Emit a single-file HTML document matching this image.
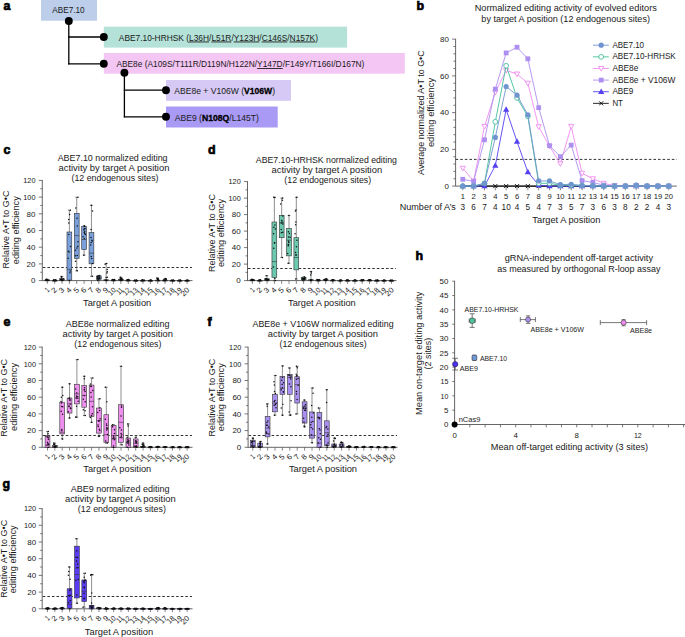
<!DOCTYPE html>
<html><head><meta charset="utf-8"><style>
html,body{margin:0;padding:0;background:#fff;overflow:hidden}
svg{display:block}
text{font-family:'Liberation Sans', sans-serif}
</style></head><body>
<svg width="685" height="637" viewBox="0 0 685 637" font-family="'Liberation Sans', sans-serif" fill="#1a1a1a">
<rect width="685" height="637" fill="#fff"/>
<text x="3.6" y="10" font-size="12.4" font-weight="bold" fill="#000" stroke="#000" stroke-width="0.7">a</text>
<text x="416.4" y="10" font-size="12.4" font-weight="bold" fill="#000" stroke="#000" stroke-width="0.7">b</text>
<text x="3.4" y="154" font-size="12.4" font-weight="bold" fill="#000" stroke="#000" stroke-width="0.7">c</text>
<text x="208" y="153.6" font-size="12.4" font-weight="bold" fill="#000" stroke="#000" stroke-width="0.7">d</text>
<text x="3.4" y="326" font-size="12.4" font-weight="bold" fill="#000" stroke="#000" stroke-width="0.7">e</text>
<text x="207.6" y="325.8" font-size="12.4" font-weight="bold" fill="#000" stroke="#000" stroke-width="0.7">f</text>
<text x="2.4" y="488" font-size="12.4" font-weight="bold" fill="#000" stroke="#000" stroke-width="0.7">g</text>
<text x="415.5" y="259.6" font-size="12.4" font-weight="bold" fill="#000" stroke="#000" stroke-width="0.7">h</text>
<rect x="41.00" y="0.00" width="56.00" height="20.70" fill="#bdceea" />
<rect x="103.80" y="26.70" width="243.30" height="20.90" fill="#b4e2d8" />
<rect x="103.80" y="53.00" width="301.00" height="20.70" fill="#f3c6f3" />
<rect x="166.00" y="80.00" width="125.00" height="20.80" fill="#d6c9f5" />
<rect x="166.00" y="106.50" width="111.70" height="21.00" fill="#a99af6" />
<line x1="68.80" y1="21.00" x2="68.80" y2="64.40" stroke="#000" stroke-width="1.3" />
<line x1="68.20" y1="37.00" x2="103.80" y2="37.00" stroke="#000" stroke-width="1.3" />
<line x1="68.20" y1="63.80" x2="103.80" y2="63.80" stroke="#000" stroke-width="1.3" />
<line x1="124.40" y1="72.80" x2="124.40" y2="117.40" stroke="#000" stroke-width="1.3" />
<line x1="123.80" y1="90.20" x2="166.00" y2="90.20" stroke="#000" stroke-width="1.3" />
<line x1="123.80" y1="116.80" x2="166.00" y2="116.80" stroke="#000" stroke-width="1.3" />
<circle cx="68.80" cy="21.00" r="3.95" fill="#000" />
<circle cx="103.80" cy="37.00" r="3.95" fill="#000" />
<circle cx="103.80" cy="63.70" r="3.95" fill="#000" />
<circle cx="124.40" cy="72.80" r="3.95" fill="#000" />
<circle cx="166.00" cy="90.20" r="3.95" fill="#000" />
<circle cx="166.00" cy="116.80" r="3.95" fill="#000" />
<text x="68.45" y="12.90" font-size="8.8" text-anchor="middle" textLength="32.40" lengthAdjust="spacingAndGlyphs">ABE7.10</text>
<text x="118.80" y="40.50" font-size="8.8" textLength="199.20" lengthAdjust="spacingAndGlyphs">ABE7.10-HRHSK (<tspan text-decoration="underline">L36H</tspan>/<tspan text-decoration="underline">L51R</tspan>/<tspan text-decoration="underline">Y123H</tspan>/<tspan text-decoration="underline">C146S</tspan>/<tspan text-decoration="underline">N157K</tspan>)</text>
<text x="116.40" y="67.10" font-size="8.8" textLength="248.00" lengthAdjust="spacingAndGlyphs">ABE8e (A109S/T111R/D119N/H122N/<tspan text-decoration="underline">Y147D</tspan>/F149Y/T166I/D167N)</text>
<text x="174.30" y="93.90" font-size="8.8" textLength="100.70" lengthAdjust="spacingAndGlyphs">ABE8e + V106W (<tspan font-weight="bold" fill="#000" stroke="#000" stroke-width="0.3">V106W</tspan>)</text>
<text x="174.70" y="120.80" font-size="8.8" textLength="84.30" lengthAdjust="spacingAndGlyphs">ABE9 (<tspan font-weight="bold" fill="#000" stroke="#000" stroke-width="0.3">N108Q</tspan>/L145T)</text>
<text x="474.65" y="11.00" font-size="9.0" textLength="182.20" lengthAdjust="spacingAndGlyphs">Normalized editing activity of evolved editors</text>
<text x="481.35" y="21.60" font-size="9.0" textLength="168.60" lengthAdjust="spacingAndGlyphs">by target A position (12 endogenous sites)</text>
<line x1="455.60" y1="38.74" x2="455.60" y2="186.10" stroke="#555" stroke-width="0.9" />
<line x1="452.10" y1="186.10" x2="455.60" y2="186.10" stroke="#555" stroke-width="0.8" />
<text x="448.90" y="188.85" font-size="7.8" text-anchor="end" textLength="4.45" lengthAdjust="spacingAndGlyphs">0</text>
<line x1="453.40" y1="178.75" x2="455.60" y2="178.75" stroke="#555" stroke-width="0.8" />
<line x1="453.40" y1="171.40" x2="455.60" y2="171.40" stroke="#555" stroke-width="0.8" />
<line x1="453.40" y1="164.06" x2="455.60" y2="164.06" stroke="#555" stroke-width="0.8" />
<line x1="453.40" y1="156.71" x2="455.60" y2="156.71" stroke="#555" stroke-width="0.8" />
<line x1="452.10" y1="149.36" x2="455.60" y2="149.36" stroke="#555" stroke-width="0.8" />
<text x="448.90" y="152.11" font-size="7.8" text-anchor="end" textLength="8.90" lengthAdjust="spacingAndGlyphs">20</text>
<line x1="453.40" y1="142.01" x2="455.60" y2="142.01" stroke="#555" stroke-width="0.8" />
<line x1="453.40" y1="134.66" x2="455.60" y2="134.66" stroke="#555" stroke-width="0.8" />
<line x1="453.40" y1="127.32" x2="455.60" y2="127.32" stroke="#555" stroke-width="0.8" />
<line x1="453.40" y1="119.97" x2="455.60" y2="119.97" stroke="#555" stroke-width="0.8" />
<line x1="452.10" y1="112.62" x2="455.60" y2="112.62" stroke="#555" stroke-width="0.8" />
<text x="448.90" y="115.37" font-size="7.8" text-anchor="end" textLength="8.90" lengthAdjust="spacingAndGlyphs">40</text>
<line x1="453.40" y1="105.27" x2="455.60" y2="105.27" stroke="#555" stroke-width="0.8" />
<line x1="453.40" y1="97.92" x2="455.60" y2="97.92" stroke="#555" stroke-width="0.8" />
<line x1="453.40" y1="90.58" x2="455.60" y2="90.58" stroke="#555" stroke-width="0.8" />
<line x1="453.40" y1="83.23" x2="455.60" y2="83.23" stroke="#555" stroke-width="0.8" />
<line x1="452.10" y1="75.88" x2="455.60" y2="75.88" stroke="#555" stroke-width="0.8" />
<text x="448.90" y="78.63" font-size="7.8" text-anchor="end" textLength="8.90" lengthAdjust="spacingAndGlyphs">60</text>
<line x1="453.40" y1="68.53" x2="455.60" y2="68.53" stroke="#555" stroke-width="0.8" />
<line x1="453.40" y1="61.18" x2="455.60" y2="61.18" stroke="#555" stroke-width="0.8" />
<line x1="453.40" y1="53.84" x2="455.60" y2="53.84" stroke="#555" stroke-width="0.8" />
<line x1="453.40" y1="46.49" x2="455.60" y2="46.49" stroke="#555" stroke-width="0.8" />
<line x1="452.10" y1="39.14" x2="455.60" y2="39.14" stroke="#555" stroke-width="0.8" />
<text x="448.90" y="41.89" font-size="7.8" text-anchor="end" textLength="8.90" lengthAdjust="spacingAndGlyphs">80</text>
<line x1="455.60" y1="186.10" x2="676.80" y2="186.10" stroke="#555" stroke-width="0.9" />
<line x1="462.80" y1="186.10" x2="462.80" y2="190.30" stroke="#555" stroke-width="0.7" />
<text x="462.80" y="199.30" font-size="7.6" text-anchor="middle">1</text>
<line x1="473.64" y1="186.10" x2="473.64" y2="190.30" stroke="#555" stroke-width="0.7" />
<text x="473.64" y="199.30" font-size="7.6" text-anchor="middle">2</text>
<line x1="484.48" y1="186.10" x2="484.48" y2="190.30" stroke="#555" stroke-width="0.7" />
<text x="484.48" y="199.30" font-size="7.6" text-anchor="middle">3</text>
<line x1="495.32" y1="186.10" x2="495.32" y2="190.30" stroke="#555" stroke-width="0.7" />
<text x="495.32" y="199.30" font-size="7.6" text-anchor="middle">4</text>
<line x1="506.16" y1="186.10" x2="506.16" y2="190.30" stroke="#555" stroke-width="0.7" />
<text x="506.16" y="199.30" font-size="7.6" text-anchor="middle">5</text>
<line x1="517.00" y1="186.10" x2="517.00" y2="190.30" stroke="#555" stroke-width="0.7" />
<text x="517.00" y="199.30" font-size="7.6" text-anchor="middle">6</text>
<line x1="527.84" y1="186.10" x2="527.84" y2="190.30" stroke="#555" stroke-width="0.7" />
<text x="527.84" y="199.30" font-size="7.6" text-anchor="middle">7</text>
<line x1="538.68" y1="186.10" x2="538.68" y2="190.30" stroke="#555" stroke-width="0.7" />
<text x="538.68" y="199.30" font-size="7.6" text-anchor="middle">8</text>
<line x1="549.52" y1="186.10" x2="549.52" y2="190.30" stroke="#555" stroke-width="0.7" />
<text x="549.52" y="199.30" font-size="7.6" text-anchor="middle">9</text>
<line x1="560.36" y1="186.10" x2="560.36" y2="190.30" stroke="#555" stroke-width="0.7" />
<text x="560.36" y="199.30" font-size="7.6" text-anchor="middle">10</text>
<line x1="571.20" y1="186.10" x2="571.20" y2="190.30" stroke="#555" stroke-width="0.7" />
<text x="571.20" y="199.30" font-size="7.6" text-anchor="middle">11</text>
<line x1="582.04" y1="186.10" x2="582.04" y2="190.30" stroke="#555" stroke-width="0.7" />
<text x="582.04" y="199.30" font-size="7.6" text-anchor="middle">12</text>
<line x1="592.88" y1="186.10" x2="592.88" y2="190.30" stroke="#555" stroke-width="0.7" />
<text x="592.88" y="199.30" font-size="7.6" text-anchor="middle">13</text>
<line x1="603.72" y1="186.10" x2="603.72" y2="190.30" stroke="#555" stroke-width="0.7" />
<text x="603.72" y="199.30" font-size="7.6" text-anchor="middle">14</text>
<line x1="614.56" y1="186.10" x2="614.56" y2="190.30" stroke="#555" stroke-width="0.7" />
<text x="614.56" y="199.30" font-size="7.6" text-anchor="middle">15</text>
<line x1="625.40" y1="186.10" x2="625.40" y2="190.30" stroke="#555" stroke-width="0.7" />
<text x="625.40" y="199.30" font-size="7.6" text-anchor="middle">16</text>
<line x1="636.24" y1="186.10" x2="636.24" y2="190.30" stroke="#555" stroke-width="0.7" />
<text x="636.24" y="199.30" font-size="7.6" text-anchor="middle">17</text>
<line x1="647.08" y1="186.10" x2="647.08" y2="190.30" stroke="#555" stroke-width="0.7" />
<text x="647.08" y="199.30" font-size="7.6" text-anchor="middle">18</text>
<line x1="657.92" y1="186.10" x2="657.92" y2="190.30" stroke="#555" stroke-width="0.7" />
<text x="657.92" y="199.30" font-size="7.6" text-anchor="middle">19</text>
<line x1="668.76" y1="186.10" x2="668.76" y2="190.30" stroke="#555" stroke-width="0.7" />
<text x="668.76" y="199.30" font-size="7.6" text-anchor="middle">20</text>
<text x="462.80" y="209.80" font-size="8.2" text-anchor="middle">3</text>
<text x="473.64" y="209.80" font-size="8.2" text-anchor="middle">6</text>
<text x="484.48" y="209.80" font-size="8.2" text-anchor="middle">7</text>
<text x="495.32" y="209.80" font-size="8.2" text-anchor="middle">4</text>
<text x="506.16" y="209.80" font-size="8.2" text-anchor="middle">10</text>
<text x="517.00" y="209.80" font-size="8.2" text-anchor="middle">4</text>
<text x="527.84" y="209.80" font-size="8.2" text-anchor="middle">5</text>
<text x="538.68" y="209.80" font-size="8.2" text-anchor="middle">4</text>
<text x="549.52" y="209.80" font-size="8.2" text-anchor="middle">7</text>
<text x="560.36" y="209.80" font-size="8.2" text-anchor="middle">3</text>
<text x="571.20" y="209.80" font-size="8.2" text-anchor="middle">5</text>
<text x="582.04" y="209.80" font-size="8.2" text-anchor="middle">7</text>
<text x="592.88" y="209.80" font-size="8.2" text-anchor="middle">3</text>
<text x="603.72" y="209.80" font-size="8.2" text-anchor="middle">6</text>
<text x="614.56" y="209.80" font-size="8.2" text-anchor="middle">3</text>
<text x="625.40" y="209.80" font-size="8.2" text-anchor="middle">8</text>
<text x="636.24" y="209.80" font-size="8.2" text-anchor="middle">2</text>
<text x="647.08" y="209.80" font-size="8.2" text-anchor="middle">2</text>
<text x="657.92" y="209.80" font-size="8.2" text-anchor="middle">4</text>
<text x="668.76" y="209.80" font-size="8.2" text-anchor="middle">3</text>
<text x="455.90" y="209.60" font-size="8.4" text-anchor="end" textLength="56.20" lengthAdjust="spacingAndGlyphs">Number of A’s</text>
<text x="532.35" y="222.70" font-size="9.0" textLength="68.10" lengthAdjust="spacingAndGlyphs">Target A position</text>
<text x="423.60" y="112.60" font-size="9.0" text-anchor="middle" textLength="124.60" lengthAdjust="spacingAndGlyphs" transform="rotate(-90 423.60 112.60)">Average normalized A•T to G•C</text>
<text x="434.40" y="112.50" font-size="9.0" text-anchor="middle" textLength="69.20" lengthAdjust="spacingAndGlyphs" transform="rotate(-90 434.40 112.50)">editing efficiency</text>
<line x1="455.60" y1="159.40" x2="676.80" y2="159.40" stroke="#333" stroke-width="1.0" stroke-dasharray="2.6 2.0"/>
<polyline points="462.80,186.10 473.64,186.10 484.48,186.10 495.32,186.10 506.16,186.10 517.00,186.10 527.84,186.10 538.68,186.10 549.52,186.10 560.36,186.10 571.20,186.10 582.04,186.10 592.88,186.10 603.72,186.10 614.56,186.10 625.40,186.10 636.24,186.10 647.08,186.10 657.92,186.10 668.76,186.10" fill="none" stroke="#111" stroke-width="1.2"/>
<path d="M460.80 184.10 L464.80 188.10 M464.80 184.10 L460.80 188.10" stroke="#111" stroke-width="1"/>
<path d="M471.64 184.10 L475.64 188.10 M475.64 184.10 L471.64 188.10" stroke="#111" stroke-width="1"/>
<path d="M482.48 184.10 L486.48 188.10 M486.48 184.10 L482.48 188.10" stroke="#111" stroke-width="1"/>
<path d="M493.32 184.10 L497.32 188.10 M497.32 184.10 L493.32 188.10" stroke="#111" stroke-width="1"/>
<path d="M504.16 184.10 L508.16 188.10 M508.16 184.10 L504.16 188.10" stroke="#111" stroke-width="1"/>
<path d="M515.00 184.10 L519.00 188.10 M519.00 184.10 L515.00 188.10" stroke="#111" stroke-width="1"/>
<path d="M525.84 184.10 L529.84 188.10 M529.84 184.10 L525.84 188.10" stroke="#111" stroke-width="1"/>
<path d="M536.68 184.10 L540.68 188.10 M540.68 184.10 L536.68 188.10" stroke="#111" stroke-width="1"/>
<path d="M547.52 184.10 L551.52 188.10 M551.52 184.10 L547.52 188.10" stroke="#111" stroke-width="1"/>
<path d="M558.36 184.10 L562.36 188.10 M562.36 184.10 L558.36 188.10" stroke="#111" stroke-width="1"/>
<path d="M569.20 184.10 L573.20 188.10 M573.20 184.10 L569.20 188.10" stroke="#111" stroke-width="1"/>
<path d="M580.04 184.10 L584.04 188.10 M584.04 184.10 L580.04 188.10" stroke="#111" stroke-width="1"/>
<path d="M590.88 184.10 L594.88 188.10 M594.88 184.10 L590.88 188.10" stroke="#111" stroke-width="1"/>
<path d="M601.72 184.10 L605.72 188.10 M605.72 184.10 L601.72 188.10" stroke="#111" stroke-width="1"/>
<path d="M612.56 184.10 L616.56 188.10 M616.56 184.10 L612.56 188.10" stroke="#111" stroke-width="1"/>
<path d="M623.40 184.10 L627.40 188.10 M627.40 184.10 L623.40 188.10" stroke="#111" stroke-width="1"/>
<path d="M634.24 184.10 L638.24 188.10 M638.24 184.10 L634.24 188.10" stroke="#111" stroke-width="1"/>
<path d="M645.08 184.10 L649.08 188.10 M649.08 184.10 L645.08 188.10" stroke="#111" stroke-width="1"/>
<path d="M655.92 184.10 L659.92 188.10 M659.92 184.10 L655.92 188.10" stroke="#111" stroke-width="1"/>
<path d="M666.76 184.10 L670.76 188.10 M670.76 184.10 L666.76 188.10" stroke="#111" stroke-width="1"/>
<polyline points="462.80,186.10 473.64,186.10 484.48,186.10 495.32,165.53 506.16,109.50 517.00,141.64 527.84,171.96 538.68,185.18 549.52,186.10 560.36,186.10 571.20,186.10 582.04,186.10 592.88,186.10 603.72,186.10 614.56,186.10 625.40,186.10 636.24,186.10 647.08,186.10 657.92,186.10 668.76,186.10" fill="none" stroke="#5440f2" stroke-width="0.9"/>
<path d="M462.80 182.80 L465.90 188.30 L459.70 188.30Z" fill="#5440f2"/>
<path d="M473.64 182.80 L476.74 188.30 L470.54 188.30Z" fill="#5440f2"/>
<path d="M484.48 182.80 L487.58 188.30 L481.38 188.30Z" fill="#5440f2"/>
<path d="M495.32 162.23 L498.42 167.73 L492.22 167.73Z" fill="#5440f2"/>
<path d="M506.16 106.20 L509.26 111.70 L503.06 111.70Z" fill="#5440f2"/>
<path d="M517.00 138.34 L520.10 143.84 L513.90 143.84Z" fill="#5440f2"/>
<path d="M527.84 168.66 L530.94 174.16 L524.74 174.16Z" fill="#5440f2"/>
<path d="M538.68 181.88 L541.78 187.38 L535.58 187.38Z" fill="#5440f2"/>
<path d="M549.52 182.80 L552.62 188.30 L546.42 188.30Z" fill="#5440f2"/>
<path d="M560.36 182.80 L563.46 188.30 L557.26 188.30Z" fill="#5440f2"/>
<path d="M571.20 182.80 L574.30 188.30 L568.10 188.30Z" fill="#5440f2"/>
<path d="M582.04 182.80 L585.14 188.30 L578.94 188.30Z" fill="#5440f2"/>
<path d="M592.88 182.80 L595.98 188.30 L589.78 188.30Z" fill="#5440f2"/>
<path d="M603.72 182.80 L606.82 188.30 L600.62 188.30Z" fill="#5440f2"/>
<path d="M614.56 182.80 L617.66 188.30 L611.46 188.30Z" fill="#5440f2"/>
<path d="M625.40 182.80 L628.50 188.30 L622.30 188.30Z" fill="#5440f2"/>
<path d="M636.24 182.80 L639.34 188.30 L633.14 188.30Z" fill="#5440f2"/>
<path d="M647.08 182.80 L650.18 188.30 L643.98 188.30Z" fill="#5440f2"/>
<path d="M657.92 182.80 L661.02 188.30 L654.82 188.30Z" fill="#5440f2"/>
<path d="M668.76 182.80 L671.86 188.30 L665.66 188.30Z" fill="#5440f2"/>
<polyline points="462.80,168.28 473.64,180.96 484.48,126.40 495.32,92.41 506.16,70.37 517.00,74.04 527.84,83.23 538.68,126.76 549.52,146.24 560.36,163.69 571.20,126.40 582.04,173.24 592.88,178.75 603.72,183.34 614.56,185.55 625.40,186.10 636.24,185.73 647.08,186.10 657.92,186.10 668.76,186.10" fill="none" stroke="#ef8bef" stroke-width="0.9"/>
<path d="M462.80 170.88 L465.40 166.28 L460.20 166.28Z" fill="#fff" stroke="#ef8bef" stroke-width="0.9"/>
<path d="M473.64 183.56 L476.24 178.96 L471.04 178.96Z" fill="#fff" stroke="#ef8bef" stroke-width="0.9"/>
<path d="M484.48 129.00 L487.08 124.40 L481.88 124.40Z" fill="#fff" stroke="#ef8bef" stroke-width="0.9"/>
<path d="M495.32 95.01 L497.92 90.41 L492.72 90.41Z" fill="#fff" stroke="#ef8bef" stroke-width="0.9"/>
<path d="M506.16 72.97 L508.76 68.37 L503.56 68.37Z" fill="#fff" stroke="#ef8bef" stroke-width="0.9"/>
<path d="M517.00 76.64 L519.60 72.04 L514.40 72.04Z" fill="#fff" stroke="#ef8bef" stroke-width="0.9"/>
<path d="M527.84 85.83 L530.44 81.23 L525.24 81.23Z" fill="#fff" stroke="#ef8bef" stroke-width="0.9"/>
<path d="M538.68 129.36 L541.28 124.76 L536.08 124.76Z" fill="#fff" stroke="#ef8bef" stroke-width="0.9"/>
<path d="M549.52 148.84 L552.12 144.24 L546.92 144.24Z" fill="#fff" stroke="#ef8bef" stroke-width="0.9"/>
<path d="M560.36 166.29 L562.96 161.69 L557.76 161.69Z" fill="#fff" stroke="#ef8bef" stroke-width="0.9"/>
<path d="M571.20 129.00 L573.80 124.40 L568.60 124.40Z" fill="#fff" stroke="#ef8bef" stroke-width="0.9"/>
<path d="M582.04 175.84 L584.64 171.24 L579.44 171.24Z" fill="#fff" stroke="#ef8bef" stroke-width="0.9"/>
<path d="M592.88 181.35 L595.48 176.75 L590.28 176.75Z" fill="#fff" stroke="#ef8bef" stroke-width="0.9"/>
<path d="M603.72 185.94 L606.32 181.34 L601.12 181.34Z" fill="#fff" stroke="#ef8bef" stroke-width="0.9"/>
<path d="M614.56 188.15 L617.16 183.55 L611.96 183.55Z" fill="#fff" stroke="#ef8bef" stroke-width="0.9"/>
<path d="M625.40 188.70 L628.00 184.10 L622.80 184.10Z" fill="#fff" stroke="#ef8bef" stroke-width="0.9"/>
<path d="M636.24 188.33 L638.84 183.73 L633.64 183.73Z" fill="#fff" stroke="#ef8bef" stroke-width="0.9"/>
<path d="M647.08 188.70 L649.68 184.10 L644.48 184.10Z" fill="#fff" stroke="#ef8bef" stroke-width="0.9"/>
<path d="M657.92 188.70 L660.52 184.10 L655.32 184.10Z" fill="#fff" stroke="#ef8bef" stroke-width="0.9"/>
<path d="M668.76 188.70 L671.36 184.10 L666.16 184.10Z" fill="#fff" stroke="#ef8bef" stroke-width="0.9"/>
<polyline points="462.80,179.30 473.64,181.51 484.48,139.81 495.32,89.11 506.16,52.92 517.00,47.22 527.84,58.80 538.68,107.66 549.52,145.69 560.36,156.71 571.20,145.13 582.04,180.59 592.88,182.43 603.72,185.18 614.56,185.73 625.40,186.10 636.24,185.73 647.08,186.10 657.92,186.10 668.76,186.10" fill="none" stroke="#ad8ff0" stroke-width="0.9"/>
<rect x="460.40" y="176.90" width="4.80" height="4.80" fill="#ad8ff0" />
<rect x="471.24" y="179.11" width="4.80" height="4.80" fill="#ad8ff0" />
<rect x="482.08" y="137.41" width="4.80" height="4.80" fill="#ad8ff0" />
<rect x="492.92" y="86.71" width="4.80" height="4.80" fill="#ad8ff0" />
<rect x="503.76" y="50.52" width="4.80" height="4.80" fill="#ad8ff0" />
<rect x="514.60" y="44.82" width="4.80" height="4.80" fill="#ad8ff0" />
<rect x="525.44" y="56.40" width="4.80" height="4.80" fill="#ad8ff0" />
<rect x="536.28" y="105.26" width="4.80" height="4.80" fill="#ad8ff0" />
<rect x="547.12" y="143.29" width="4.80" height="4.80" fill="#ad8ff0" />
<rect x="557.96" y="154.31" width="4.80" height="4.80" fill="#ad8ff0" />
<rect x="568.80" y="142.73" width="4.80" height="4.80" fill="#ad8ff0" />
<rect x="579.64" y="178.19" width="4.80" height="4.80" fill="#ad8ff0" />
<rect x="590.48" y="180.03" width="4.80" height="4.80" fill="#ad8ff0" />
<rect x="601.32" y="182.78" width="4.80" height="4.80" fill="#ad8ff0" />
<rect x="612.16" y="183.33" width="4.80" height="4.80" fill="#ad8ff0" />
<rect x="623.00" y="183.70" width="4.80" height="4.80" fill="#ad8ff0" />
<rect x="633.84" y="183.33" width="4.80" height="4.80" fill="#ad8ff0" />
<rect x="644.68" y="183.70" width="4.80" height="4.80" fill="#ad8ff0" />
<rect x="655.52" y="183.70" width="4.80" height="4.80" fill="#ad8ff0" />
<rect x="666.36" y="183.70" width="4.80" height="4.80" fill="#ad8ff0" />
<polyline points="462.80,186.10 473.64,186.10 484.48,183.34 495.32,121.80 506.16,65.78 517.00,97.92 527.84,116.29 538.68,183.34 549.52,183.34 560.36,185.18 571.20,185.18 582.04,185.55 592.88,185.73 603.72,186.10 614.56,186.10 625.40,186.10 636.24,185.55 647.08,186.10 657.92,186.10 668.76,186.10" fill="none" stroke="#45bf9c" stroke-width="0.9"/>
<circle cx="462.80" cy="186.10" r="2.4" fill="#fff" stroke="#45bf9c" stroke-width="0.9"/>
<circle cx="473.64" cy="186.10" r="2.4" fill="#fff" stroke="#45bf9c" stroke-width="0.9"/>
<circle cx="484.48" cy="183.34" r="2.4" fill="#fff" stroke="#45bf9c" stroke-width="0.9"/>
<circle cx="495.32" cy="121.80" r="2.4" fill="#fff" stroke="#45bf9c" stroke-width="0.9"/>
<circle cx="506.16" cy="65.78" r="2.4" fill="#fff" stroke="#45bf9c" stroke-width="0.9"/>
<circle cx="517.00" cy="97.92" r="2.4" fill="#fff" stroke="#45bf9c" stroke-width="0.9"/>
<circle cx="527.84" cy="116.29" r="2.4" fill="#fff" stroke="#45bf9c" stroke-width="0.9"/>
<circle cx="538.68" cy="183.34" r="2.4" fill="#fff" stroke="#45bf9c" stroke-width="0.9"/>
<circle cx="549.52" cy="183.34" r="2.4" fill="#fff" stroke="#45bf9c" stroke-width="0.9"/>
<circle cx="560.36" cy="185.18" r="2.4" fill="#fff" stroke="#45bf9c" stroke-width="0.9"/>
<circle cx="571.20" cy="185.18" r="2.4" fill="#fff" stroke="#45bf9c" stroke-width="0.9"/>
<circle cx="582.04" cy="185.55" r="2.4" fill="#fff" stroke="#45bf9c" stroke-width="0.9"/>
<circle cx="592.88" cy="185.73" r="2.4" fill="#fff" stroke="#45bf9c" stroke-width="0.9"/>
<circle cx="603.72" cy="186.10" r="2.4" fill="#fff" stroke="#45bf9c" stroke-width="0.9"/>
<circle cx="614.56" cy="186.10" r="2.4" fill="#fff" stroke="#45bf9c" stroke-width="0.9"/>
<circle cx="625.40" cy="186.10" r="2.4" fill="#fff" stroke="#45bf9c" stroke-width="0.9"/>
<circle cx="636.24" cy="185.55" r="2.4" fill="#fff" stroke="#45bf9c" stroke-width="0.9"/>
<circle cx="647.08" cy="186.10" r="2.4" fill="#fff" stroke="#45bf9c" stroke-width="0.9"/>
<circle cx="657.92" cy="186.10" r="2.4" fill="#fff" stroke="#45bf9c" stroke-width="0.9"/>
<circle cx="668.76" cy="186.10" r="2.4" fill="#fff" stroke="#45bf9c" stroke-width="0.9"/>
<polyline points="462.80,186.10 473.64,186.10 484.48,183.34 495.32,137.42 506.16,86.53 517.00,95.17 527.84,114.82 538.68,180.96 549.52,180.96 560.36,184.63 571.20,184.26 582.04,185.55 592.88,185.55 603.72,186.10 614.56,186.10 625.40,186.10 636.24,185.18 647.08,186.10 657.92,186.10 668.76,186.10" fill="none" stroke="#6f94cf" stroke-width="0.9"/>
<circle cx="462.80" cy="186.10" r="2.6" fill="#6f94cf" />
<circle cx="473.64" cy="186.10" r="2.6" fill="#6f94cf" />
<circle cx="484.48" cy="183.34" r="2.6" fill="#6f94cf" />
<circle cx="495.32" cy="137.42" r="2.6" fill="#6f94cf" />
<circle cx="506.16" cy="86.53" r="2.6" fill="#6f94cf" />
<circle cx="517.00" cy="95.17" r="2.6" fill="#6f94cf" />
<circle cx="527.84" cy="114.82" r="2.6" fill="#6f94cf" />
<circle cx="538.68" cy="180.96" r="2.6" fill="#6f94cf" />
<circle cx="549.52" cy="180.96" r="2.6" fill="#6f94cf" />
<circle cx="560.36" cy="184.63" r="2.6" fill="#6f94cf" />
<circle cx="571.20" cy="184.26" r="2.6" fill="#6f94cf" />
<circle cx="582.04" cy="185.55" r="2.6" fill="#6f94cf" />
<circle cx="592.88" cy="185.55" r="2.6" fill="#6f94cf" />
<circle cx="603.72" cy="186.10" r="2.6" fill="#6f94cf" />
<circle cx="614.56" cy="186.10" r="2.6" fill="#6f94cf" />
<circle cx="625.40" cy="186.10" r="2.6" fill="#6f94cf" />
<circle cx="636.24" cy="185.18" r="2.6" fill="#6f94cf" />
<circle cx="647.08" cy="186.10" r="2.6" fill="#6f94cf" />
<circle cx="657.92" cy="186.10" r="2.6" fill="#6f94cf" />
<circle cx="668.76" cy="186.10" r="2.6" fill="#6f94cf" />
<line x1="593.00" y1="45.20" x2="608.80" y2="45.20" stroke="#6f94cf" stroke-width="0.9" />
<circle cx="601.20" cy="45.20" r="2.6" fill="#6f94cf" />
<text x="612.40" y="47.65" font-size="8.3" textLength="31.70" lengthAdjust="spacingAndGlyphs">ABE7.10</text>
<line x1="593.00" y1="56.83" x2="608.80" y2="56.83" stroke="#45bf9c" stroke-width="0.9" />
<circle cx="601.20" cy="56.83" r="2.4" fill="#fff" stroke="#45bf9c" stroke-width="0.9"/>
<text x="612.40" y="59.28" font-size="8.3" textLength="63.40" lengthAdjust="spacingAndGlyphs">ABE7.10-HRHSK</text>
<line x1="593.00" y1="68.46" x2="608.80" y2="68.46" stroke="#ef8bef" stroke-width="0.9" />
<path d="M601.20 71.06 L603.80 66.46 L598.60 66.46Z" fill="#fff" stroke="#ef8bef" stroke-width="0.9"/>
<text x="612.40" y="70.91" font-size="8.3" textLength="26.00" lengthAdjust="spacingAndGlyphs">ABE8e</text>
<line x1="593.00" y1="80.09" x2="608.80" y2="80.09" stroke="#ad8ff0" stroke-width="0.9" />
<rect x="598.80" y="77.69" width="4.80" height="4.80" fill="#ad8ff0" />
<text x="612.40" y="82.54" font-size="8.3" textLength="63.00" lengthAdjust="spacingAndGlyphs">ABE8e + V106W</text>
<line x1="593.00" y1="91.72" x2="608.80" y2="91.72" stroke="#5440f2" stroke-width="0.9" />
<path d="M601.20 88.42 L604.30 93.92 L598.10 93.92Z" fill="#5440f2"/>
<text x="612.40" y="94.17" font-size="8.3" textLength="21.00" lengthAdjust="spacingAndGlyphs">ABE9</text>
<line x1="593.00" y1="103.35" x2="608.80" y2="103.35" stroke="#111" stroke-width="0.9" />
<path d="M599.20 101.35 L603.20 105.35 M603.20 101.35 L599.20 105.35" stroke="#111" stroke-width="1"/>
<text x="612.40" y="105.80" font-size="8.3" textLength="10.50" lengthAdjust="spacingAndGlyphs">NT</text>
<text x="57.65" y="160.90" font-size="9.0" textLength="109.90" lengthAdjust="spacingAndGlyphs">ABE7.10 normalized editing</text>
<text x="58.45" y="171.20" font-size="9.0" textLength="111.00" lengthAdjust="spacingAndGlyphs">activity by target A position</text>
<text x="71.55" y="181.40" font-size="9.0" textLength="86.90" lengthAdjust="spacingAndGlyphs">(12 endogenous sites)</text>
<text x="8.85" y="229.50" font-size="9.0" text-anchor="middle" textLength="77.80" lengthAdjust="spacingAndGlyphs" transform="rotate(-90 8.85 229.50)">Relative A•T to G•C</text>
<text x="18.75" y="230.20" font-size="9.0" text-anchor="middle" textLength="68.00" lengthAdjust="spacingAndGlyphs" transform="rotate(-90 18.75 230.20)">editing efficiency</text>
<line x1="42.30" y1="180.00" x2="42.30" y2="281.00" stroke="#555" stroke-width="0.9" />
<line x1="38.80" y1="280.60" x2="42.30" y2="280.60" stroke="#555" stroke-width="0.8" />
<text x="35.50" y="283.35" font-size="7.8" text-anchor="end" textLength="4.45" lengthAdjust="spacingAndGlyphs">0</text>
<line x1="40.30" y1="272.25" x2="42.30" y2="272.25" stroke="#555" stroke-width="0.8" />
<line x1="38.80" y1="263.90" x2="42.30" y2="263.90" stroke="#555" stroke-width="0.8" />
<text x="35.50" y="266.65" font-size="7.8" text-anchor="end" textLength="8.90" lengthAdjust="spacingAndGlyphs">20</text>
<line x1="40.30" y1="255.55" x2="42.30" y2="255.55" stroke="#555" stroke-width="0.8" />
<line x1="38.80" y1="247.20" x2="42.30" y2="247.20" stroke="#555" stroke-width="0.8" />
<text x="35.50" y="249.95" font-size="7.8" text-anchor="end" textLength="8.90" lengthAdjust="spacingAndGlyphs">40</text>
<line x1="40.30" y1="238.85" x2="42.30" y2="238.85" stroke="#555" stroke-width="0.8" />
<line x1="38.80" y1="230.50" x2="42.30" y2="230.50" stroke="#555" stroke-width="0.8" />
<text x="35.50" y="233.25" font-size="7.8" text-anchor="end" textLength="8.90" lengthAdjust="spacingAndGlyphs">60</text>
<line x1="40.30" y1="222.15" x2="42.30" y2="222.15" stroke="#555" stroke-width="0.8" />
<line x1="38.80" y1="213.80" x2="42.30" y2="213.80" stroke="#555" stroke-width="0.8" />
<text x="35.50" y="216.55" font-size="7.8" text-anchor="end" textLength="8.90" lengthAdjust="spacingAndGlyphs">80</text>
<line x1="40.30" y1="205.45" x2="42.30" y2="205.45" stroke="#555" stroke-width="0.8" />
<line x1="38.80" y1="197.10" x2="42.30" y2="197.10" stroke="#555" stroke-width="0.8" />
<text x="35.50" y="199.85" font-size="7.8" text-anchor="end" textLength="12.20" lengthAdjust="spacingAndGlyphs">100</text>
<line x1="40.30" y1="188.75" x2="42.30" y2="188.75" stroke="#555" stroke-width="0.8" />
<line x1="38.80" y1="180.40" x2="42.30" y2="180.40" stroke="#555" stroke-width="0.8" />
<text x="35.50" y="183.15" font-size="7.8" text-anchor="end" textLength="12.20" lengthAdjust="spacingAndGlyphs">120</text>
<line x1="42.30" y1="280.60" x2="192.50" y2="280.60" stroke="#555" stroke-width="0.9" />
<line x1="47.30" y1="280.60" x2="47.30" y2="283.90" stroke="#555" stroke-width="0.7" />
<text x="50.10" y="290.50" font-size="7.5" text-anchor="end" textLength="3.20" lengthAdjust="spacingAndGlyphs" transform="rotate(-45 50.10 290.50)">1</text>
<line x1="54.66" y1="280.60" x2="54.66" y2="283.90" stroke="#555" stroke-width="0.7" />
<text x="57.46" y="290.50" font-size="7.5" text-anchor="end" textLength="4.40" lengthAdjust="spacingAndGlyphs" transform="rotate(-45 57.46 290.50)">2</text>
<line x1="62.02" y1="280.60" x2="62.02" y2="283.90" stroke="#555" stroke-width="0.7" />
<text x="64.82" y="290.50" font-size="7.5" text-anchor="end" textLength="4.40" lengthAdjust="spacingAndGlyphs" transform="rotate(-45 64.82 290.50)">3</text>
<line x1="69.38" y1="280.60" x2="69.38" y2="283.90" stroke="#555" stroke-width="0.7" />
<text x="72.18" y="290.50" font-size="7.5" text-anchor="end" textLength="4.40" lengthAdjust="spacingAndGlyphs" transform="rotate(-45 72.18 290.50)">4</text>
<line x1="76.74" y1="280.60" x2="76.74" y2="283.90" stroke="#555" stroke-width="0.7" />
<text x="79.54" y="290.50" font-size="7.5" text-anchor="end" textLength="4.40" lengthAdjust="spacingAndGlyphs" transform="rotate(-45 79.54 290.50)">5</text>
<line x1="84.10" y1="280.60" x2="84.10" y2="283.90" stroke="#555" stroke-width="0.7" />
<text x="86.90" y="290.50" font-size="7.5" text-anchor="end" textLength="4.40" lengthAdjust="spacingAndGlyphs" transform="rotate(-45 86.90 290.50)">6</text>
<line x1="91.46" y1="280.60" x2="91.46" y2="283.90" stroke="#555" stroke-width="0.7" />
<text x="94.26" y="290.50" font-size="7.5" text-anchor="end" textLength="4.40" lengthAdjust="spacingAndGlyphs" transform="rotate(-45 94.26 290.50)">7</text>
<line x1="98.82" y1="280.60" x2="98.82" y2="283.90" stroke="#555" stroke-width="0.7" />
<text x="101.62" y="290.50" font-size="7.5" text-anchor="end" textLength="4.40" lengthAdjust="spacingAndGlyphs" transform="rotate(-45 101.62 290.50)">8</text>
<line x1="106.18" y1="280.60" x2="106.18" y2="283.90" stroke="#555" stroke-width="0.7" />
<text x="108.98" y="290.50" font-size="7.5" text-anchor="end" textLength="4.40" lengthAdjust="spacingAndGlyphs" transform="rotate(-45 108.98 290.50)">9</text>
<line x1="113.54" y1="280.60" x2="113.54" y2="283.90" stroke="#555" stroke-width="0.7" />
<text x="116.34" y="290.50" font-size="7.5" text-anchor="end" textLength="7.60" lengthAdjust="spacingAndGlyphs" transform="rotate(-45 116.34 290.50)">10</text>
<line x1="120.90" y1="280.60" x2="120.90" y2="283.90" stroke="#555" stroke-width="0.7" />
<text x="123.70" y="290.50" font-size="7.5" text-anchor="end" textLength="6.40" lengthAdjust="spacingAndGlyphs" transform="rotate(-45 123.70 290.50)">11</text>
<line x1="128.26" y1="280.60" x2="128.26" y2="283.90" stroke="#555" stroke-width="0.7" />
<text x="131.06" y="290.50" font-size="7.5" text-anchor="end" textLength="7.60" lengthAdjust="spacingAndGlyphs" transform="rotate(-45 131.06 290.50)">12</text>
<line x1="135.62" y1="280.60" x2="135.62" y2="283.90" stroke="#555" stroke-width="0.7" />
<text x="138.42" y="290.50" font-size="7.5" text-anchor="end" textLength="7.60" lengthAdjust="spacingAndGlyphs" transform="rotate(-45 138.42 290.50)">13</text>
<line x1="142.98" y1="280.60" x2="142.98" y2="283.90" stroke="#555" stroke-width="0.7" />
<text x="145.78" y="290.50" font-size="7.5" text-anchor="end" textLength="7.60" lengthAdjust="spacingAndGlyphs" transform="rotate(-45 145.78 290.50)">14</text>
<line x1="150.34" y1="280.60" x2="150.34" y2="283.90" stroke="#555" stroke-width="0.7" />
<text x="153.14" y="290.50" font-size="7.5" text-anchor="end" textLength="7.60" lengthAdjust="spacingAndGlyphs" transform="rotate(-45 153.14 290.50)">15</text>
<line x1="157.70" y1="280.60" x2="157.70" y2="283.90" stroke="#555" stroke-width="0.7" />
<text x="160.50" y="290.50" font-size="7.5" text-anchor="end" textLength="7.60" lengthAdjust="spacingAndGlyphs" transform="rotate(-45 160.50 290.50)">16</text>
<line x1="165.06" y1="280.60" x2="165.06" y2="283.90" stroke="#555" stroke-width="0.7" />
<text x="167.86" y="290.50" font-size="7.5" text-anchor="end" textLength="7.60" lengthAdjust="spacingAndGlyphs" transform="rotate(-45 167.86 290.50)">17</text>
<line x1="172.42" y1="280.60" x2="172.42" y2="283.90" stroke="#555" stroke-width="0.7" />
<text x="175.22" y="290.50" font-size="7.5" text-anchor="end" textLength="7.60" lengthAdjust="spacingAndGlyphs" transform="rotate(-45 175.22 290.50)">18</text>
<line x1="179.78" y1="280.60" x2="179.78" y2="283.90" stroke="#555" stroke-width="0.7" />
<text x="182.58" y="290.50" font-size="7.5" text-anchor="end" textLength="7.60" lengthAdjust="spacingAndGlyphs" transform="rotate(-45 182.58 290.50)">19</text>
<line x1="187.14" y1="280.60" x2="187.14" y2="283.90" stroke="#555" stroke-width="0.7" />
<text x="189.94" y="290.50" font-size="7.5" text-anchor="end" textLength="8.80" lengthAdjust="spacingAndGlyphs" transform="rotate(-45 189.94 290.50)">20</text>
<text x="83.05" y="306.40" font-size="9.0" textLength="68.20" lengthAdjust="spacingAndGlyphs">Target A position</text>
<line x1="42.80" y1="267.50" x2="192.00" y2="267.50" stroke="#333" stroke-width="1.0" stroke-dasharray="2.6 2.0"/>
<line x1="47.30" y1="279.35" x2="47.30" y2="280.60" stroke="#444" stroke-width="0.6" />
<line x1="46.00" y1="279.35" x2="48.60" y2="279.35" stroke="#333" stroke-width="0.7" />
<line x1="46.00" y1="280.60" x2="48.60" y2="280.60" stroke="#333" stroke-width="0.7" />
<rect x="44.90" y="279.93" width="4.80" height="0.80" fill="#7aa0dc" stroke="#333" stroke-width="0.6"/>
<line x1="44.90" y1="280.35" x2="49.70" y2="280.35" stroke="#333" stroke-width="0.6" />
<circle cx="46.41" cy="279.35" r="0.75" fill="#111" />
<circle cx="46.04" cy="280.60" r="0.75" fill="#111" />
<circle cx="47.37" cy="280.23" r="0.75" fill="#111" />
<circle cx="46.15" cy="280.02" r="0.75" fill="#111" />
<circle cx="46.49" cy="279.86" r="0.75" fill="#111" />
<circle cx="46.63" cy="280.26" r="0.75" fill="#111" />
<circle cx="46.08" cy="279.61" r="0.75" fill="#111" />
<circle cx="47.21" cy="280.40" r="0.75" fill="#111" />
<circle cx="47.15" cy="280.06" r="0.75" fill="#111" />
<circle cx="48.19" cy="280.55" r="0.75" fill="#111" />
<circle cx="47.35" cy="279.39" r="0.75" fill="#111" />
<circle cx="47.66" cy="279.83" r="0.75" fill="#111" />
<line x1="54.66" y1="279.93" x2="54.66" y2="280.60" stroke="#444" stroke-width="0.6" />
<line x1="53.36" y1="279.93" x2="55.96" y2="279.93" stroke="#333" stroke-width="0.7" />
<line x1="53.36" y1="280.60" x2="55.96" y2="280.60" stroke="#333" stroke-width="0.7" />
<rect x="52.26" y="280.35" width="4.80" height="0.80" fill="#7aa0dc" stroke="#333" stroke-width="0.6"/>
<line x1="52.26" y1="280.52" x2="57.06" y2="280.52" stroke="#333" stroke-width="0.6" />
<circle cx="55.73" cy="279.93" r="0.75" fill="#111" />
<circle cx="54.58" cy="280.60" r="0.75" fill="#111" />
<circle cx="55.91" cy="280.43" r="0.75" fill="#111" />
<circle cx="54.39" cy="280.53" r="0.75" fill="#111" />
<circle cx="53.55" cy="279.93" r="0.75" fill="#111" />
<circle cx="55.00" cy="280.13" r="0.75" fill="#111" />
<circle cx="55.38" cy="280.54" r="0.75" fill="#111" />
<circle cx="54.06" cy="280.58" r="0.75" fill="#111" />
<circle cx="53.59" cy="280.33" r="0.75" fill="#111" />
<circle cx="54.22" cy="280.34" r="0.75" fill="#111" />
<circle cx="55.87" cy="280.03" r="0.75" fill="#111" />
<circle cx="55.33" cy="280.55" r="0.75" fill="#111" />
<line x1="62.02" y1="276.43" x2="62.02" y2="280.60" stroke="#444" stroke-width="0.6" />
<line x1="60.72" y1="276.43" x2="63.32" y2="276.43" stroke="#333" stroke-width="0.7" />
<line x1="60.72" y1="280.60" x2="63.32" y2="280.60" stroke="#333" stroke-width="0.7" />
<rect x="59.62" y="278.76" width="4.80" height="1.84" fill="#7aa0dc" stroke="#333" stroke-width="0.6"/>
<line x1="59.62" y1="279.93" x2="64.42" y2="279.93" stroke="#333" stroke-width="0.6" />
<circle cx="61.27" cy="276.43" r="0.75" fill="#111" />
<circle cx="61.75" cy="280.60" r="0.75" fill="#111" />
<circle cx="62.94" cy="280.15" r="0.75" fill="#111" />
<circle cx="62.39" cy="280.49" r="0.75" fill="#111" />
<circle cx="60.98" cy="279.86" r="0.75" fill="#111" />
<circle cx="63.29" cy="278.73" r="0.75" fill="#111" />
<circle cx="61.27" cy="279.26" r="0.75" fill="#111" />
<circle cx="61.39" cy="279.42" r="0.75" fill="#111" />
<circle cx="62.73" cy="279.83" r="0.75" fill="#111" />
<circle cx="61.58" cy="280.10" r="0.75" fill="#111" />
<circle cx="61.49" cy="277.25" r="0.75" fill="#111" />
<circle cx="60.91" cy="278.97" r="0.75" fill="#111" />
<line x1="69.38" y1="210.21" x2="69.38" y2="280.60" stroke="#444" stroke-width="0.6" />
<line x1="68.08" y1="210.21" x2="70.68" y2="210.21" stroke="#333" stroke-width="0.7" />
<line x1="68.08" y1="280.60" x2="70.68" y2="280.60" stroke="#333" stroke-width="0.7" />
<rect x="66.98" y="232.00" width="4.80" height="48.10" fill="#7aa0dc" stroke="#333" stroke-width="0.6"/>
<line x1="66.98" y1="269.33" x2="71.78" y2="269.33" stroke="#333" stroke-width="0.6" />
<circle cx="70.37" cy="210.21" r="0.75" fill="#111" />
<circle cx="69.65" cy="280.60" r="0.75" fill="#111" />
<circle cx="69.18" cy="252.07" r="0.75" fill="#111" />
<circle cx="68.35" cy="251.18" r="0.75" fill="#111" />
<circle cx="68.18" cy="258.30" r="0.75" fill="#111" />
<circle cx="70.58" cy="246.55" r="0.75" fill="#111" />
<circle cx="68.70" cy="219.60" r="0.75" fill="#111" />
<circle cx="69.91" cy="272.69" r="0.75" fill="#111" />
<circle cx="68.75" cy="223.03" r="0.75" fill="#111" />
<circle cx="70.22" cy="270.97" r="0.75" fill="#111" />
<circle cx="69.63" cy="214.40" r="0.75" fill="#111" />
<circle cx="68.84" cy="234.40" r="0.75" fill="#111" />
<line x1="76.74" y1="197.27" x2="76.74" y2="270.83" stroke="#444" stroke-width="0.6" />
<line x1="75.44" y1="197.27" x2="78.04" y2="197.27" stroke="#333" stroke-width="0.7" />
<line x1="75.44" y1="270.83" x2="78.04" y2="270.83" stroke="#333" stroke-width="0.7" />
<rect x="74.34" y="213.30" width="4.80" height="45.01" fill="#7aa0dc" stroke="#333" stroke-width="0.6"/>
<line x1="74.34" y1="235.59" x2="79.14" y2="235.59" stroke="#333" stroke-width="0.6" />
<circle cx="77.99" cy="197.27" r="0.75" fill="#111" />
<circle cx="77.15" cy="270.83" r="0.75" fill="#111" />
<circle cx="77.24" cy="225.88" r="0.75" fill="#111" />
<circle cx="76.96" cy="248.03" r="0.75" fill="#111" />
<circle cx="75.80" cy="208.12" r="0.75" fill="#111" />
<circle cx="75.53" cy="250.22" r="0.75" fill="#111" />
<circle cx="75.49" cy="255.83" r="0.75" fill="#111" />
<circle cx="77.81" cy="246.19" r="0.75" fill="#111" />
<circle cx="77.26" cy="255.58" r="0.75" fill="#111" />
<circle cx="77.94" cy="241.71" r="0.75" fill="#111" />
<circle cx="75.50" cy="261.15" r="0.75" fill="#111" />
<circle cx="77.09" cy="218.21" r="0.75" fill="#111" />
<line x1="84.10" y1="225.91" x2="84.10" y2="255.13" stroke="#444" stroke-width="0.6" />
<line x1="82.80" y1="225.91" x2="85.40" y2="225.91" stroke="#333" stroke-width="0.7" />
<line x1="82.80" y1="255.13" x2="85.40" y2="255.13" stroke="#333" stroke-width="0.7" />
<rect x="81.70" y="226.24" width="4.80" height="23.38" fill="#7aa0dc" stroke="#333" stroke-width="0.6"/>
<line x1="81.70" y1="239.52" x2="86.50" y2="239.52" stroke="#333" stroke-width="0.6" />
<circle cx="84.42" cy="225.91" r="0.75" fill="#111" />
<circle cx="83.79" cy="255.13" r="0.75" fill="#111" />
<circle cx="84.31" cy="232.54" r="0.75" fill="#111" />
<circle cx="84.38" cy="226.26" r="0.75" fill="#111" />
<circle cx="83.01" cy="236.85" r="0.75" fill="#111" />
<circle cx="84.46" cy="228.82" r="0.75" fill="#111" />
<circle cx="85.38" cy="234.57" r="0.75" fill="#111" />
<circle cx="85.09" cy="228.39" r="0.75" fill="#111" />
<circle cx="84.69" cy="233.60" r="0.75" fill="#111" />
<circle cx="83.81" cy="229.67" r="0.75" fill="#111" />
<circle cx="84.71" cy="231.14" r="0.75" fill="#111" />
<circle cx="84.31" cy="238.39" r="0.75" fill="#111" />
<line x1="91.46" y1="205.37" x2="91.46" y2="276.34" stroke="#444" stroke-width="0.6" />
<line x1="90.16" y1="205.37" x2="92.76" y2="205.37" stroke="#333" stroke-width="0.7" />
<line x1="90.16" y1="276.34" x2="92.76" y2="276.34" stroke="#333" stroke-width="0.7" />
<rect x="89.06" y="232.50" width="4.80" height="31.31" fill="#7aa0dc" stroke="#333" stroke-width="0.6"/>
<line x1="89.06" y1="253.13" x2="93.86" y2="253.13" stroke="#333" stroke-width="0.6" />
<circle cx="91.31" cy="205.37" r="0.75" fill="#111" />
<circle cx="92.48" cy="276.34" r="0.75" fill="#111" />
<circle cx="91.01" cy="237.57" r="0.75" fill="#111" />
<circle cx="91.89" cy="240.33" r="0.75" fill="#111" />
<circle cx="90.68" cy="244.99" r="0.75" fill="#111" />
<circle cx="91.28" cy="256.61" r="0.75" fill="#111" />
<circle cx="92.26" cy="241.05" r="0.75" fill="#111" />
<circle cx="92.54" cy="211.01" r="0.75" fill="#111" />
<circle cx="92.45" cy="263.46" r="0.75" fill="#111" />
<circle cx="91.16" cy="242.58" r="0.75" fill="#111" />
<circle cx="91.68" cy="258.51" r="0.75" fill="#111" />
<circle cx="90.98" cy="229.50" r="0.75" fill="#111" />
<line x1="98.82" y1="275.59" x2="98.82" y2="280.60" stroke="#444" stroke-width="0.6" />
<line x1="97.52" y1="275.59" x2="100.12" y2="275.59" stroke="#333" stroke-width="0.7" />
<line x1="97.52" y1="280.60" x2="100.12" y2="280.60" stroke="#333" stroke-width="0.7" />
<rect x="96.42" y="276.01" width="4.80" height="3.34" fill="#7aa0dc" stroke="#333" stroke-width="0.6"/>
<line x1="96.42" y1="277.68" x2="101.22" y2="277.68" stroke="#333" stroke-width="0.6" />
<circle cx="99.79" cy="275.59" r="0.75" fill="#111" />
<circle cx="97.63" cy="280.60" r="0.75" fill="#111" />
<circle cx="99.36" cy="277.69" r="0.75" fill="#111" />
<circle cx="99.00" cy="276.35" r="0.75" fill="#111" />
<circle cx="98.32" cy="275.84" r="0.75" fill="#111" />
<circle cx="99.58" cy="278.78" r="0.75" fill="#111" />
<circle cx="97.57" cy="278.43" r="0.75" fill="#111" />
<circle cx="97.87" cy="277.96" r="0.75" fill="#111" />
<circle cx="98.70" cy="278.13" r="0.75" fill="#111" />
<circle cx="97.58" cy="276.54" r="0.75" fill="#111" />
<circle cx="99.68" cy="278.33" r="0.75" fill="#111" />
<circle cx="98.14" cy="279.24" r="0.75" fill="#111" />
<line x1="106.18" y1="263.48" x2="106.18" y2="280.60" stroke="#444" stroke-width="0.6" />
<line x1="104.88" y1="263.48" x2="107.48" y2="263.48" stroke="#333" stroke-width="0.7" />
<line x1="104.88" y1="280.60" x2="107.48" y2="280.60" stroke="#333" stroke-width="0.7" />
<rect x="103.78" y="279.77" width="4.80" height="0.83" fill="#7aa0dc" stroke="#333" stroke-width="0.6"/>
<line x1="103.78" y1="280.18" x2="108.58" y2="280.18" stroke="#333" stroke-width="0.6" />
<circle cx="106.48" cy="263.48" r="0.75" fill="#111" />
<circle cx="106.85" cy="280.60" r="0.75" fill="#111" />
<circle cx="105.90" cy="280.56" r="0.75" fill="#111" />
<circle cx="106.94" cy="272.96" r="0.75" fill="#111" />
<circle cx="107.24" cy="269.39" r="0.75" fill="#111" />
<circle cx="105.11" cy="264.19" r="0.75" fill="#111" />
<circle cx="107.30" cy="277.19" r="0.75" fill="#111" />
<circle cx="106.76" cy="280.45" r="0.75" fill="#111" />
<circle cx="105.22" cy="280.21" r="0.75" fill="#111" />
<circle cx="106.06" cy="277.53" r="0.75" fill="#111" />
<circle cx="106.51" cy="280.31" r="0.75" fill="#111" />
<circle cx="107.25" cy="271.69" r="0.75" fill="#111" />
<line x1="113.54" y1="279.60" x2="113.54" y2="280.60" stroke="#444" stroke-width="0.6" />
<line x1="112.24" y1="279.60" x2="114.84" y2="279.60" stroke="#333" stroke-width="0.7" />
<line x1="112.24" y1="280.60" x2="114.84" y2="280.60" stroke="#333" stroke-width="0.7" />
<rect x="111.14" y="280.10" width="4.80" height="0.80" fill="#7aa0dc" stroke="#333" stroke-width="0.6"/>
<line x1="111.14" y1="280.43" x2="115.94" y2="280.43" stroke="#333" stroke-width="0.6" />
<circle cx="114.47" cy="279.60" r="0.75" fill="#111" />
<circle cx="113.15" cy="280.60" r="0.75" fill="#111" />
<circle cx="112.46" cy="280.32" r="0.75" fill="#111" />
<circle cx="113.39" cy="279.80" r="0.75" fill="#111" />
<circle cx="113.67" cy="280.14" r="0.75" fill="#111" />
<circle cx="114.24" cy="280.39" r="0.75" fill="#111" />
<circle cx="113.51" cy="279.78" r="0.75" fill="#111" />
<circle cx="112.31" cy="279.88" r="0.75" fill="#111" />
<circle cx="114.34" cy="280.15" r="0.75" fill="#111" />
<circle cx="112.41" cy="279.62" r="0.75" fill="#111" />
<circle cx="114.32" cy="279.81" r="0.75" fill="#111" />
<circle cx="112.69" cy="280.14" r="0.75" fill="#111" />
<line x1="120.90" y1="277.26" x2="120.90" y2="280.60" stroke="#444" stroke-width="0.6" />
<line x1="119.60" y1="277.26" x2="122.20" y2="277.26" stroke="#333" stroke-width="0.7" />
<line x1="119.60" y1="280.60" x2="122.20" y2="280.60" stroke="#333" stroke-width="0.7" />
<rect x="118.50" y="279.35" width="4.80" height="1.25" fill="#7aa0dc" stroke="#333" stroke-width="0.6"/>
<line x1="118.50" y1="280.18" x2="123.30" y2="280.18" stroke="#333" stroke-width="0.6" />
<circle cx="120.41" cy="277.26" r="0.75" fill="#111" />
<circle cx="120.59" cy="280.60" r="0.75" fill="#111" />
<circle cx="121.80" cy="279.61" r="0.75" fill="#111" />
<circle cx="121.94" cy="280.41" r="0.75" fill="#111" />
<circle cx="120.14" cy="278.18" r="0.75" fill="#111" />
<circle cx="121.81" cy="278.30" r="0.75" fill="#111" />
<circle cx="122.12" cy="278.95" r="0.75" fill="#111" />
<circle cx="120.96" cy="280.31" r="0.75" fill="#111" />
<circle cx="121.09" cy="279.94" r="0.75" fill="#111" />
<circle cx="120.12" cy="279.69" r="0.75" fill="#111" />
<circle cx="120.99" cy="278.85" r="0.75" fill="#111" />
<circle cx="120.91" cy="278.73" r="0.75" fill="#111" />
<line x1="128.26" y1="279.60" x2="128.26" y2="280.60" stroke="#444" stroke-width="0.6" />
<line x1="126.96" y1="279.60" x2="129.56" y2="279.60" stroke="#333" stroke-width="0.7" />
<line x1="126.96" y1="280.60" x2="129.56" y2="280.60" stroke="#333" stroke-width="0.7" />
<rect x="125.86" y="280.18" width="4.80" height="0.80" fill="#7aa0dc" stroke="#333" stroke-width="0.6"/>
<line x1="125.86" y1="280.43" x2="130.66" y2="280.43" stroke="#333" stroke-width="0.6" />
<circle cx="128.20" cy="279.60" r="0.75" fill="#111" />
<circle cx="127.78" cy="280.60" r="0.75" fill="#111" />
<circle cx="127.46" cy="280.57" r="0.75" fill="#111" />
<circle cx="128.57" cy="280.08" r="0.75" fill="#111" />
<circle cx="129.37" cy="280.27" r="0.75" fill="#111" />
<circle cx="127.30" cy="280.11" r="0.75" fill="#111" />
<circle cx="128.99" cy="280.53" r="0.75" fill="#111" />
<circle cx="127.02" cy="280.19" r="0.75" fill="#111" />
<circle cx="127.46" cy="279.67" r="0.75" fill="#111" />
<circle cx="127.55" cy="280.40" r="0.75" fill="#111" />
<circle cx="128.75" cy="280.42" r="0.75" fill="#111" />
<circle cx="127.80" cy="279.70" r="0.75" fill="#111" />
<line x1="135.62" y1="280.18" x2="135.62" y2="280.60" stroke="#444" stroke-width="0.6" />
<line x1="134.32" y1="280.18" x2="136.92" y2="280.18" stroke="#333" stroke-width="0.7" />
<line x1="134.32" y1="280.60" x2="136.92" y2="280.60" stroke="#333" stroke-width="0.7" />
<rect x="133.22" y="280.35" width="4.80" height="0.80" fill="#7aa0dc" stroke="#333" stroke-width="0.6"/>
<line x1="133.22" y1="280.52" x2="138.02" y2="280.52" stroke="#333" stroke-width="0.6" />
<circle cx="136.55" cy="280.18" r="0.75" fill="#111" />
<circle cx="134.92" cy="280.60" r="0.75" fill="#111" />
<circle cx="136.25" cy="280.44" r="0.75" fill="#111" />
<circle cx="136.43" cy="280.42" r="0.75" fill="#111" />
<circle cx="136.67" cy="280.47" r="0.75" fill="#111" />
<circle cx="135.14" cy="280.55" r="0.75" fill="#111" />
<circle cx="135.14" cy="280.42" r="0.75" fill="#111" />
<circle cx="136.72" cy="280.50" r="0.75" fill="#111" />
<circle cx="134.89" cy="280.53" r="0.75" fill="#111" />
<circle cx="136.92" cy="280.44" r="0.75" fill="#111" />
<circle cx="136.63" cy="280.38" r="0.75" fill="#111" />
<circle cx="134.67" cy="280.34" r="0.75" fill="#111" />
<line x1="142.98" y1="280.10" x2="142.98" y2="280.60" stroke="#444" stroke-width="0.6" />
<line x1="141.68" y1="280.10" x2="144.28" y2="280.10" stroke="#333" stroke-width="0.7" />
<line x1="141.68" y1="280.60" x2="144.28" y2="280.60" stroke="#333" stroke-width="0.7" />
<rect x="140.58" y="280.35" width="4.80" height="0.80" fill="#7aa0dc" stroke="#333" stroke-width="0.6"/>
<line x1="140.58" y1="280.52" x2="145.38" y2="280.52" stroke="#333" stroke-width="0.6" />
<circle cx="142.17" cy="280.10" r="0.75" fill="#111" />
<circle cx="141.86" cy="280.60" r="0.75" fill="#111" />
<circle cx="141.96" cy="280.42" r="0.75" fill="#111" />
<circle cx="141.78" cy="280.58" r="0.75" fill="#111" />
<circle cx="143.11" cy="280.39" r="0.75" fill="#111" />
<circle cx="143.02" cy="280.54" r="0.75" fill="#111" />
<circle cx="143.16" cy="280.43" r="0.75" fill="#111" />
<circle cx="142.06" cy="280.55" r="0.75" fill="#111" />
<circle cx="142.16" cy="280.14" r="0.75" fill="#111" />
<circle cx="142.21" cy="280.54" r="0.75" fill="#111" />
<circle cx="143.86" cy="280.22" r="0.75" fill="#111" />
<circle cx="144.25" cy="280.26" r="0.75" fill="#111" />
<line x1="150.34" y1="280.27" x2="150.34" y2="280.60" stroke="#444" stroke-width="0.6" />
<line x1="149.04" y1="280.27" x2="151.64" y2="280.27" stroke="#333" stroke-width="0.7" />
<line x1="149.04" y1="280.60" x2="151.64" y2="280.60" stroke="#333" stroke-width="0.7" />
<rect x="147.94" y="280.43" width="4.80" height="0.80" fill="#7aa0dc" stroke="#333" stroke-width="0.6"/>
<line x1="147.94" y1="280.52" x2="152.74" y2="280.52" stroke="#333" stroke-width="0.6" />
<circle cx="150.37" cy="280.27" r="0.75" fill="#111" />
<circle cx="149.08" cy="280.60" r="0.75" fill="#111" />
<circle cx="151.36" cy="280.57" r="0.75" fill="#111" />
<circle cx="151.12" cy="280.44" r="0.75" fill="#111" />
<circle cx="150.87" cy="280.47" r="0.75" fill="#111" />
<circle cx="151.28" cy="280.52" r="0.75" fill="#111" />
<circle cx="150.68" cy="280.46" r="0.75" fill="#111" />
<circle cx="150.09" cy="280.60" r="0.75" fill="#111" />
<circle cx="150.60" cy="280.32" r="0.75" fill="#111" />
<circle cx="150.35" cy="280.52" r="0.75" fill="#111" />
<circle cx="151.59" cy="280.46" r="0.75" fill="#111" />
<circle cx="151.13" cy="280.57" r="0.75" fill="#111" />
<line x1="157.70" y1="278.10" x2="157.70" y2="280.60" stroke="#444" stroke-width="0.6" />
<line x1="156.40" y1="278.10" x2="159.00" y2="278.10" stroke="#333" stroke-width="0.7" />
<line x1="156.40" y1="280.60" x2="159.00" y2="280.60" stroke="#333" stroke-width="0.7" />
<rect x="155.30" y="280.18" width="4.80" height="0.80" fill="#7aa0dc" stroke="#333" stroke-width="0.6"/>
<line x1="155.30" y1="280.43" x2="160.10" y2="280.43" stroke="#333" stroke-width="0.6" />
<circle cx="157.00" cy="278.10" r="0.75" fill="#111" />
<circle cx="158.86" cy="280.60" r="0.75" fill="#111" />
<circle cx="158.13" cy="280.22" r="0.75" fill="#111" />
<circle cx="157.28" cy="278.65" r="0.75" fill="#111" />
<circle cx="158.12" cy="279.58" r="0.75" fill="#111" />
<circle cx="157.88" cy="278.40" r="0.75" fill="#111" />
<circle cx="157.79" cy="278.68" r="0.75" fill="#111" />
<circle cx="157.41" cy="279.58" r="0.75" fill="#111" />
<circle cx="159.00" cy="280.42" r="0.75" fill="#111" />
<circle cx="158.07" cy="280.40" r="0.75" fill="#111" />
<circle cx="158.22" cy="280.45" r="0.75" fill="#111" />
<circle cx="158.38" cy="279.04" r="0.75" fill="#111" />
<line x1="165.06" y1="278.51" x2="165.06" y2="280.60" stroke="#444" stroke-width="0.6" />
<line x1="163.76" y1="278.51" x2="166.36" y2="278.51" stroke="#333" stroke-width="0.7" />
<line x1="163.76" y1="280.60" x2="166.36" y2="280.60" stroke="#333" stroke-width="0.7" />
<rect x="162.66" y="280.18" width="4.80" height="0.80" fill="#7aa0dc" stroke="#333" stroke-width="0.6"/>
<line x1="162.66" y1="280.43" x2="167.46" y2="280.43" stroke="#333" stroke-width="0.6" />
<circle cx="165.31" cy="278.51" r="0.75" fill="#111" />
<circle cx="165.73" cy="280.60" r="0.75" fill="#111" />
<circle cx="163.88" cy="280.55" r="0.75" fill="#111" />
<circle cx="166.18" cy="279.06" r="0.75" fill="#111" />
<circle cx="164.18" cy="280.43" r="0.75" fill="#111" />
<circle cx="164.99" cy="280.52" r="0.75" fill="#111" />
<circle cx="164.20" cy="280.56" r="0.75" fill="#111" />
<circle cx="165.05" cy="280.22" r="0.75" fill="#111" />
<circle cx="165.35" cy="279.54" r="0.75" fill="#111" />
<circle cx="163.91" cy="279.41" r="0.75" fill="#111" />
<circle cx="166.22" cy="279.27" r="0.75" fill="#111" />
<circle cx="164.85" cy="280.44" r="0.75" fill="#111" />
<line x1="172.42" y1="280.27" x2="172.42" y2="280.60" stroke="#444" stroke-width="0.6" />
<line x1="171.12" y1="280.27" x2="173.72" y2="280.27" stroke="#333" stroke-width="0.7" />
<line x1="171.12" y1="280.60" x2="173.72" y2="280.60" stroke="#333" stroke-width="0.7" />
<rect x="170.02" y="280.43" width="4.80" height="0.80" fill="#7aa0dc" stroke="#333" stroke-width="0.6"/>
<line x1="170.02" y1="280.52" x2="174.82" y2="280.52" stroke="#333" stroke-width="0.6" />
<circle cx="171.31" cy="280.27" r="0.75" fill="#111" />
<circle cx="173.47" cy="280.60" r="0.75" fill="#111" />
<circle cx="172.24" cy="280.40" r="0.75" fill="#111" />
<circle cx="172.36" cy="280.55" r="0.75" fill="#111" />
<circle cx="173.65" cy="280.41" r="0.75" fill="#111" />
<circle cx="171.75" cy="280.48" r="0.75" fill="#111" />
<circle cx="172.48" cy="280.60" r="0.75" fill="#111" />
<circle cx="173.56" cy="280.59" r="0.75" fill="#111" />
<circle cx="173.00" cy="280.47" r="0.75" fill="#111" />
<circle cx="172.34" cy="280.45" r="0.75" fill="#111" />
<circle cx="173.66" cy="280.58" r="0.75" fill="#111" />
<circle cx="173.24" cy="280.28" r="0.75" fill="#111" />
<line x1="179.78" y1="280.27" x2="179.78" y2="280.60" stroke="#444" stroke-width="0.6" />
<line x1="178.48" y1="280.27" x2="181.08" y2="280.27" stroke="#333" stroke-width="0.7" />
<line x1="178.48" y1="280.60" x2="181.08" y2="280.60" stroke="#333" stroke-width="0.7" />
<rect x="177.38" y="280.43" width="4.80" height="0.80" fill="#7aa0dc" stroke="#333" stroke-width="0.6"/>
<line x1="177.38" y1="280.52" x2="182.18" y2="280.52" stroke="#333" stroke-width="0.6" />
<circle cx="178.78" cy="280.27" r="0.75" fill="#111" />
<circle cx="180.80" cy="280.60" r="0.75" fill="#111" />
<circle cx="180.52" cy="280.56" r="0.75" fill="#111" />
<circle cx="180.10" cy="280.45" r="0.75" fill="#111" />
<circle cx="179.41" cy="280.59" r="0.75" fill="#111" />
<circle cx="179.19" cy="280.56" r="0.75" fill="#111" />
<circle cx="180.26" cy="280.49" r="0.75" fill="#111" />
<circle cx="179.95" cy="280.56" r="0.75" fill="#111" />
<circle cx="180.02" cy="280.46" r="0.75" fill="#111" />
<circle cx="180.13" cy="280.42" r="0.75" fill="#111" />
<circle cx="180.44" cy="280.28" r="0.75" fill="#111" />
<circle cx="178.97" cy="280.52" r="0.75" fill="#111" />
<line x1="187.14" y1="280.35" x2="187.14" y2="280.60" stroke="#444" stroke-width="0.6" />
<line x1="185.84" y1="280.35" x2="188.44" y2="280.35" stroke="#333" stroke-width="0.7" />
<line x1="185.84" y1="280.60" x2="188.44" y2="280.60" stroke="#333" stroke-width="0.7" />
<rect x="184.74" y="280.43" width="4.80" height="0.80" fill="#7aa0dc" stroke="#333" stroke-width="0.6"/>
<line x1="184.74" y1="280.52" x2="189.54" y2="280.52" stroke="#333" stroke-width="0.6" />
<circle cx="187.78" cy="280.35" r="0.75" fill="#111" />
<circle cx="188.02" cy="280.60" r="0.75" fill="#111" />
<circle cx="186.03" cy="280.44" r="0.75" fill="#111" />
<circle cx="186.15" cy="280.38" r="0.75" fill="#111" />
<circle cx="187.94" cy="280.59" r="0.75" fill="#111" />
<circle cx="187.46" cy="280.53" r="0.75" fill="#111" />
<circle cx="187.84" cy="280.57" r="0.75" fill="#111" />
<circle cx="186.39" cy="280.58" r="0.75" fill="#111" />
<circle cx="186.94" cy="280.49" r="0.75" fill="#111" />
<circle cx="186.51" cy="280.44" r="0.75" fill="#111" />
<circle cx="187.95" cy="280.52" r="0.75" fill="#111" />
<circle cx="186.80" cy="280.54" r="0.75" fill="#111" />
<text x="255.85" y="162.80" font-size="9.0" textLength="141.00" lengthAdjust="spacingAndGlyphs">ABE7.10-HRHSK normalized editing</text>
<text x="271.55" y="172.60" font-size="9.0" textLength="110.60" lengthAdjust="spacingAndGlyphs">activity by target A position</text>
<text x="284.35" y="183.20" font-size="9.0" textLength="86.80" lengthAdjust="spacingAndGlyphs">(12 endogenous sites)</text>
<text x="215.15" y="233.00" font-size="9.0" text-anchor="middle" textLength="77.80" lengthAdjust="spacingAndGlyphs" transform="rotate(-90 215.15 233.00)">Relative A•T to G•C</text>
<text x="224.20" y="233.00" font-size="9.0" text-anchor="middle" textLength="68.00" lengthAdjust="spacingAndGlyphs" transform="rotate(-90 224.20 233.00)">editing efficiency</text>
<line x1="247.50" y1="181.20" x2="247.50" y2="281.00" stroke="#555" stroke-width="0.9" />
<line x1="244.00" y1="280.60" x2="247.50" y2="280.60" stroke="#555" stroke-width="0.8" />
<text x="240.70" y="283.35" font-size="7.8" text-anchor="end" textLength="4.45" lengthAdjust="spacingAndGlyphs">0</text>
<line x1="245.50" y1="272.35" x2="247.50" y2="272.35" stroke="#555" stroke-width="0.8" />
<line x1="244.00" y1="264.10" x2="247.50" y2="264.10" stroke="#555" stroke-width="0.8" />
<text x="240.70" y="266.85" font-size="7.8" text-anchor="end" textLength="8.90" lengthAdjust="spacingAndGlyphs">20</text>
<line x1="245.50" y1="255.85" x2="247.50" y2="255.85" stroke="#555" stroke-width="0.8" />
<line x1="244.00" y1="247.60" x2="247.50" y2="247.60" stroke="#555" stroke-width="0.8" />
<text x="240.70" y="250.35" font-size="7.8" text-anchor="end" textLength="8.90" lengthAdjust="spacingAndGlyphs">40</text>
<line x1="245.50" y1="239.35" x2="247.50" y2="239.35" stroke="#555" stroke-width="0.8" />
<line x1="244.00" y1="231.10" x2="247.50" y2="231.10" stroke="#555" stroke-width="0.8" />
<text x="240.70" y="233.85" font-size="7.8" text-anchor="end" textLength="8.90" lengthAdjust="spacingAndGlyphs">60</text>
<line x1="245.50" y1="222.85" x2="247.50" y2="222.85" stroke="#555" stroke-width="0.8" />
<line x1="244.00" y1="214.60" x2="247.50" y2="214.60" stroke="#555" stroke-width="0.8" />
<text x="240.70" y="217.35" font-size="7.8" text-anchor="end" textLength="8.90" lengthAdjust="spacingAndGlyphs">80</text>
<line x1="245.50" y1="206.35" x2="247.50" y2="206.35" stroke="#555" stroke-width="0.8" />
<line x1="244.00" y1="198.10" x2="247.50" y2="198.10" stroke="#555" stroke-width="0.8" />
<text x="240.70" y="200.85" font-size="7.8" text-anchor="end" textLength="12.20" lengthAdjust="spacingAndGlyphs">100</text>
<line x1="245.50" y1="189.85" x2="247.50" y2="189.85" stroke="#555" stroke-width="0.8" />
<line x1="244.00" y1="181.60" x2="247.50" y2="181.60" stroke="#555" stroke-width="0.8" />
<text x="240.70" y="184.35" font-size="7.8" text-anchor="end" textLength="12.20" lengthAdjust="spacingAndGlyphs">120</text>
<line x1="247.50" y1="280.60" x2="396.50" y2="280.60" stroke="#555" stroke-width="0.9" />
<line x1="252.40" y1="280.60" x2="252.40" y2="283.90" stroke="#555" stroke-width="0.7" />
<text x="255.20" y="290.50" font-size="7.5" text-anchor="end" textLength="3.20" lengthAdjust="spacingAndGlyphs" transform="rotate(-45 255.20 290.50)">1</text>
<line x1="259.72" y1="280.60" x2="259.72" y2="283.90" stroke="#555" stroke-width="0.7" />
<text x="262.52" y="290.50" font-size="7.5" text-anchor="end" textLength="4.40" lengthAdjust="spacingAndGlyphs" transform="rotate(-45 262.52 290.50)">2</text>
<line x1="267.04" y1="280.60" x2="267.04" y2="283.90" stroke="#555" stroke-width="0.7" />
<text x="269.84" y="290.50" font-size="7.5" text-anchor="end" textLength="4.40" lengthAdjust="spacingAndGlyphs" transform="rotate(-45 269.84 290.50)">3</text>
<line x1="274.36" y1="280.60" x2="274.36" y2="283.90" stroke="#555" stroke-width="0.7" />
<text x="277.16" y="290.50" font-size="7.5" text-anchor="end" textLength="4.40" lengthAdjust="spacingAndGlyphs" transform="rotate(-45 277.16 290.50)">4</text>
<line x1="281.68" y1="280.60" x2="281.68" y2="283.90" stroke="#555" stroke-width="0.7" />
<text x="284.48" y="290.50" font-size="7.5" text-anchor="end" textLength="4.40" lengthAdjust="spacingAndGlyphs" transform="rotate(-45 284.48 290.50)">5</text>
<line x1="289.00" y1="280.60" x2="289.00" y2="283.90" stroke="#555" stroke-width="0.7" />
<text x="291.80" y="290.50" font-size="7.5" text-anchor="end" textLength="4.40" lengthAdjust="spacingAndGlyphs" transform="rotate(-45 291.80 290.50)">6</text>
<line x1="296.32" y1="280.60" x2="296.32" y2="283.90" stroke="#555" stroke-width="0.7" />
<text x="299.12" y="290.50" font-size="7.5" text-anchor="end" textLength="4.40" lengthAdjust="spacingAndGlyphs" transform="rotate(-45 299.12 290.50)">7</text>
<line x1="303.64" y1="280.60" x2="303.64" y2="283.90" stroke="#555" stroke-width="0.7" />
<text x="306.44" y="290.50" font-size="7.5" text-anchor="end" textLength="4.40" lengthAdjust="spacingAndGlyphs" transform="rotate(-45 306.44 290.50)">8</text>
<line x1="310.96" y1="280.60" x2="310.96" y2="283.90" stroke="#555" stroke-width="0.7" />
<text x="313.76" y="290.50" font-size="7.5" text-anchor="end" textLength="4.40" lengthAdjust="spacingAndGlyphs" transform="rotate(-45 313.76 290.50)">9</text>
<line x1="318.28" y1="280.60" x2="318.28" y2="283.90" stroke="#555" stroke-width="0.7" />
<text x="321.08" y="290.50" font-size="7.5" text-anchor="end" textLength="7.60" lengthAdjust="spacingAndGlyphs" transform="rotate(-45 321.08 290.50)">10</text>
<line x1="325.60" y1="280.60" x2="325.60" y2="283.90" stroke="#555" stroke-width="0.7" />
<text x="328.40" y="290.50" font-size="7.5" text-anchor="end" textLength="6.40" lengthAdjust="spacingAndGlyphs" transform="rotate(-45 328.40 290.50)">11</text>
<line x1="332.92" y1="280.60" x2="332.92" y2="283.90" stroke="#555" stroke-width="0.7" />
<text x="335.72" y="290.50" font-size="7.5" text-anchor="end" textLength="7.60" lengthAdjust="spacingAndGlyphs" transform="rotate(-45 335.72 290.50)">12</text>
<line x1="340.24" y1="280.60" x2="340.24" y2="283.90" stroke="#555" stroke-width="0.7" />
<text x="343.04" y="290.50" font-size="7.5" text-anchor="end" textLength="7.60" lengthAdjust="spacingAndGlyphs" transform="rotate(-45 343.04 290.50)">13</text>
<line x1="347.56" y1="280.60" x2="347.56" y2="283.90" stroke="#555" stroke-width="0.7" />
<text x="350.36" y="290.50" font-size="7.5" text-anchor="end" textLength="7.60" lengthAdjust="spacingAndGlyphs" transform="rotate(-45 350.36 290.50)">14</text>
<line x1="354.88" y1="280.60" x2="354.88" y2="283.90" stroke="#555" stroke-width="0.7" />
<text x="357.68" y="290.50" font-size="7.5" text-anchor="end" textLength="7.60" lengthAdjust="spacingAndGlyphs" transform="rotate(-45 357.68 290.50)">15</text>
<line x1="362.20" y1="280.60" x2="362.20" y2="283.90" stroke="#555" stroke-width="0.7" />
<text x="365.00" y="290.50" font-size="7.5" text-anchor="end" textLength="7.60" lengthAdjust="spacingAndGlyphs" transform="rotate(-45 365.00 290.50)">16</text>
<line x1="369.52" y1="280.60" x2="369.52" y2="283.90" stroke="#555" stroke-width="0.7" />
<text x="372.32" y="290.50" font-size="7.5" text-anchor="end" textLength="7.60" lengthAdjust="spacingAndGlyphs" transform="rotate(-45 372.32 290.50)">17</text>
<line x1="376.84" y1="280.60" x2="376.84" y2="283.90" stroke="#555" stroke-width="0.7" />
<text x="379.64" y="290.50" font-size="7.5" text-anchor="end" textLength="7.60" lengthAdjust="spacingAndGlyphs" transform="rotate(-45 379.64 290.50)">18</text>
<line x1="384.16" y1="280.60" x2="384.16" y2="283.90" stroke="#555" stroke-width="0.7" />
<text x="386.96" y="290.50" font-size="7.5" text-anchor="end" textLength="7.60" lengthAdjust="spacingAndGlyphs" transform="rotate(-45 386.96 290.50)">19</text>
<line x1="391.48" y1="280.60" x2="391.48" y2="283.90" stroke="#555" stroke-width="0.7" />
<text x="394.28" y="290.50" font-size="7.5" text-anchor="end" textLength="8.80" lengthAdjust="spacingAndGlyphs" transform="rotate(-45 394.28 290.50)">20</text>
<text x="288.05" y="306.40" font-size="9.0" textLength="67.70" lengthAdjust="spacingAndGlyphs">Target A position</text>
<line x1="248.00" y1="268.50" x2="396.00" y2="268.50" stroke="#333" stroke-width="1.0" stroke-dasharray="2.6 2.0"/>
<line x1="252.40" y1="279.36" x2="252.40" y2="280.60" stroke="#444" stroke-width="0.6" />
<line x1="251.10" y1="279.36" x2="253.70" y2="279.36" stroke="#333" stroke-width="0.7" />
<line x1="251.10" y1="280.60" x2="253.70" y2="280.60" stroke="#333" stroke-width="0.7" />
<rect x="250.00" y="279.94" width="4.80" height="0.80" fill="#6cc8ae" stroke="#333" stroke-width="0.6"/>
<line x1="250.00" y1="280.35" x2="254.80" y2="280.35" stroke="#333" stroke-width="0.6" />
<circle cx="251.98" cy="279.36" r="0.75" fill="#111" />
<circle cx="252.15" cy="280.60" r="0.75" fill="#111" />
<circle cx="253.29" cy="280.17" r="0.75" fill="#111" />
<circle cx="251.15" cy="280.42" r="0.75" fill="#111" />
<circle cx="251.26" cy="280.35" r="0.75" fill="#111" />
<circle cx="253.48" cy="280.07" r="0.75" fill="#111" />
<circle cx="252.42" cy="279.86" r="0.75" fill="#111" />
<circle cx="251.34" cy="279.78" r="0.75" fill="#111" />
<circle cx="253.67" cy="280.31" r="0.75" fill="#111" />
<circle cx="253.56" cy="280.00" r="0.75" fill="#111" />
<circle cx="251.39" cy="280.06" r="0.75" fill="#111" />
<circle cx="252.20" cy="280.15" r="0.75" fill="#111" />
<line x1="259.72" y1="279.94" x2="259.72" y2="280.60" stroke="#444" stroke-width="0.6" />
<line x1="258.42" y1="279.94" x2="261.02" y2="279.94" stroke="#333" stroke-width="0.7" />
<line x1="258.42" y1="280.60" x2="261.02" y2="280.60" stroke="#333" stroke-width="0.7" />
<rect x="257.32" y="280.35" width="4.80" height="0.80" fill="#6cc8ae" stroke="#333" stroke-width="0.6"/>
<line x1="257.32" y1="280.52" x2="262.12" y2="280.52" stroke="#333" stroke-width="0.6" />
<circle cx="260.21" cy="279.94" r="0.75" fill="#111" />
<circle cx="260.17" cy="280.60" r="0.75" fill="#111" />
<circle cx="258.72" cy="280.52" r="0.75" fill="#111" />
<circle cx="259.03" cy="280.49" r="0.75" fill="#111" />
<circle cx="259.36" cy="280.57" r="0.75" fill="#111" />
<circle cx="259.75" cy="280.40" r="0.75" fill="#111" />
<circle cx="260.53" cy="280.50" r="0.75" fill="#111" />
<circle cx="259.72" cy="280.29" r="0.75" fill="#111" />
<circle cx="258.49" cy="280.59" r="0.75" fill="#111" />
<circle cx="260.56" cy="279.96" r="0.75" fill="#111" />
<circle cx="259.54" cy="280.16" r="0.75" fill="#111" />
<circle cx="259.77" cy="280.51" r="0.75" fill="#111" />
<line x1="267.04" y1="275.65" x2="267.04" y2="280.60" stroke="#444" stroke-width="0.6" />
<line x1="265.74" y1="275.65" x2="268.34" y2="275.65" stroke="#333" stroke-width="0.7" />
<line x1="265.74" y1="280.60" x2="268.34" y2="280.60" stroke="#333" stroke-width="0.7" />
<rect x="264.64" y="278.79" width="4.80" height="1.81" fill="#6cc8ae" stroke="#333" stroke-width="0.6"/>
<line x1="264.64" y1="279.94" x2="269.44" y2="279.94" stroke="#333" stroke-width="0.6" />
<circle cx="266.18" cy="275.65" r="0.75" fill="#111" />
<circle cx="268.14" cy="280.60" r="0.75" fill="#111" />
<circle cx="266.69" cy="279.82" r="0.75" fill="#111" />
<circle cx="266.23" cy="279.20" r="0.75" fill="#111" />
<circle cx="267.69" cy="279.60" r="0.75" fill="#111" />
<circle cx="268.11" cy="279.34" r="0.75" fill="#111" />
<circle cx="265.76" cy="280.10" r="0.75" fill="#111" />
<circle cx="266.44" cy="279.44" r="0.75" fill="#111" />
<circle cx="267.74" cy="279.77" r="0.75" fill="#111" />
<circle cx="266.63" cy="280.09" r="0.75" fill="#111" />
<circle cx="266.37" cy="278.86" r="0.75" fill="#111" />
<circle cx="265.76" cy="278.87" r="0.75" fill="#111" />
<line x1="274.36" y1="197.28" x2="274.36" y2="280.60" stroke="#444" stroke-width="0.6" />
<line x1="273.06" y1="197.28" x2="275.66" y2="197.28" stroke="#333" stroke-width="0.7" />
<line x1="273.06" y1="280.60" x2="275.66" y2="280.60" stroke="#333" stroke-width="0.7" />
<rect x="271.96" y="222.03" width="4.80" height="55.27" fill="#6cc8ae" stroke="#333" stroke-width="0.6"/>
<line x1="271.96" y1="261.62" x2="276.76" y2="261.62" stroke="#333" stroke-width="0.6" />
<circle cx="273.78" cy="197.28" r="0.75" fill="#111" />
<circle cx="275.51" cy="280.60" r="0.75" fill="#111" />
<circle cx="274.40" cy="243.08" r="0.75" fill="#111" />
<circle cx="274.87" cy="197.40" r="0.75" fill="#111" />
<circle cx="274.89" cy="278.61" r="0.75" fill="#111" />
<circle cx="273.62" cy="233.78" r="0.75" fill="#111" />
<circle cx="273.80" cy="227.32" r="0.75" fill="#111" />
<circle cx="273.72" cy="248.16" r="0.75" fill="#111" />
<circle cx="274.84" cy="242.64" r="0.75" fill="#111" />
<circle cx="274.86" cy="224.97" r="0.75" fill="#111" />
<circle cx="273.40" cy="267.09" r="0.75" fill="#111" />
<circle cx="275.36" cy="229.04" r="0.75" fill="#111" />
<line x1="281.68" y1="198.10" x2="281.68" y2="257.50" stroke="#444" stroke-width="0.6" />
<line x1="280.38" y1="198.10" x2="282.98" y2="198.10" stroke="#333" stroke-width="0.7" />
<line x1="280.38" y1="257.50" x2="282.98" y2="257.50" stroke="#333" stroke-width="0.7" />
<rect x="279.28" y="215.43" width="4.80" height="22.28" fill="#6cc8ae" stroke="#333" stroke-width="0.6"/>
<line x1="279.28" y1="222.85" x2="284.08" y2="222.85" stroke="#333" stroke-width="0.6" />
<circle cx="282.73" cy="198.10" r="0.75" fill="#111" />
<circle cx="282.45" cy="257.50" r="0.75" fill="#111" />
<circle cx="282.71" cy="232.33" r="0.75" fill="#111" />
<circle cx="282.75" cy="215.88" r="0.75" fill="#111" />
<circle cx="281.77" cy="220.39" r="0.75" fill="#111" />
<circle cx="282.43" cy="200.36" r="0.75" fill="#111" />
<circle cx="281.37" cy="232.69" r="0.75" fill="#111" />
<circle cx="280.64" cy="203.98" r="0.75" fill="#111" />
<circle cx="281.30" cy="223.04" r="0.75" fill="#111" />
<circle cx="281.19" cy="229.49" r="0.75" fill="#111" />
<circle cx="282.81" cy="224.04" r="0.75" fill="#111" />
<circle cx="282.17" cy="221.88" r="0.75" fill="#111" />
<line x1="289.00" y1="215.43" x2="289.00" y2="263.28" stroke="#444" stroke-width="0.6" />
<line x1="287.70" y1="215.43" x2="290.30" y2="215.43" stroke="#333" stroke-width="0.7" />
<line x1="287.70" y1="263.28" x2="290.30" y2="263.28" stroke="#333" stroke-width="0.7" />
<rect x="286.60" y="228.63" width="4.80" height="27.22" fill="#6cc8ae" stroke="#333" stroke-width="0.6"/>
<line x1="286.60" y1="240.18" x2="291.40" y2="240.18" stroke="#333" stroke-width="0.6" />
<circle cx="288.85" cy="215.43" r="0.75" fill="#111" />
<circle cx="288.17" cy="263.28" r="0.75" fill="#111" />
<circle cx="289.44" cy="233.51" r="0.75" fill="#111" />
<circle cx="288.59" cy="241.30" r="0.75" fill="#111" />
<circle cx="288.32" cy="244.41" r="0.75" fill="#111" />
<circle cx="288.55" cy="244.77" r="0.75" fill="#111" />
<circle cx="290.15" cy="237.19" r="0.75" fill="#111" />
<circle cx="287.72" cy="253.39" r="0.75" fill="#111" />
<circle cx="288.64" cy="236.91" r="0.75" fill="#111" />
<circle cx="288.43" cy="231.72" r="0.75" fill="#111" />
<circle cx="288.22" cy="245.78" r="0.75" fill="#111" />
<circle cx="288.82" cy="242.57" r="0.75" fill="#111" />
<line x1="296.32" y1="197.28" x2="296.32" y2="278.95" stroke="#444" stroke-width="0.6" />
<line x1="295.02" y1="197.28" x2="297.62" y2="197.28" stroke="#333" stroke-width="0.7" />
<line x1="295.02" y1="278.95" x2="297.62" y2="278.95" stroke="#333" stroke-width="0.7" />
<rect x="293.92" y="237.70" width="4.80" height="32.17" fill="#6cc8ae" stroke="#333" stroke-width="0.6"/>
<line x1="293.92" y1="257.50" x2="298.72" y2="257.50" stroke="#333" stroke-width="0.6" />
<circle cx="296.79" cy="197.28" r="0.75" fill="#111" />
<circle cx="295.93" cy="278.95" r="0.75" fill="#111" />
<circle cx="296.92" cy="240.31" r="0.75" fill="#111" />
<circle cx="295.86" cy="221.93" r="0.75" fill="#111" />
<circle cx="296.32" cy="254.93" r="0.75" fill="#111" />
<circle cx="295.96" cy="210.11" r="0.75" fill="#111" />
<circle cx="295.82" cy="255.09" r="0.75" fill="#111" />
<circle cx="295.37" cy="211.02" r="0.75" fill="#111" />
<circle cx="295.61" cy="252.57" r="0.75" fill="#111" />
<circle cx="296.44" cy="246.66" r="0.75" fill="#111" />
<circle cx="295.67" cy="224.78" r="0.75" fill="#111" />
<circle cx="295.14" cy="233.71" r="0.75" fill="#111" />
<line x1="303.64" y1="276.89" x2="303.64" y2="280.60" stroke="#444" stroke-width="0.6" />
<line x1="302.34" y1="276.89" x2="304.94" y2="276.89" stroke="#333" stroke-width="0.7" />
<line x1="302.34" y1="280.60" x2="304.94" y2="280.60" stroke="#333" stroke-width="0.7" />
<rect x="301.24" y="277.30" width="4.80" height="2.48" fill="#6cc8ae" stroke="#333" stroke-width="0.6"/>
<line x1="301.24" y1="278.54" x2="306.04" y2="278.54" stroke="#333" stroke-width="0.6" />
<circle cx="304.44" cy="276.89" r="0.75" fill="#111" />
<circle cx="302.78" cy="280.60" r="0.75" fill="#111" />
<circle cx="302.87" cy="279.54" r="0.75" fill="#111" />
<circle cx="303.00" cy="278.38" r="0.75" fill="#111" />
<circle cx="304.86" cy="277.61" r="0.75" fill="#111" />
<circle cx="303.70" cy="279.41" r="0.75" fill="#111" />
<circle cx="302.48" cy="278.19" r="0.75" fill="#111" />
<circle cx="304.51" cy="278.34" r="0.75" fill="#111" />
<circle cx="304.61" cy="279.07" r="0.75" fill="#111" />
<circle cx="304.47" cy="279.62" r="0.75" fill="#111" />
<circle cx="303.27" cy="278.84" r="0.75" fill="#111" />
<circle cx="304.25" cy="278.79" r="0.75" fill="#111" />
<line x1="310.96" y1="271.53" x2="310.96" y2="280.60" stroke="#444" stroke-width="0.6" />
<line x1="309.66" y1="271.53" x2="312.26" y2="271.53" stroke="#333" stroke-width="0.7" />
<line x1="309.66" y1="280.60" x2="312.26" y2="280.60" stroke="#333" stroke-width="0.7" />
<rect x="308.56" y="279.78" width="4.80" height="0.82" fill="#6cc8ae" stroke="#333" stroke-width="0.6"/>
<line x1="308.56" y1="280.19" x2="313.36" y2="280.19" stroke="#333" stroke-width="0.6" />
<circle cx="311.05" cy="271.53" r="0.75" fill="#111" />
<circle cx="310.83" cy="280.60" r="0.75" fill="#111" />
<circle cx="311.03" cy="280.49" r="0.75" fill="#111" />
<circle cx="311.35" cy="273.04" r="0.75" fill="#111" />
<circle cx="311.74" cy="279.87" r="0.75" fill="#111" />
<circle cx="310.97" cy="280.35" r="0.75" fill="#111" />
<circle cx="311.31" cy="280.46" r="0.75" fill="#111" />
<circle cx="310.87" cy="280.01" r="0.75" fill="#111" />
<circle cx="311.31" cy="280.44" r="0.75" fill="#111" />
<circle cx="310.67" cy="280.34" r="0.75" fill="#111" />
<circle cx="310.74" cy="275.09" r="0.75" fill="#111" />
<circle cx="311.00" cy="280.03" r="0.75" fill="#111" />
<line x1="318.28" y1="279.61" x2="318.28" y2="280.60" stroke="#444" stroke-width="0.6" />
<line x1="316.98" y1="279.61" x2="319.58" y2="279.61" stroke="#333" stroke-width="0.7" />
<line x1="316.98" y1="280.60" x2="319.58" y2="280.60" stroke="#333" stroke-width="0.7" />
<rect x="315.88" y="280.11" width="4.80" height="0.80" fill="#6cc8ae" stroke="#333" stroke-width="0.6"/>
<line x1="315.88" y1="280.44" x2="320.68" y2="280.44" stroke="#333" stroke-width="0.6" />
<circle cx="317.27" cy="279.61" r="0.75" fill="#111" />
<circle cx="318.76" cy="280.60" r="0.75" fill="#111" />
<circle cx="318.58" cy="280.32" r="0.75" fill="#111" />
<circle cx="319.49" cy="280.11" r="0.75" fill="#111" />
<circle cx="319.48" cy="279.92" r="0.75" fill="#111" />
<circle cx="318.92" cy="279.92" r="0.75" fill="#111" />
<circle cx="319.45" cy="280.40" r="0.75" fill="#111" />
<circle cx="317.05" cy="279.85" r="0.75" fill="#111" />
<circle cx="317.57" cy="280.47" r="0.75" fill="#111" />
<circle cx="319.39" cy="280.55" r="0.75" fill="#111" />
<circle cx="318.22" cy="280.57" r="0.75" fill="#111" />
<circle cx="317.52" cy="280.48" r="0.75" fill="#111" />
<line x1="325.60" y1="278.95" x2="325.60" y2="280.60" stroke="#444" stroke-width="0.6" />
<line x1="324.30" y1="278.95" x2="326.90" y2="278.95" stroke="#333" stroke-width="0.7" />
<line x1="324.30" y1="280.60" x2="326.90" y2="280.60" stroke="#333" stroke-width="0.7" />
<rect x="323.20" y="279.36" width="4.80" height="1.24" fill="#6cc8ae" stroke="#333" stroke-width="0.6"/>
<line x1="323.20" y1="280.19" x2="328.00" y2="280.19" stroke="#333" stroke-width="0.6" />
<circle cx="326.45" cy="278.95" r="0.75" fill="#111" />
<circle cx="326.27" cy="280.60" r="0.75" fill="#111" />
<circle cx="325.18" cy="279.90" r="0.75" fill="#111" />
<circle cx="325.29" cy="280.08" r="0.75" fill="#111" />
<circle cx="326.54" cy="280.49" r="0.75" fill="#111" />
<circle cx="326.87" cy="279.03" r="0.75" fill="#111" />
<circle cx="325.56" cy="279.34" r="0.75" fill="#111" />
<circle cx="324.81" cy="280.00" r="0.75" fill="#111" />
<circle cx="325.92" cy="279.46" r="0.75" fill="#111" />
<circle cx="325.69" cy="279.50" r="0.75" fill="#111" />
<circle cx="325.24" cy="280.32" r="0.75" fill="#111" />
<circle cx="324.90" cy="279.70" r="0.75" fill="#111" />
<line x1="332.92" y1="279.78" x2="332.92" y2="280.60" stroke="#444" stroke-width="0.6" />
<line x1="331.62" y1="279.78" x2="334.22" y2="279.78" stroke="#333" stroke-width="0.7" />
<line x1="331.62" y1="280.60" x2="334.22" y2="280.60" stroke="#333" stroke-width="0.7" />
<rect x="330.52" y="280.19" width="4.80" height="0.80" fill="#6cc8ae" stroke="#333" stroke-width="0.6"/>
<line x1="330.52" y1="280.44" x2="335.32" y2="280.44" stroke="#333" stroke-width="0.6" />
<circle cx="332.93" cy="279.78" r="0.75" fill="#111" />
<circle cx="332.82" cy="280.60" r="0.75" fill="#111" />
<circle cx="332.07" cy="280.35" r="0.75" fill="#111" />
<circle cx="332.66" cy="280.38" r="0.75" fill="#111" />
<circle cx="332.15" cy="279.99" r="0.75" fill="#111" />
<circle cx="332.46" cy="280.43" r="0.75" fill="#111" />
<circle cx="332.57" cy="280.30" r="0.75" fill="#111" />
<circle cx="332.53" cy="280.46" r="0.75" fill="#111" />
<circle cx="334.06" cy="280.11" r="0.75" fill="#111" />
<circle cx="332.39" cy="280.29" r="0.75" fill="#111" />
<circle cx="332.48" cy="280.45" r="0.75" fill="#111" />
<circle cx="333.33" cy="280.33" r="0.75" fill="#111" />
<line x1="340.24" y1="280.19" x2="340.24" y2="280.60" stroke="#444" stroke-width="0.6" />
<line x1="338.94" y1="280.19" x2="341.54" y2="280.19" stroke="#333" stroke-width="0.7" />
<line x1="338.94" y1="280.60" x2="341.54" y2="280.60" stroke="#333" stroke-width="0.7" />
<rect x="337.84" y="280.35" width="4.80" height="0.80" fill="#6cc8ae" stroke="#333" stroke-width="0.6"/>
<line x1="337.84" y1="280.52" x2="342.64" y2="280.52" stroke="#333" stroke-width="0.6" />
<circle cx="341.43" cy="280.19" r="0.75" fill="#111" />
<circle cx="340.13" cy="280.60" r="0.75" fill="#111" />
<circle cx="341.38" cy="280.47" r="0.75" fill="#111" />
<circle cx="339.96" cy="280.57" r="0.75" fill="#111" />
<circle cx="340.15" cy="280.56" r="0.75" fill="#111" />
<circle cx="339.87" cy="280.40" r="0.75" fill="#111" />
<circle cx="340.80" cy="280.32" r="0.75" fill="#111" />
<circle cx="340.89" cy="280.49" r="0.75" fill="#111" />
<circle cx="339.56" cy="280.39" r="0.75" fill="#111" />
<circle cx="340.31" cy="280.55" r="0.75" fill="#111" />
<circle cx="340.83" cy="280.34" r="0.75" fill="#111" />
<circle cx="340.24" cy="280.40" r="0.75" fill="#111" />
<line x1="347.56" y1="280.11" x2="347.56" y2="280.60" stroke="#444" stroke-width="0.6" />
<line x1="346.26" y1="280.11" x2="348.86" y2="280.11" stroke="#333" stroke-width="0.7" />
<line x1="346.26" y1="280.60" x2="348.86" y2="280.60" stroke="#333" stroke-width="0.7" />
<rect x="345.16" y="280.35" width="4.80" height="0.80" fill="#6cc8ae" stroke="#333" stroke-width="0.6"/>
<line x1="345.16" y1="280.52" x2="349.96" y2="280.52" stroke="#333" stroke-width="0.6" />
<circle cx="347.06" cy="280.11" r="0.75" fill="#111" />
<circle cx="346.67" cy="280.60" r="0.75" fill="#111" />
<circle cx="346.58" cy="280.29" r="0.75" fill="#111" />
<circle cx="348.42" cy="280.42" r="0.75" fill="#111" />
<circle cx="347.25" cy="280.59" r="0.75" fill="#111" />
<circle cx="347.53" cy="280.21" r="0.75" fill="#111" />
<circle cx="347.82" cy="280.36" r="0.75" fill="#111" />
<circle cx="348.69" cy="280.53" r="0.75" fill="#111" />
<circle cx="346.64" cy="280.39" r="0.75" fill="#111" />
<circle cx="346.85" cy="280.54" r="0.75" fill="#111" />
<circle cx="348.50" cy="280.59" r="0.75" fill="#111" />
<circle cx="348.63" cy="280.57" r="0.75" fill="#111" />
<line x1="354.88" y1="280.27" x2="354.88" y2="280.60" stroke="#444" stroke-width="0.6" />
<line x1="353.58" y1="280.27" x2="356.18" y2="280.27" stroke="#333" stroke-width="0.7" />
<line x1="353.58" y1="280.60" x2="356.18" y2="280.60" stroke="#333" stroke-width="0.7" />
<rect x="352.48" y="280.44" width="4.80" height="0.80" fill="#6cc8ae" stroke="#333" stroke-width="0.6"/>
<line x1="352.48" y1="280.52" x2="357.28" y2="280.52" stroke="#333" stroke-width="0.6" />
<circle cx="354.51" cy="280.27" r="0.75" fill="#111" />
<circle cx="354.62" cy="280.60" r="0.75" fill="#111" />
<circle cx="353.78" cy="280.43" r="0.75" fill="#111" />
<circle cx="355.97" cy="280.57" r="0.75" fill="#111" />
<circle cx="354.94" cy="280.35" r="0.75" fill="#111" />
<circle cx="355.04" cy="280.34" r="0.75" fill="#111" />
<circle cx="355.77" cy="280.51" r="0.75" fill="#111" />
<circle cx="355.91" cy="280.56" r="0.75" fill="#111" />
<circle cx="355.01" cy="280.54" r="0.75" fill="#111" />
<circle cx="354.99" cy="280.32" r="0.75" fill="#111" />
<circle cx="355.78" cy="280.46" r="0.75" fill="#111" />
<circle cx="354.55" cy="280.52" r="0.75" fill="#111" />
<line x1="362.20" y1="279.78" x2="362.20" y2="280.60" stroke="#444" stroke-width="0.6" />
<line x1="360.90" y1="279.78" x2="363.50" y2="279.78" stroke="#333" stroke-width="0.7" />
<line x1="360.90" y1="280.60" x2="363.50" y2="280.60" stroke="#333" stroke-width="0.7" />
<rect x="359.80" y="280.19" width="4.80" height="0.80" fill="#6cc8ae" stroke="#333" stroke-width="0.6"/>
<line x1="359.80" y1="280.44" x2="364.60" y2="280.44" stroke="#333" stroke-width="0.6" />
<circle cx="363.44" cy="279.78" r="0.75" fill="#111" />
<circle cx="361.27" cy="280.60" r="0.75" fill="#111" />
<circle cx="362.47" cy="280.58" r="0.75" fill="#111" />
<circle cx="361.25" cy="280.16" r="0.75" fill="#111" />
<circle cx="363.41" cy="279.78" r="0.75" fill="#111" />
<circle cx="362.29" cy="280.43" r="0.75" fill="#111" />
<circle cx="361.36" cy="279.98" r="0.75" fill="#111" />
<circle cx="363.05" cy="279.96" r="0.75" fill="#111" />
<circle cx="363.14" cy="279.88" r="0.75" fill="#111" />
<circle cx="363.44" cy="280.30" r="0.75" fill="#111" />
<circle cx="361.48" cy="280.57" r="0.75" fill="#111" />
<circle cx="361.95" cy="280.58" r="0.75" fill="#111" />
<line x1="369.52" y1="279.78" x2="369.52" y2="280.60" stroke="#444" stroke-width="0.6" />
<line x1="368.22" y1="279.78" x2="370.82" y2="279.78" stroke="#333" stroke-width="0.7" />
<line x1="368.22" y1="280.60" x2="370.82" y2="280.60" stroke="#333" stroke-width="0.7" />
<rect x="367.12" y="280.19" width="4.80" height="0.80" fill="#6cc8ae" stroke="#333" stroke-width="0.6"/>
<line x1="367.12" y1="280.44" x2="371.92" y2="280.44" stroke="#333" stroke-width="0.6" />
<circle cx="369.60" cy="279.78" r="0.75" fill="#111" />
<circle cx="370.79" cy="280.60" r="0.75" fill="#111" />
<circle cx="370.57" cy="280.37" r="0.75" fill="#111" />
<circle cx="369.00" cy="280.02" r="0.75" fill="#111" />
<circle cx="370.49" cy="279.92" r="0.75" fill="#111" />
<circle cx="369.04" cy="280.36" r="0.75" fill="#111" />
<circle cx="370.66" cy="280.24" r="0.75" fill="#111" />
<circle cx="368.37" cy="280.59" r="0.75" fill="#111" />
<circle cx="369.05" cy="280.30" r="0.75" fill="#111" />
<circle cx="370.64" cy="280.40" r="0.75" fill="#111" />
<circle cx="369.94" cy="280.47" r="0.75" fill="#111" />
<circle cx="370.06" cy="280.16" r="0.75" fill="#111" />
<line x1="376.84" y1="280.27" x2="376.84" y2="280.60" stroke="#444" stroke-width="0.6" />
<line x1="375.54" y1="280.27" x2="378.14" y2="280.27" stroke="#333" stroke-width="0.7" />
<line x1="375.54" y1="280.60" x2="378.14" y2="280.60" stroke="#333" stroke-width="0.7" />
<rect x="374.44" y="280.44" width="4.80" height="0.80" fill="#6cc8ae" stroke="#333" stroke-width="0.6"/>
<line x1="374.44" y1="280.52" x2="379.24" y2="280.52" stroke="#333" stroke-width="0.6" />
<circle cx="375.72" cy="280.27" r="0.75" fill="#111" />
<circle cx="375.78" cy="280.60" r="0.75" fill="#111" />
<circle cx="376.79" cy="280.58" r="0.75" fill="#111" />
<circle cx="377.87" cy="280.58" r="0.75" fill="#111" />
<circle cx="377.96" cy="280.53" r="0.75" fill="#111" />
<circle cx="376.88" cy="280.38" r="0.75" fill="#111" />
<circle cx="377.29" cy="280.34" r="0.75" fill="#111" />
<circle cx="376.76" cy="280.45" r="0.75" fill="#111" />
<circle cx="377.56" cy="280.59" r="0.75" fill="#111" />
<circle cx="377.38" cy="280.31" r="0.75" fill="#111" />
<circle cx="378.10" cy="280.44" r="0.75" fill="#111" />
<circle cx="377.74" cy="280.56" r="0.75" fill="#111" />
<line x1="384.16" y1="280.27" x2="384.16" y2="280.60" stroke="#444" stroke-width="0.6" />
<line x1="382.86" y1="280.27" x2="385.46" y2="280.27" stroke="#333" stroke-width="0.7" />
<line x1="382.86" y1="280.60" x2="385.46" y2="280.60" stroke="#333" stroke-width="0.7" />
<rect x="381.76" y="280.44" width="4.80" height="0.80" fill="#6cc8ae" stroke="#333" stroke-width="0.6"/>
<line x1="381.76" y1="280.52" x2="386.56" y2="280.52" stroke="#333" stroke-width="0.6" />
<circle cx="384.55" cy="280.27" r="0.75" fill="#111" />
<circle cx="383.23" cy="280.60" r="0.75" fill="#111" />
<circle cx="384.27" cy="280.41" r="0.75" fill="#111" />
<circle cx="383.29" cy="280.52" r="0.75" fill="#111" />
<circle cx="383.70" cy="280.57" r="0.75" fill="#111" />
<circle cx="384.39" cy="280.53" r="0.75" fill="#111" />
<circle cx="383.30" cy="280.50" r="0.75" fill="#111" />
<circle cx="383.47" cy="280.44" r="0.75" fill="#111" />
<circle cx="384.76" cy="280.43" r="0.75" fill="#111" />
<circle cx="384.12" cy="280.54" r="0.75" fill="#111" />
<circle cx="385.17" cy="280.44" r="0.75" fill="#111" />
<circle cx="383.27" cy="280.39" r="0.75" fill="#111" />
<line x1="391.48" y1="280.35" x2="391.48" y2="280.60" stroke="#444" stroke-width="0.6" />
<line x1="390.18" y1="280.35" x2="392.78" y2="280.35" stroke="#333" stroke-width="0.7" />
<line x1="390.18" y1="280.60" x2="392.78" y2="280.60" stroke="#333" stroke-width="0.7" />
<rect x="389.08" y="280.44" width="4.80" height="0.80" fill="#6cc8ae" stroke="#333" stroke-width="0.6"/>
<line x1="389.08" y1="280.52" x2="393.88" y2="280.52" stroke="#333" stroke-width="0.6" />
<circle cx="391.92" cy="280.35" r="0.75" fill="#111" />
<circle cx="391.29" cy="280.60" r="0.75" fill="#111" />
<circle cx="390.29" cy="280.45" r="0.75" fill="#111" />
<circle cx="392.34" cy="280.43" r="0.75" fill="#111" />
<circle cx="390.51" cy="280.56" r="0.75" fill="#111" />
<circle cx="390.70" cy="280.48" r="0.75" fill="#111" />
<circle cx="391.31" cy="280.56" r="0.75" fill="#111" />
<circle cx="392.42" cy="280.51" r="0.75" fill="#111" />
<circle cx="390.66" cy="280.46" r="0.75" fill="#111" />
<circle cx="390.34" cy="280.59" r="0.75" fill="#111" />
<circle cx="392.54" cy="280.56" r="0.75" fill="#111" />
<circle cx="390.20" cy="280.38" r="0.75" fill="#111" />
<text x="65.65" y="326.70" font-size="9.0" textLength="103.90" lengthAdjust="spacingAndGlyphs">ABE8e normalized editing</text>
<text x="62.55" y="336.70" font-size="9.0" textLength="110.40" lengthAdjust="spacingAndGlyphs">activity by target A position</text>
<text x="74.35" y="347.10" font-size="9.0" textLength="87.00" lengthAdjust="spacingAndGlyphs">(12 endogenous sites)</text>
<text x="7.35" y="397.90" font-size="9.0" text-anchor="middle" textLength="77.80" lengthAdjust="spacingAndGlyphs" transform="rotate(-90 7.35 397.90)">Relative A•T to G•C</text>
<text x="17.45" y="397.00" font-size="9.0" text-anchor="middle" textLength="68.00" lengthAdjust="spacingAndGlyphs" transform="rotate(-90 17.45 397.00)">editing efficiency</text>
<line x1="42.20" y1="346.70" x2="42.20" y2="447.70" stroke="#555" stroke-width="0.9" />
<line x1="38.70" y1="447.30" x2="42.20" y2="447.30" stroke="#555" stroke-width="0.8" />
<text x="36.00" y="450.05" font-size="7.8" text-anchor="end" textLength="4.45" lengthAdjust="spacingAndGlyphs">0</text>
<line x1="40.20" y1="438.95" x2="42.20" y2="438.95" stroke="#555" stroke-width="0.8" />
<line x1="38.70" y1="430.60" x2="42.20" y2="430.60" stroke="#555" stroke-width="0.8" />
<text x="36.00" y="433.35" font-size="7.8" text-anchor="end" textLength="8.90" lengthAdjust="spacingAndGlyphs">20</text>
<line x1="40.20" y1="422.25" x2="42.20" y2="422.25" stroke="#555" stroke-width="0.8" />
<line x1="38.70" y1="413.90" x2="42.20" y2="413.90" stroke="#555" stroke-width="0.8" />
<text x="36.00" y="416.65" font-size="7.8" text-anchor="end" textLength="8.90" lengthAdjust="spacingAndGlyphs">40</text>
<line x1="40.20" y1="405.55" x2="42.20" y2="405.55" stroke="#555" stroke-width="0.8" />
<line x1="38.70" y1="397.20" x2="42.20" y2="397.20" stroke="#555" stroke-width="0.8" />
<text x="36.00" y="399.95" font-size="7.8" text-anchor="end" textLength="8.90" lengthAdjust="spacingAndGlyphs">60</text>
<line x1="40.20" y1="388.85" x2="42.20" y2="388.85" stroke="#555" stroke-width="0.8" />
<line x1="38.70" y1="380.50" x2="42.20" y2="380.50" stroke="#555" stroke-width="0.8" />
<text x="36.00" y="383.25" font-size="7.8" text-anchor="end" textLength="8.90" lengthAdjust="spacingAndGlyphs">80</text>
<line x1="40.20" y1="372.15" x2="42.20" y2="372.15" stroke="#555" stroke-width="0.8" />
<line x1="38.70" y1="363.80" x2="42.20" y2="363.80" stroke="#555" stroke-width="0.8" />
<text x="36.00" y="366.55" font-size="7.8" text-anchor="end" textLength="12.20" lengthAdjust="spacingAndGlyphs">100</text>
<line x1="40.20" y1="355.45" x2="42.20" y2="355.45" stroke="#555" stroke-width="0.8" />
<line x1="38.70" y1="347.10" x2="42.20" y2="347.10" stroke="#555" stroke-width="0.8" />
<text x="36.00" y="349.85" font-size="7.8" text-anchor="end" textLength="12.20" lengthAdjust="spacingAndGlyphs">120</text>
<line x1="42.20" y1="447.30" x2="192.50" y2="447.30" stroke="#555" stroke-width="0.9" />
<line x1="47.50" y1="447.30" x2="47.50" y2="450.60" stroke="#555" stroke-width="0.7" />
<text x="50.30" y="457.20" font-size="7.5" text-anchor="end" textLength="3.20" lengthAdjust="spacingAndGlyphs" transform="rotate(-45 50.30 457.20)">1</text>
<line x1="54.85" y1="447.30" x2="54.85" y2="450.60" stroke="#555" stroke-width="0.7" />
<text x="57.65" y="457.20" font-size="7.5" text-anchor="end" textLength="4.40" lengthAdjust="spacingAndGlyphs" transform="rotate(-45 57.65 457.20)">2</text>
<line x1="62.20" y1="447.30" x2="62.20" y2="450.60" stroke="#555" stroke-width="0.7" />
<text x="65.00" y="457.20" font-size="7.5" text-anchor="end" textLength="4.40" lengthAdjust="spacingAndGlyphs" transform="rotate(-45 65.00 457.20)">3</text>
<line x1="69.55" y1="447.30" x2="69.55" y2="450.60" stroke="#555" stroke-width="0.7" />
<text x="72.35" y="457.20" font-size="7.5" text-anchor="end" textLength="4.40" lengthAdjust="spacingAndGlyphs" transform="rotate(-45 72.35 457.20)">4</text>
<line x1="76.90" y1="447.30" x2="76.90" y2="450.60" stroke="#555" stroke-width="0.7" />
<text x="79.70" y="457.20" font-size="7.5" text-anchor="end" textLength="4.40" lengthAdjust="spacingAndGlyphs" transform="rotate(-45 79.70 457.20)">5</text>
<line x1="84.25" y1="447.30" x2="84.25" y2="450.60" stroke="#555" stroke-width="0.7" />
<text x="87.05" y="457.20" font-size="7.5" text-anchor="end" textLength="4.40" lengthAdjust="spacingAndGlyphs" transform="rotate(-45 87.05 457.20)">6</text>
<line x1="91.60" y1="447.30" x2="91.60" y2="450.60" stroke="#555" stroke-width="0.7" />
<text x="94.40" y="457.20" font-size="7.5" text-anchor="end" textLength="4.40" lengthAdjust="spacingAndGlyphs" transform="rotate(-45 94.40 457.20)">7</text>
<line x1="98.95" y1="447.30" x2="98.95" y2="450.60" stroke="#555" stroke-width="0.7" />
<text x="101.75" y="457.20" font-size="7.5" text-anchor="end" textLength="4.40" lengthAdjust="spacingAndGlyphs" transform="rotate(-45 101.75 457.20)">8</text>
<line x1="106.30" y1="447.30" x2="106.30" y2="450.60" stroke="#555" stroke-width="0.7" />
<text x="109.10" y="457.20" font-size="7.5" text-anchor="end" textLength="4.40" lengthAdjust="spacingAndGlyphs" transform="rotate(-45 109.10 457.20)">9</text>
<line x1="113.65" y1="447.30" x2="113.65" y2="450.60" stroke="#555" stroke-width="0.7" />
<text x="116.45" y="457.20" font-size="7.5" text-anchor="end" textLength="7.60" lengthAdjust="spacingAndGlyphs" transform="rotate(-45 116.45 457.20)">10</text>
<line x1="121.00" y1="447.30" x2="121.00" y2="450.60" stroke="#555" stroke-width="0.7" />
<text x="123.80" y="457.20" font-size="7.5" text-anchor="end" textLength="6.40" lengthAdjust="spacingAndGlyphs" transform="rotate(-45 123.80 457.20)">11</text>
<line x1="128.35" y1="447.30" x2="128.35" y2="450.60" stroke="#555" stroke-width="0.7" />
<text x="131.15" y="457.20" font-size="7.5" text-anchor="end" textLength="7.60" lengthAdjust="spacingAndGlyphs" transform="rotate(-45 131.15 457.20)">12</text>
<line x1="135.70" y1="447.30" x2="135.70" y2="450.60" stroke="#555" stroke-width="0.7" />
<text x="138.50" y="457.20" font-size="7.5" text-anchor="end" textLength="7.60" lengthAdjust="spacingAndGlyphs" transform="rotate(-45 138.50 457.20)">13</text>
<line x1="143.05" y1="447.30" x2="143.05" y2="450.60" stroke="#555" stroke-width="0.7" />
<text x="145.85" y="457.20" font-size="7.5" text-anchor="end" textLength="7.60" lengthAdjust="spacingAndGlyphs" transform="rotate(-45 145.85 457.20)">14</text>
<line x1="150.40" y1="447.30" x2="150.40" y2="450.60" stroke="#555" stroke-width="0.7" />
<text x="153.20" y="457.20" font-size="7.5" text-anchor="end" textLength="7.60" lengthAdjust="spacingAndGlyphs" transform="rotate(-45 153.20 457.20)">15</text>
<line x1="157.75" y1="447.30" x2="157.75" y2="450.60" stroke="#555" stroke-width="0.7" />
<text x="160.55" y="457.20" font-size="7.5" text-anchor="end" textLength="7.60" lengthAdjust="spacingAndGlyphs" transform="rotate(-45 160.55 457.20)">16</text>
<line x1="165.10" y1="447.30" x2="165.10" y2="450.60" stroke="#555" stroke-width="0.7" />
<text x="167.90" y="457.20" font-size="7.5" text-anchor="end" textLength="7.60" lengthAdjust="spacingAndGlyphs" transform="rotate(-45 167.90 457.20)">17</text>
<line x1="172.45" y1="447.30" x2="172.45" y2="450.60" stroke="#555" stroke-width="0.7" />
<text x="175.25" y="457.20" font-size="7.5" text-anchor="end" textLength="7.60" lengthAdjust="spacingAndGlyphs" transform="rotate(-45 175.25 457.20)">18</text>
<line x1="179.80" y1="447.30" x2="179.80" y2="450.60" stroke="#555" stroke-width="0.7" />
<text x="182.60" y="457.20" font-size="7.5" text-anchor="end" textLength="7.60" lengthAdjust="spacingAndGlyphs" transform="rotate(-45 182.60 457.20)">19</text>
<line x1="187.15" y1="447.30" x2="187.15" y2="450.60" stroke="#555" stroke-width="0.7" />
<text x="189.95" y="457.20" font-size="7.5" text-anchor="end" textLength="8.80" lengthAdjust="spacingAndGlyphs" transform="rotate(-45 189.95 457.20)">20</text>
<text x="83.35" y="472.40" font-size="9.0" textLength="67.90" lengthAdjust="spacingAndGlyphs">Target A position</text>
<line x1="42.70" y1="435.50" x2="192.00" y2="435.50" stroke="#333" stroke-width="1.0" stroke-dasharray="2.6 2.0"/>
<line x1="47.50" y1="431.44" x2="47.50" y2="447.30" stroke="#444" stroke-width="0.6" />
<line x1="46.20" y1="431.44" x2="48.80" y2="431.44" stroke="#333" stroke-width="0.7" />
<line x1="46.20" y1="447.30" x2="48.80" y2="447.30" stroke="#333" stroke-width="0.7" />
<rect x="45.10" y="435.61" width="4.80" height="11.69" fill="#ee8eee" stroke="#333" stroke-width="0.6"/>
<line x1="45.10" y1="436.44" x2="49.90" y2="436.44" stroke="#333" stroke-width="0.6" />
<circle cx="48.31" cy="431.44" r="0.75" fill="#111" />
<circle cx="48.30" cy="447.30" r="0.75" fill="#111" />
<circle cx="48.35" cy="439.29" r="0.75" fill="#111" />
<circle cx="48.14" cy="433.83" r="0.75" fill="#111" />
<circle cx="48.67" cy="444.60" r="0.75" fill="#111" />
<circle cx="48.26" cy="444.67" r="0.75" fill="#111" />
<circle cx="46.87" cy="445.23" r="0.75" fill="#111" />
<circle cx="48.41" cy="443.91" r="0.75" fill="#111" />
<circle cx="47.47" cy="442.25" r="0.75" fill="#111" />
<circle cx="48.16" cy="437.65" r="0.75" fill="#111" />
<circle cx="47.67" cy="444.08" r="0.75" fill="#111" />
<circle cx="47.32" cy="437.11" r="0.75" fill="#111" />
<line x1="54.85" y1="443.12" x2="54.85" y2="447.30" stroke="#444" stroke-width="0.6" />
<line x1="53.55" y1="443.12" x2="56.15" y2="443.12" stroke="#333" stroke-width="0.7" />
<line x1="53.55" y1="447.30" x2="56.15" y2="447.30" stroke="#333" stroke-width="0.7" />
<rect x="52.45" y="445.63" width="4.80" height="1.67" fill="#ee8eee" stroke="#333" stroke-width="0.6"/>
<line x1="52.45" y1="446.63" x2="57.25" y2="446.63" stroke="#333" stroke-width="0.6" />
<circle cx="53.89" cy="443.12" r="0.75" fill="#111" />
<circle cx="54.83" cy="447.30" r="0.75" fill="#111" />
<circle cx="54.16" cy="446.58" r="0.75" fill="#111" />
<circle cx="54.16" cy="447.10" r="0.75" fill="#111" />
<circle cx="54.06" cy="443.97" r="0.75" fill="#111" />
<circle cx="54.50" cy="444.42" r="0.75" fill="#111" />
<circle cx="53.74" cy="444.18" r="0.75" fill="#111" />
<circle cx="55.24" cy="446.17" r="0.75" fill="#111" />
<circle cx="56.03" cy="447.01" r="0.75" fill="#111" />
<circle cx="54.56" cy="446.43" r="0.75" fill="#111" />
<circle cx="55.42" cy="446.53" r="0.75" fill="#111" />
<circle cx="55.98" cy="445.65" r="0.75" fill="#111" />
<line x1="62.20" y1="387.18" x2="62.20" y2="438.95" stroke="#444" stroke-width="0.6" />
<line x1="60.90" y1="387.18" x2="63.50" y2="387.18" stroke="#333" stroke-width="0.7" />
<line x1="60.90" y1="438.95" x2="63.50" y2="438.95" stroke="#333" stroke-width="0.7" />
<rect x="59.80" y="402.21" width="4.80" height="31.73" fill="#ee8eee" stroke="#333" stroke-width="0.6"/>
<line x1="59.80" y1="432.27" x2="64.60" y2="432.27" stroke="#333" stroke-width="0.6" />
<circle cx="62.41" cy="387.18" r="0.75" fill="#111" />
<circle cx="62.44" cy="438.95" r="0.75" fill="#111" />
<circle cx="61.83" cy="429.44" r="0.75" fill="#111" />
<circle cx="62.79" cy="395.56" r="0.75" fill="#111" />
<circle cx="61.79" cy="430.68" r="0.75" fill="#111" />
<circle cx="61.67" cy="406.39" r="0.75" fill="#111" />
<circle cx="61.33" cy="397.37" r="0.75" fill="#111" />
<circle cx="62.68" cy="406.85" r="0.75" fill="#111" />
<circle cx="61.19" cy="411.21" r="0.75" fill="#111" />
<circle cx="61.49" cy="403.12" r="0.75" fill="#111" />
<circle cx="61.08" cy="401.54" r="0.75" fill="#111" />
<circle cx="62.57" cy="414.35" r="0.75" fill="#111" />
<line x1="69.55" y1="383.84" x2="69.55" y2="418.07" stroke="#444" stroke-width="0.6" />
<line x1="68.25" y1="383.84" x2="70.85" y2="383.84" stroke="#333" stroke-width="0.7" />
<line x1="68.25" y1="418.07" x2="70.85" y2="418.07" stroke="#333" stroke-width="0.7" />
<rect x="67.15" y="398.04" width="4.80" height="15.03" fill="#ee8eee" stroke="#333" stroke-width="0.6"/>
<line x1="67.15" y1="403.88" x2="71.95" y2="403.88" stroke="#333" stroke-width="0.6" />
<circle cx="69.59" cy="383.84" r="0.75" fill="#111" />
<circle cx="69.48" cy="418.07" r="0.75" fill="#111" />
<circle cx="69.99" cy="399.47" r="0.75" fill="#111" />
<circle cx="69.02" cy="406.46" r="0.75" fill="#111" />
<circle cx="68.33" cy="411.67" r="0.75" fill="#111" />
<circle cx="69.55" cy="398.07" r="0.75" fill="#111" />
<circle cx="70.62" cy="408.53" r="0.75" fill="#111" />
<circle cx="70.17" cy="404.09" r="0.75" fill="#111" />
<circle cx="68.92" cy="406.00" r="0.75" fill="#111" />
<circle cx="70.03" cy="400.52" r="0.75" fill="#111" />
<circle cx="70.46" cy="408.03" r="0.75" fill="#111" />
<circle cx="68.92" cy="398.49" r="0.75" fill="#111" />
<line x1="76.90" y1="359.62" x2="76.90" y2="417.24" stroke="#444" stroke-width="0.6" />
<line x1="75.60" y1="359.62" x2="78.20" y2="359.62" stroke="#333" stroke-width="0.7" />
<line x1="75.60" y1="417.24" x2="78.20" y2="417.24" stroke="#333" stroke-width="0.7" />
<rect x="74.50" y="384.26" width="4.80" height="19.62" fill="#ee8eee" stroke="#333" stroke-width="0.6"/>
<line x1="74.50" y1="393.86" x2="79.30" y2="393.86" stroke="#333" stroke-width="0.6" />
<circle cx="77.85" cy="359.62" r="0.75" fill="#111" />
<circle cx="75.89" cy="417.24" r="0.75" fill="#111" />
<circle cx="77.74" cy="396.75" r="0.75" fill="#111" />
<circle cx="76.17" cy="398.24" r="0.75" fill="#111" />
<circle cx="76.39" cy="397.00" r="0.75" fill="#111" />
<circle cx="76.61" cy="396.08" r="0.75" fill="#111" />
<circle cx="75.69" cy="389.00" r="0.75" fill="#111" />
<circle cx="75.93" cy="417.00" r="0.75" fill="#111" />
<circle cx="76.54" cy="406.27" r="0.75" fill="#111" />
<circle cx="76.75" cy="393.00" r="0.75" fill="#111" />
<circle cx="77.88" cy="398.20" r="0.75" fill="#111" />
<circle cx="78.17" cy="401.19" r="0.75" fill="#111" />
<line x1="84.25" y1="376.33" x2="84.25" y2="415.57" stroke="#444" stroke-width="0.6" />
<line x1="82.95" y1="376.33" x2="85.55" y2="376.33" stroke="#333" stroke-width="0.7" />
<line x1="82.95" y1="415.57" x2="85.55" y2="415.57" stroke="#333" stroke-width="0.7" />
<rect x="81.85" y="385.51" width="4.80" height="21.71" fill="#ee8eee" stroke="#333" stroke-width="0.6"/>
<line x1="81.85" y1="395.53" x2="86.65" y2="395.53" stroke="#333" stroke-width="0.6" />
<circle cx="84.30" cy="376.33" r="0.75" fill="#111" />
<circle cx="85.34" cy="415.57" r="0.75" fill="#111" />
<circle cx="84.10" cy="395.60" r="0.75" fill="#111" />
<circle cx="84.44" cy="389.77" r="0.75" fill="#111" />
<circle cx="84.56" cy="387.84" r="0.75" fill="#111" />
<circle cx="85.13" cy="410.64" r="0.75" fill="#111" />
<circle cx="85.28" cy="401.83" r="0.75" fill="#111" />
<circle cx="83.25" cy="409.69" r="0.75" fill="#111" />
<circle cx="83.31" cy="399.15" r="0.75" fill="#111" />
<circle cx="84.34" cy="389.81" r="0.75" fill="#111" />
<circle cx="85.06" cy="391.62" r="0.75" fill="#111" />
<circle cx="84.34" cy="378.86" r="0.75" fill="#111" />
<line x1="91.60" y1="378.00" x2="91.60" y2="422.25" stroke="#444" stroke-width="0.6" />
<line x1="90.30" y1="378.00" x2="92.90" y2="378.00" stroke="#333" stroke-width="0.7" />
<line x1="90.30" y1="422.25" x2="92.90" y2="422.25" stroke="#333" stroke-width="0.7" />
<rect x="89.20" y="385.09" width="4.80" height="31.31" fill="#ee8eee" stroke="#333" stroke-width="0.6"/>
<line x1="89.20" y1="401.38" x2="94.00" y2="401.38" stroke="#333" stroke-width="0.6" />
<circle cx="92.89" cy="378.00" r="0.75" fill="#111" />
<circle cx="91.53" cy="422.25" r="0.75" fill="#111" />
<circle cx="91.00" cy="386.29" r="0.75" fill="#111" />
<circle cx="92.34" cy="413.68" r="0.75" fill="#111" />
<circle cx="91.47" cy="415.45" r="0.75" fill="#111" />
<circle cx="90.31" cy="417.51" r="0.75" fill="#111" />
<circle cx="90.38" cy="383.91" r="0.75" fill="#111" />
<circle cx="90.97" cy="386.44" r="0.75" fill="#111" />
<circle cx="91.16" cy="396.92" r="0.75" fill="#111" />
<circle cx="92.74" cy="390.56" r="0.75" fill="#111" />
<circle cx="90.94" cy="392.54" r="0.75" fill="#111" />
<circle cx="92.51" cy="406.75" r="0.75" fill="#111" />
<line x1="98.95" y1="398.87" x2="98.95" y2="436.44" stroke="#444" stroke-width="0.6" />
<line x1="97.65" y1="398.87" x2="100.25" y2="398.87" stroke="#333" stroke-width="0.7" />
<line x1="97.65" y1="436.44" x2="100.25" y2="436.44" stroke="#333" stroke-width="0.7" />
<rect x="96.55" y="408.06" width="4.80" height="25.05" fill="#ee8eee" stroke="#333" stroke-width="0.6"/>
<line x1="96.55" y1="420.58" x2="101.35" y2="420.58" stroke="#333" stroke-width="0.6" />
<circle cx="99.95" cy="398.87" r="0.75" fill="#111" />
<circle cx="98.94" cy="436.44" r="0.75" fill="#111" />
<circle cx="99.01" cy="420.81" r="0.75" fill="#111" />
<circle cx="99.82" cy="407.82" r="0.75" fill="#111" />
<circle cx="98.21" cy="426.56" r="0.75" fill="#111" />
<circle cx="99.59" cy="410.51" r="0.75" fill="#111" />
<circle cx="99.34" cy="429.16" r="0.75" fill="#111" />
<circle cx="98.76" cy="421.18" r="0.75" fill="#111" />
<circle cx="100.14" cy="418.75" r="0.75" fill="#111" />
<circle cx="97.71" cy="412.53" r="0.75" fill="#111" />
<circle cx="99.89" cy="430.53" r="0.75" fill="#111" />
<circle cx="98.02" cy="424.90" r="0.75" fill="#111" />
<line x1="106.30" y1="387.18" x2="106.30" y2="443.12" stroke="#444" stroke-width="0.6" />
<line x1="105.00" y1="387.18" x2="107.60" y2="387.18" stroke="#333" stroke-width="0.7" />
<line x1="105.00" y1="443.12" x2="107.60" y2="443.12" stroke="#333" stroke-width="0.7" />
<rect x="103.90" y="414.74" width="4.80" height="27.56" fill="#ee8eee" stroke="#333" stroke-width="0.6"/>
<line x1="103.90" y1="434.78" x2="108.70" y2="434.78" stroke="#333" stroke-width="0.6" />
<circle cx="105.26" cy="387.18" r="0.75" fill="#111" />
<circle cx="107.38" cy="443.12" r="0.75" fill="#111" />
<circle cx="107.42" cy="434.52" r="0.75" fill="#111" />
<circle cx="107.12" cy="428.49" r="0.75" fill="#111" />
<circle cx="107.16" cy="428.72" r="0.75" fill="#111" />
<circle cx="106.77" cy="425.54" r="0.75" fill="#111" />
<circle cx="106.87" cy="427.68" r="0.75" fill="#111" />
<circle cx="106.73" cy="429.91" r="0.75" fill="#111" />
<circle cx="106.54" cy="424.11" r="0.75" fill="#111" />
<circle cx="105.67" cy="440.89" r="0.75" fill="#111" />
<circle cx="105.35" cy="419.23" r="0.75" fill="#111" />
<circle cx="106.89" cy="401.70" r="0.75" fill="#111" />
<line x1="113.65" y1="424.75" x2="113.65" y2="447.30" stroke="#444" stroke-width="0.6" />
<line x1="112.35" y1="424.75" x2="114.95" y2="424.75" stroke="#333" stroke-width="0.7" />
<line x1="112.35" y1="447.30" x2="114.95" y2="447.30" stroke="#333" stroke-width="0.7" />
<rect x="111.25" y="425.59" width="4.80" height="21.71" fill="#ee8eee" stroke="#333" stroke-width="0.6"/>
<line x1="111.25" y1="435.61" x2="116.05" y2="435.61" stroke="#333" stroke-width="0.6" />
<circle cx="112.55" cy="424.75" r="0.75" fill="#111" />
<circle cx="113.59" cy="447.30" r="0.75" fill="#111" />
<circle cx="113.43" cy="446.03" r="0.75" fill="#111" />
<circle cx="114.47" cy="433.55" r="0.75" fill="#111" />
<circle cx="114.39" cy="429.83" r="0.75" fill="#111" />
<circle cx="114.91" cy="438.71" r="0.75" fill="#111" />
<circle cx="113.51" cy="436.04" r="0.75" fill="#111" />
<circle cx="113.42" cy="437.97" r="0.75" fill="#111" />
<circle cx="113.82" cy="437.28" r="0.75" fill="#111" />
<circle cx="114.30" cy="439.67" r="0.75" fill="#111" />
<circle cx="112.56" cy="426.72" r="0.75" fill="#111" />
<circle cx="112.91" cy="438.84" r="0.75" fill="#111" />
<line x1="121.00" y1="366.31" x2="121.00" y2="444.80" stroke="#444" stroke-width="0.6" />
<line x1="119.70" y1="366.31" x2="122.30" y2="366.31" stroke="#333" stroke-width="0.7" />
<line x1="119.70" y1="444.80" x2="122.30" y2="444.80" stroke="#333" stroke-width="0.7" />
<rect x="118.60" y="404.72" width="4.80" height="37.57" fill="#ee8eee" stroke="#333" stroke-width="0.6"/>
<line x1="118.60" y1="422.25" x2="123.40" y2="422.25" stroke="#333" stroke-width="0.6" />
<circle cx="121.17" cy="366.31" r="0.75" fill="#111" />
<circle cx="122.00" cy="444.80" r="0.75" fill="#111" />
<circle cx="121.41" cy="430.09" r="0.75" fill="#111" />
<circle cx="121.54" cy="405.91" r="0.75" fill="#111" />
<circle cx="121.52" cy="407.21" r="0.75" fill="#111" />
<circle cx="121.77" cy="434.63" r="0.75" fill="#111" />
<circle cx="121.92" cy="437.80" r="0.75" fill="#111" />
<circle cx="120.10" cy="437.46" r="0.75" fill="#111" />
<circle cx="119.84" cy="427.76" r="0.75" fill="#111" />
<circle cx="121.31" cy="436.31" r="0.75" fill="#111" />
<circle cx="121.05" cy="416.05" r="0.75" fill="#111" />
<circle cx="121.05" cy="433.59" r="0.75" fill="#111" />
<line x1="128.35" y1="423.92" x2="128.35" y2="447.30" stroke="#444" stroke-width="0.6" />
<line x1="127.05" y1="423.92" x2="129.65" y2="423.92" stroke="#333" stroke-width="0.7" />
<line x1="127.05" y1="447.30" x2="129.65" y2="447.30" stroke="#333" stroke-width="0.7" />
<rect x="125.95" y="438.12" width="4.80" height="9.19" fill="#ee8eee" stroke="#333" stroke-width="0.6"/>
<line x1="125.95" y1="443.12" x2="130.75" y2="443.12" stroke="#333" stroke-width="0.6" />
<circle cx="127.84" cy="423.92" r="0.75" fill="#111" />
<circle cx="127.32" cy="447.30" r="0.75" fill="#111" />
<circle cx="128.20" cy="443.23" r="0.75" fill="#111" />
<circle cx="127.32" cy="437.33" r="0.75" fill="#111" />
<circle cx="128.88" cy="445.05" r="0.75" fill="#111" />
<circle cx="128.55" cy="441.98" r="0.75" fill="#111" />
<circle cx="128.14" cy="426.10" r="0.75" fill="#111" />
<circle cx="128.90" cy="440.73" r="0.75" fill="#111" />
<circle cx="127.66" cy="441.31" r="0.75" fill="#111" />
<circle cx="127.91" cy="439.42" r="0.75" fill="#111" />
<circle cx="128.00" cy="441.35" r="0.75" fill="#111" />
<circle cx="127.06" cy="442.16" r="0.75" fill="#111" />
<line x1="135.70" y1="437.28" x2="135.70" y2="447.30" stroke="#444" stroke-width="0.6" />
<line x1="134.40" y1="437.28" x2="137.00" y2="437.28" stroke="#333" stroke-width="0.7" />
<line x1="134.40" y1="447.30" x2="137.00" y2="447.30" stroke="#333" stroke-width="0.7" />
<rect x="133.30" y="438.95" width="4.80" height="8.35" fill="#ee8eee" stroke="#333" stroke-width="0.6"/>
<line x1="133.30" y1="443.12" x2="138.10" y2="443.12" stroke="#333" stroke-width="0.6" />
<circle cx="136.04" cy="437.28" r="0.75" fill="#111" />
<circle cx="136.85" cy="447.30" r="0.75" fill="#111" />
<circle cx="136.48" cy="446.42" r="0.75" fill="#111" />
<circle cx="135.96" cy="440.64" r="0.75" fill="#111" />
<circle cx="136.40" cy="442.82" r="0.75" fill="#111" />
<circle cx="135.68" cy="446.14" r="0.75" fill="#111" />
<circle cx="135.83" cy="442.95" r="0.75" fill="#111" />
<circle cx="136.53" cy="446.04" r="0.75" fill="#111" />
<circle cx="136.01" cy="447.11" r="0.75" fill="#111" />
<circle cx="135.38" cy="441.02" r="0.75" fill="#111" />
<circle cx="134.45" cy="446.23" r="0.75" fill="#111" />
<circle cx="136.45" cy="441.65" r="0.75" fill="#111" />
<line x1="143.05" y1="443.12" x2="143.05" y2="447.30" stroke="#444" stroke-width="0.6" />
<line x1="141.75" y1="443.12" x2="144.35" y2="443.12" stroke="#333" stroke-width="0.7" />
<line x1="141.75" y1="447.30" x2="144.35" y2="447.30" stroke="#333" stroke-width="0.7" />
<rect x="140.65" y="446.47" width="4.80" height="0.83" fill="#ee8eee" stroke="#333" stroke-width="0.6"/>
<line x1="140.65" y1="446.88" x2="145.45" y2="446.88" stroke="#333" stroke-width="0.6" />
<circle cx="143.05" cy="443.12" r="0.75" fill="#111" />
<circle cx="144.09" cy="447.30" r="0.75" fill="#111" />
<circle cx="141.86" cy="446.94" r="0.75" fill="#111" />
<circle cx="142.66" cy="446.84" r="0.75" fill="#111" />
<circle cx="143.67" cy="446.60" r="0.75" fill="#111" />
<circle cx="142.94" cy="444.97" r="0.75" fill="#111" />
<circle cx="143.96" cy="445.46" r="0.75" fill="#111" />
<circle cx="142.17" cy="444.17" r="0.75" fill="#111" />
<circle cx="143.75" cy="444.20" r="0.75" fill="#111" />
<circle cx="142.87" cy="444.97" r="0.75" fill="#111" />
<circle cx="143.23" cy="446.51" r="0.75" fill="#111" />
<circle cx="141.90" cy="446.94" r="0.75" fill="#111" />
<line x1="150.40" y1="446.80" x2="150.40" y2="447.30" stroke="#444" stroke-width="0.6" />
<line x1="149.10" y1="446.80" x2="151.70" y2="446.80" stroke="#333" stroke-width="0.7" />
<line x1="149.10" y1="447.30" x2="151.70" y2="447.30" stroke="#333" stroke-width="0.7" />
<rect x="148.00" y="447.05" width="4.80" height="0.80" fill="#ee8eee" stroke="#333" stroke-width="0.6"/>
<line x1="148.00" y1="447.22" x2="152.80" y2="447.22" stroke="#333" stroke-width="0.6" />
<circle cx="150.42" cy="446.80" r="0.75" fill="#111" />
<circle cx="149.26" cy="447.30" r="0.75" fill="#111" />
<circle cx="151.17" cy="447.10" r="0.75" fill="#111" />
<circle cx="150.76" cy="447.02" r="0.75" fill="#111" />
<circle cx="149.72" cy="447.29" r="0.75" fill="#111" />
<circle cx="149.40" cy="447.08" r="0.75" fill="#111" />
<circle cx="150.19" cy="446.99" r="0.75" fill="#111" />
<circle cx="151.53" cy="447.08" r="0.75" fill="#111" />
<circle cx="151.36" cy="447.06" r="0.75" fill="#111" />
<circle cx="150.31" cy="447.06" r="0.75" fill="#111" />
<circle cx="149.19" cy="447.08" r="0.75" fill="#111" />
<circle cx="151.26" cy="447.04" r="0.75" fill="#111" />
<line x1="157.75" y1="446.47" x2="157.75" y2="447.30" stroke="#444" stroke-width="0.6" />
<line x1="156.45" y1="446.47" x2="159.05" y2="446.47" stroke="#333" stroke-width="0.7" />
<line x1="156.45" y1="447.30" x2="159.05" y2="447.30" stroke="#333" stroke-width="0.7" />
<rect x="155.35" y="446.88" width="4.80" height="0.80" fill="#ee8eee" stroke="#333" stroke-width="0.6"/>
<line x1="155.35" y1="447.13" x2="160.15" y2="447.13" stroke="#333" stroke-width="0.6" />
<circle cx="157.82" cy="446.47" r="0.75" fill="#111" />
<circle cx="156.92" cy="447.30" r="0.75" fill="#111" />
<circle cx="157.91" cy="446.99" r="0.75" fill="#111" />
<circle cx="156.60" cy="446.90" r="0.75" fill="#111" />
<circle cx="156.52" cy="446.97" r="0.75" fill="#111" />
<circle cx="158.07" cy="447.29" r="0.75" fill="#111" />
<circle cx="158.32" cy="447.05" r="0.75" fill="#111" />
<circle cx="158.76" cy="446.50" r="0.75" fill="#111" />
<circle cx="158.21" cy="446.89" r="0.75" fill="#111" />
<circle cx="159.04" cy="447.09" r="0.75" fill="#111" />
<circle cx="156.82" cy="447.25" r="0.75" fill="#111" />
<circle cx="158.08" cy="447.25" r="0.75" fill="#111" />
<line x1="165.10" y1="446.63" x2="165.10" y2="447.30" stroke="#444" stroke-width="0.6" />
<line x1="163.80" y1="446.63" x2="166.40" y2="446.63" stroke="#333" stroke-width="0.7" />
<line x1="163.80" y1="447.30" x2="166.40" y2="447.30" stroke="#333" stroke-width="0.7" />
<rect x="162.70" y="446.88" width="4.80" height="0.80" fill="#ee8eee" stroke="#333" stroke-width="0.6"/>
<line x1="162.70" y1="447.13" x2="167.50" y2="447.13" stroke="#333" stroke-width="0.6" />
<circle cx="165.54" cy="446.63" r="0.75" fill="#111" />
<circle cx="165.92" cy="447.30" r="0.75" fill="#111" />
<circle cx="164.49" cy="447.18" r="0.75" fill="#111" />
<circle cx="165.67" cy="447.20" r="0.75" fill="#111" />
<circle cx="165.01" cy="446.77" r="0.75" fill="#111" />
<circle cx="164.37" cy="446.92" r="0.75" fill="#111" />
<circle cx="164.52" cy="447.00" r="0.75" fill="#111" />
<circle cx="165.20" cy="447.19" r="0.75" fill="#111" />
<circle cx="165.90" cy="447.14" r="0.75" fill="#111" />
<circle cx="165.36" cy="447.11" r="0.75" fill="#111" />
<circle cx="163.80" cy="447.23" r="0.75" fill="#111" />
<circle cx="165.83" cy="447.20" r="0.75" fill="#111" />
<line x1="172.45" y1="446.97" x2="172.45" y2="447.30" stroke="#444" stroke-width="0.6" />
<line x1="171.15" y1="446.97" x2="173.75" y2="446.97" stroke="#333" stroke-width="0.7" />
<line x1="171.15" y1="447.30" x2="173.75" y2="447.30" stroke="#333" stroke-width="0.7" />
<rect x="170.05" y="447.13" width="4.80" height="0.80" fill="#ee8eee" stroke="#333" stroke-width="0.6"/>
<line x1="170.05" y1="447.22" x2="174.85" y2="447.22" stroke="#333" stroke-width="0.6" />
<circle cx="173.01" cy="446.97" r="0.75" fill="#111" />
<circle cx="172.36" cy="447.30" r="0.75" fill="#111" />
<circle cx="173.01" cy="447.16" r="0.75" fill="#111" />
<circle cx="173.64" cy="447.23" r="0.75" fill="#111" />
<circle cx="172.03" cy="447.21" r="0.75" fill="#111" />
<circle cx="173.07" cy="447.15" r="0.75" fill="#111" />
<circle cx="172.05" cy="447.29" r="0.75" fill="#111" />
<circle cx="173.46" cy="447.26" r="0.75" fill="#111" />
<circle cx="173.14" cy="447.20" r="0.75" fill="#111" />
<circle cx="173.38" cy="447.00" r="0.75" fill="#111" />
<circle cx="173.42" cy="447.20" r="0.75" fill="#111" />
<circle cx="172.70" cy="447.14" r="0.75" fill="#111" />
<line x1="179.80" y1="446.97" x2="179.80" y2="447.30" stroke="#444" stroke-width="0.6" />
<line x1="178.50" y1="446.97" x2="181.10" y2="446.97" stroke="#333" stroke-width="0.7" />
<line x1="178.50" y1="447.30" x2="181.10" y2="447.30" stroke="#333" stroke-width="0.7" />
<rect x="177.40" y="447.13" width="4.80" height="0.80" fill="#ee8eee" stroke="#333" stroke-width="0.6"/>
<line x1="177.40" y1="447.22" x2="182.20" y2="447.22" stroke="#333" stroke-width="0.6" />
<circle cx="180.09" cy="446.97" r="0.75" fill="#111" />
<circle cx="179.05" cy="447.30" r="0.75" fill="#111" />
<circle cx="178.82" cy="447.25" r="0.75" fill="#111" />
<circle cx="180.10" cy="447.28" r="0.75" fill="#111" />
<circle cx="180.26" cy="447.07" r="0.75" fill="#111" />
<circle cx="178.53" cy="447.16" r="0.75" fill="#111" />
<circle cx="180.96" cy="447.27" r="0.75" fill="#111" />
<circle cx="178.55" cy="447.20" r="0.75" fill="#111" />
<circle cx="178.93" cy="447.29" r="0.75" fill="#111" />
<circle cx="179.35" cy="447.14" r="0.75" fill="#111" />
<circle cx="180.57" cy="447.19" r="0.75" fill="#111" />
<circle cx="180.43" cy="447.29" r="0.75" fill="#111" />
<line x1="187.15" y1="447.05" x2="187.15" y2="447.30" stroke="#444" stroke-width="0.6" />
<line x1="185.85" y1="447.05" x2="188.45" y2="447.05" stroke="#333" stroke-width="0.7" />
<line x1="185.85" y1="447.30" x2="188.45" y2="447.30" stroke="#333" stroke-width="0.7" />
<rect x="184.75" y="447.13" width="4.80" height="0.80" fill="#ee8eee" stroke="#333" stroke-width="0.6"/>
<line x1="184.75" y1="447.22" x2="189.55" y2="447.22" stroke="#333" stroke-width="0.6" />
<circle cx="188.01" cy="447.05" r="0.75" fill="#111" />
<circle cx="188.04" cy="447.30" r="0.75" fill="#111" />
<circle cx="187.49" cy="447.19" r="0.75" fill="#111" />
<circle cx="185.88" cy="447.27" r="0.75" fill="#111" />
<circle cx="187.77" cy="447.29" r="0.75" fill="#111" />
<circle cx="186.35" cy="447.17" r="0.75" fill="#111" />
<circle cx="188.31" cy="447.13" r="0.75" fill="#111" />
<circle cx="188.37" cy="447.16" r="0.75" fill="#111" />
<circle cx="186.02" cy="447.25" r="0.75" fill="#111" />
<circle cx="187.75" cy="447.13" r="0.75" fill="#111" />
<circle cx="186.48" cy="447.26" r="0.75" fill="#111" />
<circle cx="186.12" cy="447.15" r="0.75" fill="#111" />
<text x="252.55" y="326.70" font-size="9.0" textLength="141.10" lengthAdjust="spacingAndGlyphs">ABE8e + V106W normalized editing</text>
<text x="267.85" y="336.70" font-size="9.0" textLength="110.10" lengthAdjust="spacingAndGlyphs">activity by target A position</text>
<text x="279.55" y="347.10" font-size="9.0" textLength="87.10" lengthAdjust="spacingAndGlyphs">(12 endogenous sites)</text>
<text x="214.75" y="397.60" font-size="9.0" text-anchor="middle" textLength="77.80" lengthAdjust="spacingAndGlyphs" transform="rotate(-90 214.75 397.60)">Relative A•T to G•C</text>
<text x="224.20" y="397.20" font-size="9.0" text-anchor="middle" textLength="68.00" lengthAdjust="spacingAndGlyphs" transform="rotate(-90 224.20 397.20)">editing efficiency</text>
<line x1="248.10" y1="346.70" x2="248.10" y2="447.70" stroke="#555" stroke-width="0.9" />
<line x1="244.60" y1="447.30" x2="248.10" y2="447.30" stroke="#555" stroke-width="0.8" />
<text x="241.30" y="450.05" font-size="7.8" text-anchor="end" textLength="4.45" lengthAdjust="spacingAndGlyphs">0</text>
<line x1="246.10" y1="438.95" x2="248.10" y2="438.95" stroke="#555" stroke-width="0.8" />
<line x1="244.60" y1="430.60" x2="248.10" y2="430.60" stroke="#555" stroke-width="0.8" />
<text x="241.30" y="433.35" font-size="7.8" text-anchor="end" textLength="8.90" lengthAdjust="spacingAndGlyphs">20</text>
<line x1="246.10" y1="422.25" x2="248.10" y2="422.25" stroke="#555" stroke-width="0.8" />
<line x1="244.60" y1="413.90" x2="248.10" y2="413.90" stroke="#555" stroke-width="0.8" />
<text x="241.30" y="416.65" font-size="7.8" text-anchor="end" textLength="8.90" lengthAdjust="spacingAndGlyphs">40</text>
<line x1="246.10" y1="405.55" x2="248.10" y2="405.55" stroke="#555" stroke-width="0.8" />
<line x1="244.60" y1="397.20" x2="248.10" y2="397.20" stroke="#555" stroke-width="0.8" />
<text x="241.30" y="399.95" font-size="7.8" text-anchor="end" textLength="8.90" lengthAdjust="spacingAndGlyphs">60</text>
<line x1="246.10" y1="388.85" x2="248.10" y2="388.85" stroke="#555" stroke-width="0.8" />
<line x1="244.60" y1="380.50" x2="248.10" y2="380.50" stroke="#555" stroke-width="0.8" />
<text x="241.30" y="383.25" font-size="7.8" text-anchor="end" textLength="8.90" lengthAdjust="spacingAndGlyphs">80</text>
<line x1="246.10" y1="372.15" x2="248.10" y2="372.15" stroke="#555" stroke-width="0.8" />
<line x1="244.60" y1="363.80" x2="248.10" y2="363.80" stroke="#555" stroke-width="0.8" />
<text x="241.30" y="366.55" font-size="7.8" text-anchor="end" textLength="12.20" lengthAdjust="spacingAndGlyphs">100</text>
<line x1="246.10" y1="355.45" x2="248.10" y2="355.45" stroke="#555" stroke-width="0.8" />
<line x1="244.60" y1="347.10" x2="248.10" y2="347.10" stroke="#555" stroke-width="0.8" />
<text x="241.30" y="349.85" font-size="7.8" text-anchor="end" textLength="12.20" lengthAdjust="spacingAndGlyphs">120</text>
<line x1="248.10" y1="447.30" x2="397.50" y2="447.30" stroke="#555" stroke-width="0.9" />
<line x1="252.80" y1="447.30" x2="252.80" y2="450.60" stroke="#555" stroke-width="0.7" />
<text x="255.60" y="457.20" font-size="7.5" text-anchor="end" textLength="3.20" lengthAdjust="spacingAndGlyphs" transform="rotate(-45 255.60 457.20)">1</text>
<line x1="260.20" y1="447.30" x2="260.20" y2="450.60" stroke="#555" stroke-width="0.7" />
<text x="263.00" y="457.20" font-size="7.5" text-anchor="end" textLength="4.40" lengthAdjust="spacingAndGlyphs" transform="rotate(-45 263.00 457.20)">2</text>
<line x1="267.60" y1="447.30" x2="267.60" y2="450.60" stroke="#555" stroke-width="0.7" />
<text x="270.40" y="457.20" font-size="7.5" text-anchor="end" textLength="4.40" lengthAdjust="spacingAndGlyphs" transform="rotate(-45 270.40 457.20)">3</text>
<line x1="275.00" y1="447.30" x2="275.00" y2="450.60" stroke="#555" stroke-width="0.7" />
<text x="277.80" y="457.20" font-size="7.5" text-anchor="end" textLength="4.40" lengthAdjust="spacingAndGlyphs" transform="rotate(-45 277.80 457.20)">4</text>
<line x1="282.40" y1="447.30" x2="282.40" y2="450.60" stroke="#555" stroke-width="0.7" />
<text x="285.20" y="457.20" font-size="7.5" text-anchor="end" textLength="4.40" lengthAdjust="spacingAndGlyphs" transform="rotate(-45 285.20 457.20)">5</text>
<line x1="289.80" y1="447.30" x2="289.80" y2="450.60" stroke="#555" stroke-width="0.7" />
<text x="292.60" y="457.20" font-size="7.5" text-anchor="end" textLength="4.40" lengthAdjust="spacingAndGlyphs" transform="rotate(-45 292.60 457.20)">6</text>
<line x1="297.20" y1="447.30" x2="297.20" y2="450.60" stroke="#555" stroke-width="0.7" />
<text x="300.00" y="457.20" font-size="7.5" text-anchor="end" textLength="4.40" lengthAdjust="spacingAndGlyphs" transform="rotate(-45 300.00 457.20)">7</text>
<line x1="304.60" y1="447.30" x2="304.60" y2="450.60" stroke="#555" stroke-width="0.7" />
<text x="307.40" y="457.20" font-size="7.5" text-anchor="end" textLength="4.40" lengthAdjust="spacingAndGlyphs" transform="rotate(-45 307.40 457.20)">8</text>
<line x1="312.00" y1="447.30" x2="312.00" y2="450.60" stroke="#555" stroke-width="0.7" />
<text x="314.80" y="457.20" font-size="7.5" text-anchor="end" textLength="4.40" lengthAdjust="spacingAndGlyphs" transform="rotate(-45 314.80 457.20)">9</text>
<line x1="319.40" y1="447.30" x2="319.40" y2="450.60" stroke="#555" stroke-width="0.7" />
<text x="322.20" y="457.20" font-size="7.5" text-anchor="end" textLength="7.60" lengthAdjust="spacingAndGlyphs" transform="rotate(-45 322.20 457.20)">10</text>
<line x1="326.80" y1="447.30" x2="326.80" y2="450.60" stroke="#555" stroke-width="0.7" />
<text x="329.60" y="457.20" font-size="7.5" text-anchor="end" textLength="6.40" lengthAdjust="spacingAndGlyphs" transform="rotate(-45 329.60 457.20)">11</text>
<line x1="334.20" y1="447.30" x2="334.20" y2="450.60" stroke="#555" stroke-width="0.7" />
<text x="337.00" y="457.20" font-size="7.5" text-anchor="end" textLength="7.60" lengthAdjust="spacingAndGlyphs" transform="rotate(-45 337.00 457.20)">12</text>
<line x1="341.60" y1="447.30" x2="341.60" y2="450.60" stroke="#555" stroke-width="0.7" />
<text x="344.40" y="457.20" font-size="7.5" text-anchor="end" textLength="7.60" lengthAdjust="spacingAndGlyphs" transform="rotate(-45 344.40 457.20)">13</text>
<line x1="349.00" y1="447.30" x2="349.00" y2="450.60" stroke="#555" stroke-width="0.7" />
<text x="351.80" y="457.20" font-size="7.5" text-anchor="end" textLength="7.60" lengthAdjust="spacingAndGlyphs" transform="rotate(-45 351.80 457.20)">14</text>
<line x1="356.40" y1="447.30" x2="356.40" y2="450.60" stroke="#555" stroke-width="0.7" />
<text x="359.20" y="457.20" font-size="7.5" text-anchor="end" textLength="7.60" lengthAdjust="spacingAndGlyphs" transform="rotate(-45 359.20 457.20)">15</text>
<line x1="363.80" y1="447.30" x2="363.80" y2="450.60" stroke="#555" stroke-width="0.7" />
<text x="366.60" y="457.20" font-size="7.5" text-anchor="end" textLength="7.60" lengthAdjust="spacingAndGlyphs" transform="rotate(-45 366.60 457.20)">16</text>
<line x1="371.20" y1="447.30" x2="371.20" y2="450.60" stroke="#555" stroke-width="0.7" />
<text x="374.00" y="457.20" font-size="7.5" text-anchor="end" textLength="7.60" lengthAdjust="spacingAndGlyphs" transform="rotate(-45 374.00 457.20)">17</text>
<line x1="378.60" y1="447.30" x2="378.60" y2="450.60" stroke="#555" stroke-width="0.7" />
<text x="381.40" y="457.20" font-size="7.5" text-anchor="end" textLength="7.60" lengthAdjust="spacingAndGlyphs" transform="rotate(-45 381.40 457.20)">18</text>
<line x1="386.00" y1="447.30" x2="386.00" y2="450.60" stroke="#555" stroke-width="0.7" />
<text x="388.80" y="457.20" font-size="7.5" text-anchor="end" textLength="7.60" lengthAdjust="spacingAndGlyphs" transform="rotate(-45 388.80 457.20)">19</text>
<line x1="393.40" y1="447.30" x2="393.40" y2="450.60" stroke="#555" stroke-width="0.7" />
<text x="396.20" y="457.20" font-size="7.5" text-anchor="end" textLength="8.80" lengthAdjust="spacingAndGlyphs" transform="rotate(-45 396.20 457.20)">20</text>
<text x="288.95" y="472.40" font-size="9.0" textLength="68.10" lengthAdjust="spacingAndGlyphs">Target A position</text>
<line x1="248.60" y1="435.50" x2="397.00" y2="435.50" stroke="#333" stroke-width="1.0" stroke-dasharray="2.6 2.0"/>
<line x1="252.80" y1="438.12" x2="252.80" y2="447.30" stroke="#444" stroke-width="0.6" />
<line x1="251.50" y1="438.12" x2="254.10" y2="438.12" stroke="#333" stroke-width="0.7" />
<line x1="251.50" y1="447.30" x2="254.10" y2="447.30" stroke="#333" stroke-width="0.7" />
<rect x="250.40" y="440.20" width="4.80" height="7.10" fill="#a98ff0" stroke="#333" stroke-width="0.6"/>
<line x1="250.40" y1="446.47" x2="255.20" y2="446.47" stroke="#333" stroke-width="0.6" />
<circle cx="252.93" cy="438.12" r="0.75" fill="#111" />
<circle cx="253.23" cy="447.30" r="0.75" fill="#111" />
<circle cx="251.93" cy="442.31" r="0.75" fill="#111" />
<circle cx="253.19" cy="438.66" r="0.75" fill="#111" />
<circle cx="251.82" cy="445.48" r="0.75" fill="#111" />
<circle cx="252.38" cy="441.25" r="0.75" fill="#111" />
<circle cx="251.72" cy="442.44" r="0.75" fill="#111" />
<circle cx="252.03" cy="441.78" r="0.75" fill="#111" />
<circle cx="254.04" cy="445.72" r="0.75" fill="#111" />
<circle cx="252.55" cy="444.01" r="0.75" fill="#111" />
<circle cx="254.08" cy="441.59" r="0.75" fill="#111" />
<circle cx="252.64" cy="445.92" r="0.75" fill="#111" />
<line x1="260.20" y1="441.45" x2="260.20" y2="447.30" stroke="#444" stroke-width="0.6" />
<line x1="258.90" y1="441.45" x2="261.50" y2="441.45" stroke="#333" stroke-width="0.7" />
<line x1="258.90" y1="447.30" x2="261.50" y2="447.30" stroke="#333" stroke-width="0.7" />
<rect x="257.80" y="443.12" width="4.80" height="4.18" fill="#a98ff0" stroke="#333" stroke-width="0.6"/>
<line x1="257.80" y1="446.47" x2="262.60" y2="446.47" stroke="#333" stroke-width="0.6" />
<circle cx="260.82" cy="441.45" r="0.75" fill="#111" />
<circle cx="259.20" cy="447.30" r="0.75" fill="#111" />
<circle cx="260.27" cy="442.20" r="0.75" fill="#111" />
<circle cx="259.14" cy="446.65" r="0.75" fill="#111" />
<circle cx="260.15" cy="443.60" r="0.75" fill="#111" />
<circle cx="260.68" cy="446.90" r="0.75" fill="#111" />
<circle cx="260.29" cy="444.30" r="0.75" fill="#111" />
<circle cx="260.08" cy="445.41" r="0.75" fill="#111" />
<circle cx="260.16" cy="443.97" r="0.75" fill="#111" />
<circle cx="260.04" cy="446.70" r="0.75" fill="#111" />
<circle cx="260.45" cy="446.78" r="0.75" fill="#111" />
<circle cx="259.15" cy="447.18" r="0.75" fill="#111" />
<line x1="267.60" y1="403.88" x2="267.60" y2="443.96" stroke="#444" stroke-width="0.6" />
<line x1="266.30" y1="403.88" x2="268.90" y2="403.88" stroke="#333" stroke-width="0.7" />
<line x1="266.30" y1="443.96" x2="268.90" y2="443.96" stroke="#333" stroke-width="0.7" />
<rect x="265.20" y="416.41" width="4.80" height="20.46" fill="#a98ff0" stroke="#333" stroke-width="0.6"/>
<line x1="265.20" y1="428.10" x2="270.00" y2="428.10" stroke="#333" stroke-width="0.6" />
<circle cx="266.97" cy="403.88" r="0.75" fill="#111" />
<circle cx="267.31" cy="443.96" r="0.75" fill="#111" />
<circle cx="266.39" cy="432.03" r="0.75" fill="#111" />
<circle cx="267.11" cy="406.32" r="0.75" fill="#111" />
<circle cx="268.86" cy="433.93" r="0.75" fill="#111" />
<circle cx="267.82" cy="421.06" r="0.75" fill="#111" />
<circle cx="267.03" cy="422.44" r="0.75" fill="#111" />
<circle cx="268.73" cy="427.00" r="0.75" fill="#111" />
<circle cx="267.23" cy="425.21" r="0.75" fill="#111" />
<circle cx="266.95" cy="433.40" r="0.75" fill="#111" />
<circle cx="266.39" cy="433.00" r="0.75" fill="#111" />
<circle cx="266.68" cy="425.15" r="0.75" fill="#111" />
<line x1="275.00" y1="375.49" x2="275.00" y2="415.15" stroke="#444" stroke-width="0.6" />
<line x1="273.70" y1="375.49" x2="276.30" y2="375.49" stroke="#333" stroke-width="0.7" />
<line x1="273.70" y1="415.15" x2="276.30" y2="415.15" stroke="#333" stroke-width="0.7" />
<rect x="272.60" y="394.69" width="4.80" height="17.12" fill="#a98ff0" stroke="#333" stroke-width="0.6"/>
<line x1="272.60" y1="403.05" x2="277.40" y2="403.05" stroke="#333" stroke-width="0.6" />
<circle cx="275.71" cy="375.49" r="0.75" fill="#111" />
<circle cx="274.52" cy="415.15" r="0.75" fill="#111" />
<circle cx="276.08" cy="407.87" r="0.75" fill="#111" />
<circle cx="275.29" cy="404.66" r="0.75" fill="#111" />
<circle cx="274.34" cy="401.47" r="0.75" fill="#111" />
<circle cx="276.13" cy="403.60" r="0.75" fill="#111" />
<circle cx="274.92" cy="400.53" r="0.75" fill="#111" />
<circle cx="274.58" cy="391.52" r="0.75" fill="#111" />
<circle cx="274.38" cy="385.12" r="0.75" fill="#111" />
<circle cx="273.97" cy="381.78" r="0.75" fill="#111" />
<circle cx="274.22" cy="405.24" r="0.75" fill="#111" />
<circle cx="275.50" cy="393.50" r="0.75" fill="#111" />
<line x1="282.40" y1="365.89" x2="282.40" y2="415.15" stroke="#444" stroke-width="0.6" />
<line x1="281.10" y1="365.89" x2="283.70" y2="365.89" stroke="#333" stroke-width="0.7" />
<line x1="281.10" y1="415.15" x2="283.70" y2="415.15" stroke="#333" stroke-width="0.7" />
<rect x="280.00" y="376.33" width="4.80" height="17.95" fill="#a98ff0" stroke="#333" stroke-width="0.6"/>
<line x1="280.00" y1="388.27" x2="284.80" y2="388.27" stroke="#333" stroke-width="0.6" />
<circle cx="282.81" cy="365.89" r="0.75" fill="#111" />
<circle cx="282.55" cy="415.15" r="0.75" fill="#111" />
<circle cx="281.22" cy="389.63" r="0.75" fill="#111" />
<circle cx="282.16" cy="384.50" r="0.75" fill="#111" />
<circle cx="281.79" cy="380.18" r="0.75" fill="#111" />
<circle cx="282.32" cy="387.66" r="0.75" fill="#111" />
<circle cx="283.53" cy="391.96" r="0.75" fill="#111" />
<circle cx="283.35" cy="391.65" r="0.75" fill="#111" />
<circle cx="281.26" cy="407.93" r="0.75" fill="#111" />
<circle cx="282.87" cy="404.21" r="0.75" fill="#111" />
<circle cx="283.53" cy="382.81" r="0.75" fill="#111" />
<circle cx="282.51" cy="377.53" r="0.75" fill="#111" />
<line x1="289.80" y1="367.98" x2="289.80" y2="415.15" stroke="#444" stroke-width="0.6" />
<line x1="288.50" y1="367.98" x2="291.10" y2="367.98" stroke="#333" stroke-width="0.7" />
<line x1="288.50" y1="415.15" x2="291.10" y2="415.15" stroke="#333" stroke-width="0.7" />
<rect x="287.40" y="374.66" width="4.80" height="19.62" fill="#a98ff0" stroke="#333" stroke-width="0.6"/>
<line x1="287.40" y1="377.58" x2="292.20" y2="377.58" stroke="#333" stroke-width="0.6" />
<circle cx="289.15" cy="367.98" r="0.75" fill="#111" />
<circle cx="290.27" cy="415.15" r="0.75" fill="#111" />
<circle cx="290.18" cy="377.27" r="0.75" fill="#111" />
<circle cx="288.50" cy="375.04" r="0.75" fill="#111" />
<circle cx="291.09" cy="376.05" r="0.75" fill="#111" />
<circle cx="289.11" cy="411.94" r="0.75" fill="#111" />
<circle cx="291.07" cy="400.75" r="0.75" fill="#111" />
<circle cx="290.91" cy="386.84" r="0.75" fill="#111" />
<circle cx="290.84" cy="414.92" r="0.75" fill="#111" />
<circle cx="290.72" cy="378.89" r="0.75" fill="#111" />
<circle cx="289.53" cy="383.91" r="0.75" fill="#111" />
<circle cx="289.66" cy="375.22" r="0.75" fill="#111" />
<line x1="297.20" y1="366.31" x2="297.20" y2="413.90" stroke="#444" stroke-width="0.6" />
<line x1="295.90" y1="366.31" x2="298.50" y2="366.31" stroke="#333" stroke-width="0.7" />
<line x1="295.90" y1="413.90" x2="298.50" y2="413.90" stroke="#333" stroke-width="0.7" />
<rect x="294.80" y="376.74" width="4.80" height="26.30" fill="#a98ff0" stroke="#333" stroke-width="0.6"/>
<line x1="294.80" y1="384.68" x2="299.60" y2="384.68" stroke="#333" stroke-width="0.6" />
<circle cx="296.42" cy="366.31" r="0.75" fill="#111" />
<circle cx="295.98" cy="413.90" r="0.75" fill="#111" />
<circle cx="298.14" cy="378.43" r="0.75" fill="#111" />
<circle cx="297.14" cy="399.45" r="0.75" fill="#111" />
<circle cx="296.91" cy="375.52" r="0.75" fill="#111" />
<circle cx="297.25" cy="367.83" r="0.75" fill="#111" />
<circle cx="296.21" cy="374.15" r="0.75" fill="#111" />
<circle cx="296.48" cy="379.35" r="0.75" fill="#111" />
<circle cx="296.51" cy="391.52" r="0.75" fill="#111" />
<circle cx="296.56" cy="376.09" r="0.75" fill="#111" />
<circle cx="298.13" cy="385.14" r="0.75" fill="#111" />
<circle cx="296.54" cy="393.97" r="0.75" fill="#111" />
<line x1="304.60" y1="400.12" x2="304.60" y2="426.84" stroke="#444" stroke-width="0.6" />
<line x1="303.30" y1="400.12" x2="305.90" y2="400.12" stroke="#333" stroke-width="0.7" />
<line x1="303.30" y1="426.84" x2="305.90" y2="426.84" stroke="#333" stroke-width="0.7" />
<rect x="302.20" y="401.79" width="4.80" height="21.29" fill="#a98ff0" stroke="#333" stroke-width="0.6"/>
<line x1="302.20" y1="408.06" x2="307.00" y2="408.06" stroke="#333" stroke-width="0.6" />
<circle cx="304.21" cy="400.12" r="0.75" fill="#111" />
<circle cx="304.59" cy="426.84" r="0.75" fill="#111" />
<circle cx="305.45" cy="404.63" r="0.75" fill="#111" />
<circle cx="304.11" cy="426.09" r="0.75" fill="#111" />
<circle cx="303.76" cy="408.51" r="0.75" fill="#111" />
<circle cx="304.96" cy="406.15" r="0.75" fill="#111" />
<circle cx="303.65" cy="418.30" r="0.75" fill="#111" />
<circle cx="305.53" cy="410.14" r="0.75" fill="#111" />
<circle cx="304.01" cy="421.94" r="0.75" fill="#111" />
<circle cx="305.65" cy="408.37" r="0.75" fill="#111" />
<circle cx="304.69" cy="410.26" r="0.75" fill="#111" />
<circle cx="303.70" cy="407.02" r="0.75" fill="#111" />
<line x1="312.00" y1="388.01" x2="312.00" y2="442.71" stroke="#444" stroke-width="0.6" />
<line x1="310.70" y1="388.01" x2="313.30" y2="388.01" stroke="#333" stroke-width="0.7" />
<line x1="310.70" y1="442.71" x2="313.30" y2="442.71" stroke="#333" stroke-width="0.7" />
<rect x="309.60" y="411.98" width="4.80" height="26.14" fill="#a98ff0" stroke="#333" stroke-width="0.6"/>
<line x1="309.60" y1="435.61" x2="314.40" y2="435.61" stroke="#333" stroke-width="0.6" />
<circle cx="312.92" cy="388.01" r="0.75" fill="#111" />
<circle cx="312.14" cy="442.71" r="0.75" fill="#111" />
<circle cx="311.62" cy="405.38" r="0.75" fill="#111" />
<circle cx="312.83" cy="421.52" r="0.75" fill="#111" />
<circle cx="313.30" cy="413.05" r="0.75" fill="#111" />
<circle cx="311.82" cy="417.27" r="0.75" fill="#111" />
<circle cx="310.74" cy="424.86" r="0.75" fill="#111" />
<circle cx="311.49" cy="434.67" r="0.75" fill="#111" />
<circle cx="313.04" cy="393.25" r="0.75" fill="#111" />
<circle cx="311.15" cy="427.59" r="0.75" fill="#111" />
<circle cx="311.22" cy="422.30" r="0.75" fill="#111" />
<circle cx="312.76" cy="428.93" r="0.75" fill="#111" />
<line x1="319.40" y1="408.06" x2="319.40" y2="447.30" stroke="#444" stroke-width="0.6" />
<line x1="318.10" y1="408.06" x2="320.70" y2="408.06" stroke="#333" stroke-width="0.7" />
<line x1="318.10" y1="447.30" x2="320.70" y2="447.30" stroke="#333" stroke-width="0.7" />
<rect x="317.00" y="412.65" width="4.80" height="34.65" fill="#a98ff0" stroke="#333" stroke-width="0.6"/>
<line x1="317.00" y1="443.12" x2="321.80" y2="443.12" stroke="#333" stroke-width="0.6" />
<circle cx="318.44" cy="408.06" r="0.75" fill="#111" />
<circle cx="320.34" cy="447.30" r="0.75" fill="#111" />
<circle cx="319.73" cy="417.86" r="0.75" fill="#111" />
<circle cx="320.26" cy="433.86" r="0.75" fill="#111" />
<circle cx="318.31" cy="442.90" r="0.75" fill="#111" />
<circle cx="320.04" cy="430.09" r="0.75" fill="#111" />
<circle cx="318.34" cy="417.31" r="0.75" fill="#111" />
<circle cx="319.55" cy="418.80" r="0.75" fill="#111" />
<circle cx="318.70" cy="437.81" r="0.75" fill="#111" />
<circle cx="320.44" cy="439.23" r="0.75" fill="#111" />
<circle cx="318.38" cy="417.79" r="0.75" fill="#111" />
<circle cx="319.33" cy="428.83" r="0.75" fill="#111" />
<line x1="326.80" y1="389.69" x2="326.80" y2="447.30" stroke="#444" stroke-width="0.6" />
<line x1="325.50" y1="389.69" x2="328.10" y2="389.69" stroke="#333" stroke-width="0.7" />
<line x1="325.50" y1="447.30" x2="328.10" y2="447.30" stroke="#333" stroke-width="0.7" />
<rect x="324.40" y="420.83" width="4.80" height="24.80" fill="#a98ff0" stroke="#333" stroke-width="0.6"/>
<line x1="324.40" y1="432.69" x2="329.20" y2="432.69" stroke="#333" stroke-width="0.6" />
<circle cx="326.83" cy="389.69" r="0.75" fill="#111" />
<circle cx="327.53" cy="447.30" r="0.75" fill="#111" />
<circle cx="327.91" cy="436.06" r="0.75" fill="#111" />
<circle cx="327.88" cy="429.11" r="0.75" fill="#111" />
<circle cx="326.61" cy="426.50" r="0.75" fill="#111" />
<circle cx="325.96" cy="427.78" r="0.75" fill="#111" />
<circle cx="328.01" cy="434.35" r="0.75" fill="#111" />
<circle cx="326.60" cy="402.39" r="0.75" fill="#111" />
<circle cx="326.39" cy="445.02" r="0.75" fill="#111" />
<circle cx="327.64" cy="445.26" r="0.75" fill="#111" />
<circle cx="326.95" cy="436.30" r="0.75" fill="#111" />
<circle cx="327.98" cy="443.05" r="0.75" fill="#111" />
<line x1="334.20" y1="438.12" x2="334.20" y2="447.30" stroke="#444" stroke-width="0.6" />
<line x1="332.90" y1="438.12" x2="335.50" y2="438.12" stroke="#333" stroke-width="0.7" />
<line x1="332.90" y1="447.30" x2="335.50" y2="447.30" stroke="#333" stroke-width="0.7" />
<rect x="331.80" y="443.96" width="4.80" height="3.34" fill="#a98ff0" stroke="#333" stroke-width="0.6"/>
<line x1="331.80" y1="445.63" x2="336.60" y2="445.63" stroke="#333" stroke-width="0.6" />
<circle cx="334.61" cy="438.12" r="0.75" fill="#111" />
<circle cx="333.71" cy="447.30" r="0.75" fill="#111" />
<circle cx="335.24" cy="438.61" r="0.75" fill="#111" />
<circle cx="334.35" cy="444.15" r="0.75" fill="#111" />
<circle cx="333.47" cy="440.90" r="0.75" fill="#111" />
<circle cx="335.41" cy="446.48" r="0.75" fill="#111" />
<circle cx="333.50" cy="446.73" r="0.75" fill="#111" />
<circle cx="335.00" cy="446.20" r="0.75" fill="#111" />
<circle cx="335.02" cy="445.18" r="0.75" fill="#111" />
<circle cx="332.91" cy="446.59" r="0.75" fill="#111" />
<circle cx="335.10" cy="446.52" r="0.75" fill="#111" />
<circle cx="333.99" cy="444.83" r="0.75" fill="#111" />
<line x1="341.60" y1="442.29" x2="341.60" y2="447.30" stroke="#444" stroke-width="0.6" />
<line x1="340.30" y1="442.29" x2="342.90" y2="442.29" stroke="#333" stroke-width="0.7" />
<line x1="340.30" y1="447.30" x2="342.90" y2="447.30" stroke="#333" stroke-width="0.7" />
<rect x="339.20" y="443.96" width="4.80" height="3.34" fill="#a98ff0" stroke="#333" stroke-width="0.6"/>
<line x1="339.20" y1="446.47" x2="344.00" y2="446.47" stroke="#333" stroke-width="0.6" />
<circle cx="341.40" cy="442.29" r="0.75" fill="#111" />
<circle cx="341.06" cy="447.30" r="0.75" fill="#111" />
<circle cx="341.14" cy="442.56" r="0.75" fill="#111" />
<circle cx="341.70" cy="446.49" r="0.75" fill="#111" />
<circle cx="342.38" cy="444.34" r="0.75" fill="#111" />
<circle cx="340.34" cy="444.92" r="0.75" fill="#111" />
<circle cx="341.19" cy="442.39" r="0.75" fill="#111" />
<circle cx="340.94" cy="442.61" r="0.75" fill="#111" />
<circle cx="342.79" cy="442.74" r="0.75" fill="#111" />
<circle cx="341.44" cy="446.89" r="0.75" fill="#111" />
<circle cx="341.46" cy="447.16" r="0.75" fill="#111" />
<circle cx="342.74" cy="445.67" r="0.75" fill="#111" />
<line x1="349.00" y1="446.05" x2="349.00" y2="447.30" stroke="#444" stroke-width="0.6" />
<line x1="347.70" y1="446.05" x2="350.30" y2="446.05" stroke="#333" stroke-width="0.7" />
<line x1="347.70" y1="447.30" x2="350.30" y2="447.30" stroke="#333" stroke-width="0.7" />
<rect x="346.60" y="446.63" width="4.80" height="0.80" fill="#a98ff0" stroke="#333" stroke-width="0.6"/>
<line x1="346.60" y1="447.05" x2="351.40" y2="447.05" stroke="#333" stroke-width="0.6" />
<circle cx="348.71" cy="446.05" r="0.75" fill="#111" />
<circle cx="348.65" cy="447.30" r="0.75" fill="#111" />
<circle cx="347.75" cy="447.04" r="0.75" fill="#111" />
<circle cx="349.60" cy="447.14" r="0.75" fill="#111" />
<circle cx="348.45" cy="446.94" r="0.75" fill="#111" />
<circle cx="348.98" cy="446.58" r="0.75" fill="#111" />
<circle cx="349.59" cy="446.37" r="0.75" fill="#111" />
<circle cx="349.86" cy="446.67" r="0.75" fill="#111" />
<circle cx="350.16" cy="446.13" r="0.75" fill="#111" />
<circle cx="349.43" cy="446.73" r="0.75" fill="#111" />
<circle cx="348.31" cy="446.73" r="0.75" fill="#111" />
<circle cx="350.12" cy="446.80" r="0.75" fill="#111" />
<line x1="356.40" y1="446.80" x2="356.40" y2="447.30" stroke="#444" stroke-width="0.6" />
<line x1="355.10" y1="446.80" x2="357.70" y2="446.80" stroke="#333" stroke-width="0.7" />
<line x1="355.10" y1="447.30" x2="357.70" y2="447.30" stroke="#333" stroke-width="0.7" />
<rect x="354.00" y="447.05" width="4.80" height="0.80" fill="#a98ff0" stroke="#333" stroke-width="0.6"/>
<line x1="354.00" y1="447.22" x2="358.80" y2="447.22" stroke="#333" stroke-width="0.6" />
<circle cx="356.16" cy="446.80" r="0.75" fill="#111" />
<circle cx="357.39" cy="447.30" r="0.75" fill="#111" />
<circle cx="355.97" cy="447.20" r="0.75" fill="#111" />
<circle cx="356.58" cy="446.88" r="0.75" fill="#111" />
<circle cx="357.19" cy="446.86" r="0.75" fill="#111" />
<circle cx="356.71" cy="447.29" r="0.75" fill="#111" />
<circle cx="357.26" cy="447.07" r="0.75" fill="#111" />
<circle cx="355.14" cy="447.22" r="0.75" fill="#111" />
<circle cx="356.51" cy="447.20" r="0.75" fill="#111" />
<circle cx="355.15" cy="447.25" r="0.75" fill="#111" />
<circle cx="357.32" cy="447.05" r="0.75" fill="#111" />
<circle cx="355.17" cy="447.24" r="0.75" fill="#111" />
<line x1="363.80" y1="446.47" x2="363.80" y2="447.30" stroke="#444" stroke-width="0.6" />
<line x1="362.50" y1="446.47" x2="365.10" y2="446.47" stroke="#333" stroke-width="0.7" />
<line x1="362.50" y1="447.30" x2="365.10" y2="447.30" stroke="#333" stroke-width="0.7" />
<rect x="361.40" y="446.88" width="4.80" height="0.80" fill="#a98ff0" stroke="#333" stroke-width="0.6"/>
<line x1="361.40" y1="447.13" x2="366.20" y2="447.13" stroke="#333" stroke-width="0.6" />
<circle cx="363.83" cy="446.47" r="0.75" fill="#111" />
<circle cx="364.54" cy="447.30" r="0.75" fill="#111" />
<circle cx="363.80" cy="447.12" r="0.75" fill="#111" />
<circle cx="363.21" cy="447.29" r="0.75" fill="#111" />
<circle cx="363.74" cy="447.21" r="0.75" fill="#111" />
<circle cx="362.61" cy="447.28" r="0.75" fill="#111" />
<circle cx="364.25" cy="446.61" r="0.75" fill="#111" />
<circle cx="363.37" cy="447.03" r="0.75" fill="#111" />
<circle cx="362.97" cy="446.90" r="0.75" fill="#111" />
<circle cx="364.56" cy="446.49" r="0.75" fill="#111" />
<circle cx="363.87" cy="446.93" r="0.75" fill="#111" />
<circle cx="363.32" cy="446.64" r="0.75" fill="#111" />
<line x1="371.20" y1="446.63" x2="371.20" y2="447.30" stroke="#444" stroke-width="0.6" />
<line x1="369.90" y1="446.63" x2="372.50" y2="446.63" stroke="#333" stroke-width="0.7" />
<line x1="369.90" y1="447.30" x2="372.50" y2="447.30" stroke="#333" stroke-width="0.7" />
<rect x="368.80" y="446.88" width="4.80" height="0.80" fill="#a98ff0" stroke="#333" stroke-width="0.6"/>
<line x1="368.80" y1="447.13" x2="373.60" y2="447.13" stroke="#333" stroke-width="0.6" />
<circle cx="370.93" cy="446.63" r="0.75" fill="#111" />
<circle cx="370.22" cy="447.30" r="0.75" fill="#111" />
<circle cx="372.01" cy="446.67" r="0.75" fill="#111" />
<circle cx="371.30" cy="447.07" r="0.75" fill="#111" />
<circle cx="370.88" cy="447.15" r="0.75" fill="#111" />
<circle cx="372.11" cy="446.96" r="0.75" fill="#111" />
<circle cx="370.68" cy="447.28" r="0.75" fill="#111" />
<circle cx="372.17" cy="447.27" r="0.75" fill="#111" />
<circle cx="371.77" cy="446.98" r="0.75" fill="#111" />
<circle cx="371.53" cy="446.79" r="0.75" fill="#111" />
<circle cx="371.45" cy="447.05" r="0.75" fill="#111" />
<circle cx="371.55" cy="447.25" r="0.75" fill="#111" />
<line x1="378.60" y1="446.97" x2="378.60" y2="447.30" stroke="#444" stroke-width="0.6" />
<line x1="377.30" y1="446.97" x2="379.90" y2="446.97" stroke="#333" stroke-width="0.7" />
<line x1="377.30" y1="447.30" x2="379.90" y2="447.30" stroke="#333" stroke-width="0.7" />
<rect x="376.20" y="447.13" width="4.80" height="0.80" fill="#a98ff0" stroke="#333" stroke-width="0.6"/>
<line x1="376.20" y1="447.22" x2="381.00" y2="447.22" stroke="#333" stroke-width="0.6" />
<circle cx="378.49" cy="446.97" r="0.75" fill="#111" />
<circle cx="379.26" cy="447.30" r="0.75" fill="#111" />
<circle cx="378.03" cy="446.97" r="0.75" fill="#111" />
<circle cx="378.06" cy="446.98" r="0.75" fill="#111" />
<circle cx="378.06" cy="447.15" r="0.75" fill="#111" />
<circle cx="378.73" cy="447.09" r="0.75" fill="#111" />
<circle cx="377.64" cy="447.15" r="0.75" fill="#111" />
<circle cx="378.76" cy="447.24" r="0.75" fill="#111" />
<circle cx="379.43" cy="447.27" r="0.75" fill="#111" />
<circle cx="379.09" cy="447.22" r="0.75" fill="#111" />
<circle cx="377.97" cy="447.23" r="0.75" fill="#111" />
<circle cx="378.55" cy="447.22" r="0.75" fill="#111" />
<line x1="386.00" y1="446.97" x2="386.00" y2="447.30" stroke="#444" stroke-width="0.6" />
<line x1="384.70" y1="446.97" x2="387.30" y2="446.97" stroke="#333" stroke-width="0.7" />
<line x1="384.70" y1="447.30" x2="387.30" y2="447.30" stroke="#333" stroke-width="0.7" />
<rect x="383.60" y="447.13" width="4.80" height="0.80" fill="#a98ff0" stroke="#333" stroke-width="0.6"/>
<line x1="383.60" y1="447.22" x2="388.40" y2="447.22" stroke="#333" stroke-width="0.6" />
<circle cx="385.42" cy="446.97" r="0.75" fill="#111" />
<circle cx="385.77" cy="447.30" r="0.75" fill="#111" />
<circle cx="386.84" cy="447.22" r="0.75" fill="#111" />
<circle cx="384.97" cy="447.30" r="0.75" fill="#111" />
<circle cx="386.12" cy="446.99" r="0.75" fill="#111" />
<circle cx="385.94" cy="447.25" r="0.75" fill="#111" />
<circle cx="384.99" cy="447.25" r="0.75" fill="#111" />
<circle cx="385.78" cy="447.20" r="0.75" fill="#111" />
<circle cx="385.14" cy="447.24" r="0.75" fill="#111" />
<circle cx="385.75" cy="447.22" r="0.75" fill="#111" />
<circle cx="384.78" cy="447.23" r="0.75" fill="#111" />
<circle cx="386.17" cy="447.12" r="0.75" fill="#111" />
<line x1="393.40" y1="447.05" x2="393.40" y2="447.30" stroke="#444" stroke-width="0.6" />
<line x1="392.10" y1="447.05" x2="394.70" y2="447.05" stroke="#333" stroke-width="0.7" />
<line x1="392.10" y1="447.30" x2="394.70" y2="447.30" stroke="#333" stroke-width="0.7" />
<rect x="391.00" y="447.13" width="4.80" height="0.80" fill="#a98ff0" stroke="#333" stroke-width="0.6"/>
<line x1="391.00" y1="447.22" x2="395.80" y2="447.22" stroke="#333" stroke-width="0.6" />
<circle cx="392.82" cy="447.05" r="0.75" fill="#111" />
<circle cx="394.53" cy="447.30" r="0.75" fill="#111" />
<circle cx="392.20" cy="447.08" r="0.75" fill="#111" />
<circle cx="393.34" cy="447.24" r="0.75" fill="#111" />
<circle cx="392.44" cy="447.21" r="0.75" fill="#111" />
<circle cx="392.38" cy="447.18" r="0.75" fill="#111" />
<circle cx="392.67" cy="447.20" r="0.75" fill="#111" />
<circle cx="394.56" cy="447.18" r="0.75" fill="#111" />
<circle cx="392.16" cy="447.25" r="0.75" fill="#111" />
<circle cx="393.97" cy="447.25" r="0.75" fill="#111" />
<circle cx="393.60" cy="447.24" r="0.75" fill="#111" />
<circle cx="394.27" cy="447.16" r="0.75" fill="#111" />
<text x="70.65" y="491.90" font-size="9.0" textLength="98.90" lengthAdjust="spacingAndGlyphs">ABE9 normalized editing</text>
<text x="64.95" y="502.10" font-size="9.0" textLength="110.80" lengthAdjust="spacingAndGlyphs">activity by target A position</text>
<text x="77.85" y="512.30" font-size="9.0" textLength="88.00" lengthAdjust="spacingAndGlyphs">(12 endogenous sites)</text>
<text x="7.00" y="558.80" font-size="9.0" text-anchor="middle" textLength="77.80" lengthAdjust="spacingAndGlyphs" transform="rotate(-90 7.00 558.80)">Relative A•T to G•C</text>
<text x="16.45" y="559.30" font-size="9.0" text-anchor="middle" textLength="68.00" lengthAdjust="spacingAndGlyphs" transform="rotate(-90 16.45 559.30)">editing efficiency</text>
<line x1="42.20" y1="508.20" x2="42.20" y2="609.20" stroke="#555" stroke-width="0.9" />
<line x1="38.70" y1="608.80" x2="42.20" y2="608.80" stroke="#555" stroke-width="0.8" />
<text x="36.10" y="611.55" font-size="7.8" text-anchor="end" textLength="4.45" lengthAdjust="spacingAndGlyphs">0</text>
<line x1="40.20" y1="600.45" x2="42.20" y2="600.45" stroke="#555" stroke-width="0.8" />
<line x1="38.70" y1="592.10" x2="42.20" y2="592.10" stroke="#555" stroke-width="0.8" />
<text x="36.10" y="594.85" font-size="7.8" text-anchor="end" textLength="8.90" lengthAdjust="spacingAndGlyphs">20</text>
<line x1="40.20" y1="583.75" x2="42.20" y2="583.75" stroke="#555" stroke-width="0.8" />
<line x1="38.70" y1="575.40" x2="42.20" y2="575.40" stroke="#555" stroke-width="0.8" />
<text x="36.10" y="578.15" font-size="7.8" text-anchor="end" textLength="8.90" lengthAdjust="spacingAndGlyphs">40</text>
<line x1="40.20" y1="567.05" x2="42.20" y2="567.05" stroke="#555" stroke-width="0.8" />
<line x1="38.70" y1="558.70" x2="42.20" y2="558.70" stroke="#555" stroke-width="0.8" />
<text x="36.10" y="561.45" font-size="7.8" text-anchor="end" textLength="8.90" lengthAdjust="spacingAndGlyphs">60</text>
<line x1="40.20" y1="550.35" x2="42.20" y2="550.35" stroke="#555" stroke-width="0.8" />
<line x1="38.70" y1="542.00" x2="42.20" y2="542.00" stroke="#555" stroke-width="0.8" />
<text x="36.10" y="544.75" font-size="7.8" text-anchor="end" textLength="8.90" lengthAdjust="spacingAndGlyphs">80</text>
<line x1="40.20" y1="533.65" x2="42.20" y2="533.65" stroke="#555" stroke-width="0.8" />
<line x1="38.70" y1="525.30" x2="42.20" y2="525.30" stroke="#555" stroke-width="0.8" />
<text x="36.10" y="528.05" font-size="7.8" text-anchor="end" textLength="12.20" lengthAdjust="spacingAndGlyphs">100</text>
<line x1="40.20" y1="516.95" x2="42.20" y2="516.95" stroke="#555" stroke-width="0.8" />
<line x1="38.70" y1="508.60" x2="42.20" y2="508.60" stroke="#555" stroke-width="0.8" />
<text x="36.10" y="511.35" font-size="7.8" text-anchor="end" textLength="12.20" lengthAdjust="spacingAndGlyphs">120</text>
<line x1="42.20" y1="608.80" x2="192.50" y2="608.80" stroke="#555" stroke-width="0.9" />
<line x1="47.50" y1="608.80" x2="47.50" y2="612.10" stroke="#555" stroke-width="0.7" />
<text x="50.30" y="618.70" font-size="7.5" text-anchor="end" textLength="3.20" lengthAdjust="spacingAndGlyphs" transform="rotate(-45 50.30 618.70)">1</text>
<line x1="54.85" y1="608.80" x2="54.85" y2="612.10" stroke="#555" stroke-width="0.7" />
<text x="57.65" y="618.70" font-size="7.5" text-anchor="end" textLength="4.40" lengthAdjust="spacingAndGlyphs" transform="rotate(-45 57.65 618.70)">2</text>
<line x1="62.20" y1="608.80" x2="62.20" y2="612.10" stroke="#555" stroke-width="0.7" />
<text x="65.00" y="618.70" font-size="7.5" text-anchor="end" textLength="4.40" lengthAdjust="spacingAndGlyphs" transform="rotate(-45 65.00 618.70)">3</text>
<line x1="69.55" y1="608.80" x2="69.55" y2="612.10" stroke="#555" stroke-width="0.7" />
<text x="72.35" y="618.70" font-size="7.5" text-anchor="end" textLength="4.40" lengthAdjust="spacingAndGlyphs" transform="rotate(-45 72.35 618.70)">4</text>
<line x1="76.90" y1="608.80" x2="76.90" y2="612.10" stroke="#555" stroke-width="0.7" />
<text x="79.70" y="618.70" font-size="7.5" text-anchor="end" textLength="4.40" lengthAdjust="spacingAndGlyphs" transform="rotate(-45 79.70 618.70)">5</text>
<line x1="84.25" y1="608.80" x2="84.25" y2="612.10" stroke="#555" stroke-width="0.7" />
<text x="87.05" y="618.70" font-size="7.5" text-anchor="end" textLength="4.40" lengthAdjust="spacingAndGlyphs" transform="rotate(-45 87.05 618.70)">6</text>
<line x1="91.60" y1="608.80" x2="91.60" y2="612.10" stroke="#555" stroke-width="0.7" />
<text x="94.40" y="618.70" font-size="7.5" text-anchor="end" textLength="4.40" lengthAdjust="spacingAndGlyphs" transform="rotate(-45 94.40 618.70)">7</text>
<line x1="98.95" y1="608.80" x2="98.95" y2="612.10" stroke="#555" stroke-width="0.7" />
<text x="101.75" y="618.70" font-size="7.5" text-anchor="end" textLength="4.40" lengthAdjust="spacingAndGlyphs" transform="rotate(-45 101.75 618.70)">8</text>
<line x1="106.30" y1="608.80" x2="106.30" y2="612.10" stroke="#555" stroke-width="0.7" />
<text x="109.10" y="618.70" font-size="7.5" text-anchor="end" textLength="4.40" lengthAdjust="spacingAndGlyphs" transform="rotate(-45 109.10 618.70)">9</text>
<line x1="113.65" y1="608.80" x2="113.65" y2="612.10" stroke="#555" stroke-width="0.7" />
<text x="116.45" y="618.70" font-size="7.5" text-anchor="end" textLength="7.60" lengthAdjust="spacingAndGlyphs" transform="rotate(-45 116.45 618.70)">10</text>
<line x1="121.00" y1="608.80" x2="121.00" y2="612.10" stroke="#555" stroke-width="0.7" />
<text x="123.80" y="618.70" font-size="7.5" text-anchor="end" textLength="6.40" lengthAdjust="spacingAndGlyphs" transform="rotate(-45 123.80 618.70)">11</text>
<line x1="128.35" y1="608.80" x2="128.35" y2="612.10" stroke="#555" stroke-width="0.7" />
<text x="131.15" y="618.70" font-size="7.5" text-anchor="end" textLength="7.60" lengthAdjust="spacingAndGlyphs" transform="rotate(-45 131.15 618.70)">12</text>
<line x1="135.70" y1="608.80" x2="135.70" y2="612.10" stroke="#555" stroke-width="0.7" />
<text x="138.50" y="618.70" font-size="7.5" text-anchor="end" textLength="7.60" lengthAdjust="spacingAndGlyphs" transform="rotate(-45 138.50 618.70)">13</text>
<line x1="143.05" y1="608.80" x2="143.05" y2="612.10" stroke="#555" stroke-width="0.7" />
<text x="145.85" y="618.70" font-size="7.5" text-anchor="end" textLength="7.60" lengthAdjust="spacingAndGlyphs" transform="rotate(-45 145.85 618.70)">14</text>
<line x1="150.40" y1="608.80" x2="150.40" y2="612.10" stroke="#555" stroke-width="0.7" />
<text x="153.20" y="618.70" font-size="7.5" text-anchor="end" textLength="7.60" lengthAdjust="spacingAndGlyphs" transform="rotate(-45 153.20 618.70)">15</text>
<line x1="157.75" y1="608.80" x2="157.75" y2="612.10" stroke="#555" stroke-width="0.7" />
<text x="160.55" y="618.70" font-size="7.5" text-anchor="end" textLength="7.60" lengthAdjust="spacingAndGlyphs" transform="rotate(-45 160.55 618.70)">16</text>
<line x1="165.10" y1="608.80" x2="165.10" y2="612.10" stroke="#555" stroke-width="0.7" />
<text x="167.90" y="618.70" font-size="7.5" text-anchor="end" textLength="7.60" lengthAdjust="spacingAndGlyphs" transform="rotate(-45 167.90 618.70)">17</text>
<line x1="172.45" y1="608.80" x2="172.45" y2="612.10" stroke="#555" stroke-width="0.7" />
<text x="175.25" y="618.70" font-size="7.5" text-anchor="end" textLength="7.60" lengthAdjust="spacingAndGlyphs" transform="rotate(-45 175.25 618.70)">18</text>
<line x1="179.80" y1="608.80" x2="179.80" y2="612.10" stroke="#555" stroke-width="0.7" />
<text x="182.60" y="618.70" font-size="7.5" text-anchor="end" textLength="7.60" lengthAdjust="spacingAndGlyphs" transform="rotate(-45 182.60 618.70)">19</text>
<line x1="187.15" y1="608.80" x2="187.15" y2="612.10" stroke="#555" stroke-width="0.7" />
<text x="189.95" y="618.70" font-size="7.5" text-anchor="end" textLength="8.80" lengthAdjust="spacingAndGlyphs" transform="rotate(-45 189.95 618.70)">20</text>
<text x="84.85" y="635.00" font-size="9.0" textLength="68.40" lengthAdjust="spacingAndGlyphs">Target A position</text>
<line x1="42.70" y1="596.50" x2="192.00" y2="596.50" stroke="#333" stroke-width="1.0" stroke-dasharray="2.6 2.0"/>
<line x1="47.50" y1="607.96" x2="47.50" y2="608.80" stroke="#444" stroke-width="0.6" />
<line x1="46.20" y1="607.96" x2="48.80" y2="607.96" stroke="#333" stroke-width="0.7" />
<line x1="46.20" y1="608.80" x2="48.80" y2="608.80" stroke="#333" stroke-width="0.7" />
<rect x="45.10" y="608.13" width="4.80" height="0.80" fill="#5a3cf5" stroke="#333" stroke-width="0.6"/>
<line x1="45.10" y1="608.55" x2="49.90" y2="608.55" stroke="#333" stroke-width="0.6" />
<circle cx="48.60" cy="607.96" r="0.75" fill="#111" />
<circle cx="47.53" cy="608.80" r="0.75" fill="#111" />
<circle cx="46.80" cy="608.79" r="0.75" fill="#111" />
<circle cx="47.38" cy="608.67" r="0.75" fill="#111" />
<circle cx="47.29" cy="608.79" r="0.75" fill="#111" />
<circle cx="46.41" cy="608.23" r="0.75" fill="#111" />
<circle cx="47.67" cy="607.97" r="0.75" fill="#111" />
<circle cx="47.14" cy="608.57" r="0.75" fill="#111" />
<circle cx="47.68" cy="608.57" r="0.75" fill="#111" />
<circle cx="48.62" cy="608.65" r="0.75" fill="#111" />
<circle cx="47.88" cy="608.07" r="0.75" fill="#111" />
<circle cx="47.25" cy="608.61" r="0.75" fill="#111" />
<line x1="54.85" y1="608.13" x2="54.85" y2="608.80" stroke="#444" stroke-width="0.6" />
<line x1="53.55" y1="608.13" x2="56.15" y2="608.13" stroke="#333" stroke-width="0.7" />
<line x1="53.55" y1="608.80" x2="56.15" y2="608.80" stroke="#333" stroke-width="0.7" />
<rect x="52.45" y="608.55" width="4.80" height="0.80" fill="#5a3cf5" stroke="#333" stroke-width="0.6"/>
<line x1="52.45" y1="608.72" x2="57.25" y2="608.72" stroke="#333" stroke-width="0.6" />
<circle cx="54.86" cy="608.13" r="0.75" fill="#111" />
<circle cx="54.02" cy="608.80" r="0.75" fill="#111" />
<circle cx="56.02" cy="608.14" r="0.75" fill="#111" />
<circle cx="54.47" cy="608.56" r="0.75" fill="#111" />
<circle cx="54.16" cy="608.76" r="0.75" fill="#111" />
<circle cx="54.36" cy="608.57" r="0.75" fill="#111" />
<circle cx="55.69" cy="608.32" r="0.75" fill="#111" />
<circle cx="54.38" cy="608.68" r="0.75" fill="#111" />
<circle cx="55.90" cy="608.73" r="0.75" fill="#111" />
<circle cx="54.42" cy="608.79" r="0.75" fill="#111" />
<circle cx="54.70" cy="608.59" r="0.75" fill="#111" />
<circle cx="53.74" cy="608.53" r="0.75" fill="#111" />
<line x1="62.20" y1="607.55" x2="62.20" y2="608.80" stroke="#444" stroke-width="0.6" />
<line x1="60.90" y1="607.55" x2="63.50" y2="607.55" stroke="#333" stroke-width="0.7" />
<line x1="60.90" y1="608.80" x2="63.50" y2="608.80" stroke="#333" stroke-width="0.7" />
<rect x="59.80" y="607.96" width="4.80" height="0.84" fill="#5a3cf5" stroke="#333" stroke-width="0.6"/>
<line x1="59.80" y1="608.47" x2="64.60" y2="608.47" stroke="#333" stroke-width="0.6" />
<circle cx="62.38" cy="607.55" r="0.75" fill="#111" />
<circle cx="62.10" cy="608.80" r="0.75" fill="#111" />
<circle cx="62.92" cy="607.80" r="0.75" fill="#111" />
<circle cx="62.44" cy="608.70" r="0.75" fill="#111" />
<circle cx="62.70" cy="608.49" r="0.75" fill="#111" />
<circle cx="61.56" cy="607.64" r="0.75" fill="#111" />
<circle cx="61.12" cy="608.44" r="0.75" fill="#111" />
<circle cx="60.92" cy="608.05" r="0.75" fill="#111" />
<circle cx="61.77" cy="608.60" r="0.75" fill="#111" />
<circle cx="62.59" cy="608.40" r="0.75" fill="#111" />
<circle cx="61.89" cy="608.75" r="0.75" fill="#111" />
<circle cx="61.80" cy="608.10" r="0.75" fill="#111" />
<line x1="69.55" y1="567.05" x2="69.55" y2="608.80" stroke="#444" stroke-width="0.6" />
<line x1="68.25" y1="567.05" x2="70.85" y2="567.05" stroke="#333" stroke-width="0.7" />
<line x1="68.25" y1="608.80" x2="70.85" y2="608.80" stroke="#333" stroke-width="0.7" />
<rect x="67.15" y="588.76" width="4.80" height="19.46" fill="#5a3cf5" stroke="#333" stroke-width="0.6"/>
<line x1="67.15" y1="604.62" x2="71.95" y2="604.62" stroke="#333" stroke-width="0.6" />
<circle cx="69.08" cy="567.05" r="0.75" fill="#111" />
<circle cx="69.82" cy="608.80" r="0.75" fill="#111" />
<circle cx="70.08" cy="579.36" r="0.75" fill="#111" />
<circle cx="69.13" cy="595.78" r="0.75" fill="#111" />
<circle cx="68.40" cy="575.37" r="0.75" fill="#111" />
<circle cx="68.70" cy="571.53" r="0.75" fill="#111" />
<circle cx="70.49" cy="595.20" r="0.75" fill="#111" />
<circle cx="70.15" cy="600.66" r="0.75" fill="#111" />
<circle cx="68.53" cy="602.79" r="0.75" fill="#111" />
<circle cx="70.42" cy="589.03" r="0.75" fill="#111" />
<circle cx="69.75" cy="590.45" r="0.75" fill="#111" />
<circle cx="69.12" cy="595.66" r="0.75" fill="#111" />
<line x1="76.90" y1="538.66" x2="76.90" y2="603.21" stroke="#444" stroke-width="0.6" />
<line x1="75.60" y1="538.66" x2="78.20" y2="538.66" stroke="#333" stroke-width="0.7" />
<line x1="75.60" y1="603.21" x2="78.20" y2="603.21" stroke="#333" stroke-width="0.7" />
<rect x="74.50" y="546.17" width="4.80" height="51.77" fill="#5a3cf5" stroke="#333" stroke-width="0.6"/>
<line x1="74.50" y1="574.56" x2="79.30" y2="574.56" stroke="#333" stroke-width="0.6" />
<circle cx="76.21" cy="538.66" r="0.75" fill="#111" />
<circle cx="77.05" cy="603.21" r="0.75" fill="#111" />
<circle cx="76.95" cy="594.89" r="0.75" fill="#111" />
<circle cx="75.90" cy="580.16" r="0.75" fill="#111" />
<circle cx="76.98" cy="567.85" r="0.75" fill="#111" />
<circle cx="76.81" cy="551.00" r="0.75" fill="#111" />
<circle cx="76.01" cy="557.14" r="0.75" fill="#111" />
<circle cx="77.44" cy="557.41" r="0.75" fill="#111" />
<circle cx="77.62" cy="564.00" r="0.75" fill="#111" />
<circle cx="76.48" cy="560.88" r="0.75" fill="#111" />
<circle cx="77.85" cy="567.70" r="0.75" fill="#111" />
<circle cx="78.17" cy="579.40" r="0.75" fill="#111" />
<line x1="84.25" y1="573.31" x2="84.25" y2="607.13" stroke="#444" stroke-width="0.6" />
<line x1="82.95" y1="573.31" x2="85.55" y2="573.31" stroke="#333" stroke-width="0.7" />
<line x1="82.95" y1="607.13" x2="85.55" y2="607.13" stroke="#333" stroke-width="0.7" />
<rect x="81.85" y="579.99" width="4.80" height="21.63" fill="#5a3cf5" stroke="#333" stroke-width="0.6"/>
<line x1="81.85" y1="591.26" x2="86.65" y2="591.26" stroke="#333" stroke-width="0.6" />
<circle cx="85.20" cy="573.31" r="0.75" fill="#111" />
<circle cx="83.09" cy="607.13" r="0.75" fill="#111" />
<circle cx="84.04" cy="593.34" r="0.75" fill="#111" />
<circle cx="84.04" cy="598.81" r="0.75" fill="#111" />
<circle cx="85.23" cy="580.02" r="0.75" fill="#111" />
<circle cx="83.92" cy="581.80" r="0.75" fill="#111" />
<circle cx="84.43" cy="580.62" r="0.75" fill="#111" />
<circle cx="84.25" cy="587.65" r="0.75" fill="#111" />
<circle cx="84.19" cy="586.98" r="0.75" fill="#111" />
<circle cx="84.18" cy="582.73" r="0.75" fill="#111" />
<circle cx="84.17" cy="577.22" r="0.75" fill="#111" />
<circle cx="84.50" cy="598.22" r="0.75" fill="#111" />
<line x1="91.60" y1="574.56" x2="91.60" y2="608.80" stroke="#444" stroke-width="0.6" />
<line x1="90.30" y1="574.56" x2="92.90" y2="574.56" stroke="#333" stroke-width="0.7" />
<line x1="90.30" y1="608.80" x2="92.90" y2="608.80" stroke="#333" stroke-width="0.7" />
<rect x="89.20" y="605.46" width="4.80" height="3.34" fill="#5a3cf5" stroke="#333" stroke-width="0.6"/>
<line x1="89.20" y1="607.13" x2="94.00" y2="607.13" stroke="#333" stroke-width="0.6" />
<circle cx="91.35" cy="574.56" r="0.75" fill="#111" />
<circle cx="91.95" cy="608.80" r="0.75" fill="#111" />
<circle cx="92.27" cy="607.39" r="0.75" fill="#111" />
<circle cx="90.73" cy="575.37" r="0.75" fill="#111" />
<circle cx="92.78" cy="605.64" r="0.75" fill="#111" />
<circle cx="91.47" cy="607.69" r="0.75" fill="#111" />
<circle cx="91.55" cy="603.01" r="0.75" fill="#111" />
<circle cx="92.83" cy="574.77" r="0.75" fill="#111" />
<circle cx="91.78" cy="593.07" r="0.75" fill="#111" />
<circle cx="91.65" cy="607.29" r="0.75" fill="#111" />
<circle cx="90.86" cy="606.17" r="0.75" fill="#111" />
<circle cx="90.87" cy="606.11" r="0.75" fill="#111" />
<line x1="98.95" y1="607.55" x2="98.95" y2="608.80" stroke="#444" stroke-width="0.6" />
<line x1="97.65" y1="607.55" x2="100.25" y2="607.55" stroke="#333" stroke-width="0.7" />
<line x1="97.65" y1="608.80" x2="100.25" y2="608.80" stroke="#333" stroke-width="0.7" />
<rect x="96.55" y="607.80" width="4.80" height="1.00" fill="#5a3cf5" stroke="#333" stroke-width="0.6"/>
<line x1="96.55" y1="608.38" x2="101.35" y2="608.38" stroke="#333" stroke-width="0.6" />
<circle cx="98.04" cy="607.55" r="0.75" fill="#111" />
<circle cx="100.12" cy="608.80" r="0.75" fill="#111" />
<circle cx="100.24" cy="608.17" r="0.75" fill="#111" />
<circle cx="99.35" cy="607.93" r="0.75" fill="#111" />
<circle cx="99.71" cy="608.39" r="0.75" fill="#111" />
<circle cx="98.68" cy="608.24" r="0.75" fill="#111" />
<circle cx="98.76" cy="607.93" r="0.75" fill="#111" />
<circle cx="99.25" cy="608.65" r="0.75" fill="#111" />
<circle cx="99.77" cy="607.94" r="0.75" fill="#111" />
<circle cx="99.47" cy="608.22" r="0.75" fill="#111" />
<circle cx="98.87" cy="608.61" r="0.75" fill="#111" />
<circle cx="99.28" cy="608.50" r="0.75" fill="#111" />
<line x1="106.30" y1="607.96" x2="106.30" y2="608.80" stroke="#444" stroke-width="0.6" />
<line x1="105.00" y1="607.96" x2="107.60" y2="607.96" stroke="#333" stroke-width="0.7" />
<line x1="105.00" y1="608.80" x2="107.60" y2="608.80" stroke="#333" stroke-width="0.7" />
<rect x="103.90" y="608.30" width="4.80" height="0.80" fill="#5a3cf5" stroke="#333" stroke-width="0.6"/>
<line x1="103.90" y1="608.63" x2="108.70" y2="608.63" stroke="#333" stroke-width="0.6" />
<circle cx="105.65" cy="607.96" r="0.75" fill="#111" />
<circle cx="106.28" cy="608.80" r="0.75" fill="#111" />
<circle cx="105.48" cy="608.39" r="0.75" fill="#111" />
<circle cx="105.61" cy="608.15" r="0.75" fill="#111" />
<circle cx="107.09" cy="608.61" r="0.75" fill="#111" />
<circle cx="107.43" cy="608.48" r="0.75" fill="#111" />
<circle cx="105.42" cy="608.72" r="0.75" fill="#111" />
<circle cx="106.35" cy="608.69" r="0.75" fill="#111" />
<circle cx="106.71" cy="608.61" r="0.75" fill="#111" />
<circle cx="107.47" cy="608.74" r="0.75" fill="#111" />
<circle cx="106.45" cy="608.21" r="0.75" fill="#111" />
<circle cx="106.38" cy="608.68" r="0.75" fill="#111" />
<line x1="113.65" y1="608.13" x2="113.65" y2="608.80" stroke="#444" stroke-width="0.6" />
<line x1="112.35" y1="608.13" x2="114.95" y2="608.13" stroke="#333" stroke-width="0.7" />
<line x1="112.35" y1="608.80" x2="114.95" y2="608.80" stroke="#333" stroke-width="0.7" />
<rect x="111.25" y="608.30" width="4.80" height="0.80" fill="#5a3cf5" stroke="#333" stroke-width="0.6"/>
<line x1="111.25" y1="608.63" x2="116.05" y2="608.63" stroke="#333" stroke-width="0.6" />
<circle cx="114.66" cy="608.13" r="0.75" fill="#111" />
<circle cx="114.54" cy="608.80" r="0.75" fill="#111" />
<circle cx="114.00" cy="608.27" r="0.75" fill="#111" />
<circle cx="113.43" cy="608.38" r="0.75" fill="#111" />
<circle cx="112.52" cy="608.77" r="0.75" fill="#111" />
<circle cx="114.74" cy="608.65" r="0.75" fill="#111" />
<circle cx="113.48" cy="608.60" r="0.75" fill="#111" />
<circle cx="112.67" cy="608.41" r="0.75" fill="#111" />
<circle cx="113.97" cy="608.59" r="0.75" fill="#111" />
<circle cx="112.47" cy="608.47" r="0.75" fill="#111" />
<circle cx="113.36" cy="608.55" r="0.75" fill="#111" />
<circle cx="113.92" cy="608.37" r="0.75" fill="#111" />
<line x1="121.00" y1="608.13" x2="121.00" y2="608.80" stroke="#444" stroke-width="0.6" />
<line x1="119.70" y1="608.13" x2="122.30" y2="608.13" stroke="#333" stroke-width="0.7" />
<line x1="119.70" y1="608.80" x2="122.30" y2="608.80" stroke="#333" stroke-width="0.7" />
<rect x="118.60" y="608.38" width="4.80" height="0.80" fill="#5a3cf5" stroke="#333" stroke-width="0.6"/>
<line x1="118.60" y1="608.63" x2="123.40" y2="608.63" stroke="#333" stroke-width="0.6" />
<circle cx="120.71" cy="608.13" r="0.75" fill="#111" />
<circle cx="120.32" cy="608.80" r="0.75" fill="#111" />
<circle cx="121.57" cy="608.56" r="0.75" fill="#111" />
<circle cx="122.25" cy="608.66" r="0.75" fill="#111" />
<circle cx="122.22" cy="608.74" r="0.75" fill="#111" />
<circle cx="122.10" cy="608.65" r="0.75" fill="#111" />
<circle cx="121.90" cy="608.21" r="0.75" fill="#111" />
<circle cx="121.41" cy="608.77" r="0.75" fill="#111" />
<circle cx="120.99" cy="608.70" r="0.75" fill="#111" />
<circle cx="120.01" cy="608.27" r="0.75" fill="#111" />
<circle cx="121.78" cy="608.51" r="0.75" fill="#111" />
<circle cx="120.18" cy="608.46" r="0.75" fill="#111" />
<line x1="128.35" y1="608.30" x2="128.35" y2="608.80" stroke="#444" stroke-width="0.6" />
<line x1="127.05" y1="608.30" x2="129.65" y2="608.30" stroke="#333" stroke-width="0.7" />
<line x1="127.05" y1="608.80" x2="129.65" y2="608.80" stroke="#333" stroke-width="0.7" />
<rect x="125.95" y="608.38" width="4.80" height="0.80" fill="#5a3cf5" stroke="#333" stroke-width="0.6"/>
<line x1="125.95" y1="608.63" x2="130.75" y2="608.63" stroke="#333" stroke-width="0.6" />
<circle cx="128.95" cy="608.30" r="0.75" fill="#111" />
<circle cx="128.66" cy="608.80" r="0.75" fill="#111" />
<circle cx="127.49" cy="608.37" r="0.75" fill="#111" />
<circle cx="129.43" cy="608.42" r="0.75" fill="#111" />
<circle cx="129.50" cy="608.39" r="0.75" fill="#111" />
<circle cx="127.32" cy="608.69" r="0.75" fill="#111" />
<circle cx="128.01" cy="608.41" r="0.75" fill="#111" />
<circle cx="127.54" cy="608.61" r="0.75" fill="#111" />
<circle cx="127.39" cy="608.60" r="0.75" fill="#111" />
<circle cx="128.56" cy="608.49" r="0.75" fill="#111" />
<circle cx="128.18" cy="608.41" r="0.75" fill="#111" />
<circle cx="127.40" cy="608.43" r="0.75" fill="#111" />
<line x1="135.70" y1="608.38" x2="135.70" y2="608.80" stroke="#444" stroke-width="0.6" />
<line x1="134.40" y1="608.38" x2="137.00" y2="608.38" stroke="#333" stroke-width="0.7" />
<line x1="134.40" y1="608.80" x2="137.00" y2="608.80" stroke="#333" stroke-width="0.7" />
<rect x="133.30" y="608.55" width="4.80" height="0.80" fill="#5a3cf5" stroke="#333" stroke-width="0.6"/>
<line x1="133.30" y1="608.72" x2="138.10" y2="608.72" stroke="#333" stroke-width="0.6" />
<circle cx="134.83" cy="608.38" r="0.75" fill="#111" />
<circle cx="135.02" cy="608.80" r="0.75" fill="#111" />
<circle cx="136.19" cy="608.63" r="0.75" fill="#111" />
<circle cx="135.54" cy="608.64" r="0.75" fill="#111" />
<circle cx="135.91" cy="608.45" r="0.75" fill="#111" />
<circle cx="136.69" cy="608.43" r="0.75" fill="#111" />
<circle cx="136.16" cy="608.78" r="0.75" fill="#111" />
<circle cx="136.58" cy="608.76" r="0.75" fill="#111" />
<circle cx="135.35" cy="608.65" r="0.75" fill="#111" />
<circle cx="134.58" cy="608.50" r="0.75" fill="#111" />
<circle cx="135.12" cy="608.55" r="0.75" fill="#111" />
<circle cx="136.75" cy="608.55" r="0.75" fill="#111" />
<line x1="143.05" y1="608.30" x2="143.05" y2="608.80" stroke="#444" stroke-width="0.6" />
<line x1="141.75" y1="608.30" x2="144.35" y2="608.30" stroke="#333" stroke-width="0.7" />
<line x1="141.75" y1="608.80" x2="144.35" y2="608.80" stroke="#333" stroke-width="0.7" />
<rect x="140.65" y="608.55" width="4.80" height="0.80" fill="#5a3cf5" stroke="#333" stroke-width="0.6"/>
<line x1="140.65" y1="608.72" x2="145.45" y2="608.72" stroke="#333" stroke-width="0.6" />
<circle cx="142.58" cy="608.30" r="0.75" fill="#111" />
<circle cx="143.09" cy="608.80" r="0.75" fill="#111" />
<circle cx="143.59" cy="608.77" r="0.75" fill="#111" />
<circle cx="142.95" cy="608.55" r="0.75" fill="#111" />
<circle cx="143.16" cy="608.78" r="0.75" fill="#111" />
<circle cx="144.23" cy="608.79" r="0.75" fill="#111" />
<circle cx="143.59" cy="608.46" r="0.75" fill="#111" />
<circle cx="142.76" cy="608.62" r="0.75" fill="#111" />
<circle cx="144.11" cy="608.60" r="0.75" fill="#111" />
<circle cx="143.80" cy="608.42" r="0.75" fill="#111" />
<circle cx="141.80" cy="608.56" r="0.75" fill="#111" />
<circle cx="143.03" cy="608.56" r="0.75" fill="#111" />
<line x1="150.40" y1="608.47" x2="150.40" y2="608.80" stroke="#444" stroke-width="0.6" />
<line x1="149.10" y1="608.47" x2="151.70" y2="608.47" stroke="#333" stroke-width="0.7" />
<line x1="149.10" y1="608.80" x2="151.70" y2="608.80" stroke="#333" stroke-width="0.7" />
<rect x="148.00" y="608.63" width="4.80" height="0.80" fill="#5a3cf5" stroke="#333" stroke-width="0.6"/>
<line x1="148.00" y1="608.72" x2="152.80" y2="608.72" stroke="#333" stroke-width="0.6" />
<circle cx="150.75" cy="608.47" r="0.75" fill="#111" />
<circle cx="149.76" cy="608.80" r="0.75" fill="#111" />
<circle cx="149.13" cy="608.75" r="0.75" fill="#111" />
<circle cx="151.62" cy="608.66" r="0.75" fill="#111" />
<circle cx="149.28" cy="608.72" r="0.75" fill="#111" />
<circle cx="151.08" cy="608.77" r="0.75" fill="#111" />
<circle cx="149.18" cy="608.71" r="0.75" fill="#111" />
<circle cx="149.88" cy="608.73" r="0.75" fill="#111" />
<circle cx="150.44" cy="608.70" r="0.75" fill="#111" />
<circle cx="151.44" cy="608.73" r="0.75" fill="#111" />
<circle cx="151.19" cy="608.69" r="0.75" fill="#111" />
<circle cx="149.88" cy="608.67" r="0.75" fill="#111" />
<line x1="157.75" y1="607.55" x2="157.75" y2="608.80" stroke="#444" stroke-width="0.6" />
<line x1="156.45" y1="607.55" x2="159.05" y2="607.55" stroke="#333" stroke-width="0.7" />
<line x1="156.45" y1="608.80" x2="159.05" y2="608.80" stroke="#333" stroke-width="0.7" />
<rect x="155.35" y="608.38" width="4.80" height="0.80" fill="#5a3cf5" stroke="#333" stroke-width="0.6"/>
<line x1="155.35" y1="608.63" x2="160.15" y2="608.63" stroke="#333" stroke-width="0.6" />
<circle cx="158.77" cy="607.55" r="0.75" fill="#111" />
<circle cx="156.51" cy="608.80" r="0.75" fill="#111" />
<circle cx="156.72" cy="608.49" r="0.75" fill="#111" />
<circle cx="157.11" cy="607.63" r="0.75" fill="#111" />
<circle cx="158.72" cy="608.52" r="0.75" fill="#111" />
<circle cx="158.30" cy="607.70" r="0.75" fill="#111" />
<circle cx="157.56" cy="607.84" r="0.75" fill="#111" />
<circle cx="158.83" cy="608.70" r="0.75" fill="#111" />
<circle cx="157.79" cy="608.04" r="0.75" fill="#111" />
<circle cx="156.83" cy="608.61" r="0.75" fill="#111" />
<circle cx="158.90" cy="607.69" r="0.75" fill="#111" />
<circle cx="158.37" cy="608.03" r="0.75" fill="#111" />
<line x1="165.10" y1="607.80" x2="165.10" y2="608.80" stroke="#444" stroke-width="0.6" />
<line x1="163.80" y1="607.80" x2="166.40" y2="607.80" stroke="#333" stroke-width="0.7" />
<line x1="163.80" y1="608.80" x2="166.40" y2="608.80" stroke="#333" stroke-width="0.7" />
<rect x="162.70" y="608.38" width="4.80" height="0.80" fill="#5a3cf5" stroke="#333" stroke-width="0.6"/>
<line x1="162.70" y1="608.63" x2="167.50" y2="608.63" stroke="#333" stroke-width="0.6" />
<circle cx="164.52" cy="607.80" r="0.75" fill="#111" />
<circle cx="165.31" cy="608.80" r="0.75" fill="#111" />
<circle cx="164.25" cy="608.02" r="0.75" fill="#111" />
<circle cx="165.48" cy="607.90" r="0.75" fill="#111" />
<circle cx="166.20" cy="608.80" r="0.75" fill="#111" />
<circle cx="164.63" cy="608.40" r="0.75" fill="#111" />
<circle cx="164.24" cy="608.48" r="0.75" fill="#111" />
<circle cx="166.09" cy="608.67" r="0.75" fill="#111" />
<circle cx="163.94" cy="608.50" r="0.75" fill="#111" />
<circle cx="166.02" cy="608.43" r="0.75" fill="#111" />
<circle cx="164.89" cy="608.56" r="0.75" fill="#111" />
<circle cx="165.88" cy="608.56" r="0.75" fill="#111" />
<line x1="172.45" y1="608.47" x2="172.45" y2="608.80" stroke="#444" stroke-width="0.6" />
<line x1="171.15" y1="608.47" x2="173.75" y2="608.47" stroke="#333" stroke-width="0.7" />
<line x1="171.15" y1="608.80" x2="173.75" y2="608.80" stroke="#333" stroke-width="0.7" />
<rect x="170.05" y="608.63" width="4.80" height="0.80" fill="#5a3cf5" stroke="#333" stroke-width="0.6"/>
<line x1="170.05" y1="608.72" x2="174.85" y2="608.72" stroke="#333" stroke-width="0.6" />
<circle cx="172.26" cy="608.47" r="0.75" fill="#111" />
<circle cx="172.57" cy="608.80" r="0.75" fill="#111" />
<circle cx="172.71" cy="608.64" r="0.75" fill="#111" />
<circle cx="172.43" cy="608.60" r="0.75" fill="#111" />
<circle cx="172.87" cy="608.70" r="0.75" fill="#111" />
<circle cx="171.66" cy="608.68" r="0.75" fill="#111" />
<circle cx="171.70" cy="608.76" r="0.75" fill="#111" />
<circle cx="172.02" cy="608.76" r="0.75" fill="#111" />
<circle cx="172.29" cy="608.75" r="0.75" fill="#111" />
<circle cx="171.81" cy="608.51" r="0.75" fill="#111" />
<circle cx="172.63" cy="608.68" r="0.75" fill="#111" />
<circle cx="171.34" cy="608.68" r="0.75" fill="#111" />
<line x1="179.80" y1="608.47" x2="179.80" y2="608.80" stroke="#444" stroke-width="0.6" />
<line x1="178.50" y1="608.47" x2="181.10" y2="608.47" stroke="#333" stroke-width="0.7" />
<line x1="178.50" y1="608.80" x2="181.10" y2="608.80" stroke="#333" stroke-width="0.7" />
<rect x="177.40" y="608.63" width="4.80" height="0.80" fill="#5a3cf5" stroke="#333" stroke-width="0.6"/>
<line x1="177.40" y1="608.72" x2="182.20" y2="608.72" stroke="#333" stroke-width="0.6" />
<circle cx="180.77" cy="608.47" r="0.75" fill="#111" />
<circle cx="179.35" cy="608.80" r="0.75" fill="#111" />
<circle cx="179.12" cy="608.72" r="0.75" fill="#111" />
<circle cx="180.67" cy="608.75" r="0.75" fill="#111" />
<circle cx="180.52" cy="608.65" r="0.75" fill="#111" />
<circle cx="180.25" cy="608.75" r="0.75" fill="#111" />
<circle cx="180.57" cy="608.67" r="0.75" fill="#111" />
<circle cx="180.11" cy="608.53" r="0.75" fill="#111" />
<circle cx="180.12" cy="608.65" r="0.75" fill="#111" />
<circle cx="179.52" cy="608.76" r="0.75" fill="#111" />
<circle cx="178.95" cy="608.58" r="0.75" fill="#111" />
<circle cx="180.92" cy="608.77" r="0.75" fill="#111" />
<line x1="187.15" y1="608.55" x2="187.15" y2="608.80" stroke="#444" stroke-width="0.6" />
<line x1="185.85" y1="608.55" x2="188.45" y2="608.55" stroke="#333" stroke-width="0.7" />
<line x1="185.85" y1="608.80" x2="188.45" y2="608.80" stroke="#333" stroke-width="0.7" />
<rect x="184.75" y="608.63" width="4.80" height="0.80" fill="#5a3cf5" stroke="#333" stroke-width="0.6"/>
<line x1="184.75" y1="608.72" x2="189.55" y2="608.72" stroke="#333" stroke-width="0.6" />
<circle cx="186.22" cy="608.55" r="0.75" fill="#111" />
<circle cx="188.20" cy="608.80" r="0.75" fill="#111" />
<circle cx="185.93" cy="608.67" r="0.75" fill="#111" />
<circle cx="186.67" cy="608.67" r="0.75" fill="#111" />
<circle cx="188.06" cy="608.60" r="0.75" fill="#111" />
<circle cx="185.91" cy="608.65" r="0.75" fill="#111" />
<circle cx="187.04" cy="608.76" r="0.75" fill="#111" />
<circle cx="188.02" cy="608.59" r="0.75" fill="#111" />
<circle cx="188.23" cy="608.66" r="0.75" fill="#111" />
<circle cx="187.99" cy="608.70" r="0.75" fill="#111" />
<circle cx="185.99" cy="608.78" r="0.75" fill="#111" />
<circle cx="185.95" cy="608.78" r="0.75" fill="#111" />
<text x="504.65" y="260.80" font-size="9.0" textLength="148.40" lengthAdjust="spacingAndGlyphs">gRNA-independent off-target activity</text>
<text x="497.25" y="271.50" font-size="9.0" textLength="163.20" lengthAdjust="spacingAndGlyphs">as measured by orthogonal R-loop assay</text>
<line x1="454.60" y1="280.80" x2="454.60" y2="424.50" stroke="#555" stroke-width="0.9" />
<line x1="452.30" y1="424.50" x2="454.60" y2="424.50" stroke="#555" stroke-width="0.8" />
<text x="448.30" y="427.25" font-size="7.8" text-anchor="end" textLength="4.40" lengthAdjust="spacingAndGlyphs">0</text>
<line x1="452.30" y1="410.17" x2="454.60" y2="410.17" stroke="#555" stroke-width="0.8" />
<text x="448.30" y="412.92" font-size="7.8" text-anchor="end" textLength="4.40" lengthAdjust="spacingAndGlyphs">5</text>
<line x1="452.30" y1="395.84" x2="454.60" y2="395.84" stroke="#555" stroke-width="0.8" />
<text x="448.30" y="398.59" font-size="7.8" text-anchor="end" textLength="7.80" lengthAdjust="spacingAndGlyphs">10</text>
<line x1="452.30" y1="381.51" x2="454.60" y2="381.51" stroke="#555" stroke-width="0.8" />
<text x="448.30" y="384.26" font-size="7.8" text-anchor="end" textLength="7.80" lengthAdjust="spacingAndGlyphs">15</text>
<line x1="452.30" y1="367.18" x2="454.60" y2="367.18" stroke="#555" stroke-width="0.8" />
<text x="448.30" y="369.93" font-size="7.8" text-anchor="end" textLength="8.80" lengthAdjust="spacingAndGlyphs">20</text>
<line x1="452.30" y1="352.85" x2="454.60" y2="352.85" stroke="#555" stroke-width="0.8" />
<text x="448.30" y="355.60" font-size="7.8" text-anchor="end" textLength="8.80" lengthAdjust="spacingAndGlyphs">25</text>
<line x1="452.30" y1="338.52" x2="454.60" y2="338.52" stroke="#555" stroke-width="0.8" />
<text x="448.30" y="341.27" font-size="7.8" text-anchor="end" textLength="8.80" lengthAdjust="spacingAndGlyphs">30</text>
<line x1="452.30" y1="324.19" x2="454.60" y2="324.19" stroke="#555" stroke-width="0.8" />
<text x="448.30" y="326.94" font-size="7.8" text-anchor="end" textLength="8.80" lengthAdjust="spacingAndGlyphs">35</text>
<line x1="452.30" y1="309.86" x2="454.60" y2="309.86" stroke="#555" stroke-width="0.8" />
<text x="448.30" y="312.61" font-size="7.8" text-anchor="end" textLength="8.80" lengthAdjust="spacingAndGlyphs">40</text>
<line x1="452.30" y1="295.53" x2="454.60" y2="295.53" stroke="#555" stroke-width="0.8" />
<text x="448.30" y="298.28" font-size="7.8" text-anchor="end" textLength="8.80" lengthAdjust="spacingAndGlyphs">45</text>
<line x1="452.30" y1="281.20" x2="454.60" y2="281.20" stroke="#555" stroke-width="0.8" />
<text x="448.30" y="283.95" font-size="7.8" text-anchor="end" textLength="8.80" lengthAdjust="spacingAndGlyphs">50</text>
<line x1="454.60" y1="424.50" x2="685.00" y2="424.50" stroke="#555" stroke-width="0.9" />
<line x1="454.60" y1="424.50" x2="454.60" y2="427.30" stroke="#555" stroke-width="0.8" />
<line x1="469.87" y1="424.50" x2="469.87" y2="427.30" stroke="#555" stroke-width="0.8" />
<line x1="485.14" y1="424.50" x2="485.14" y2="427.30" stroke="#555" stroke-width="0.8" />
<line x1="500.41" y1="424.50" x2="500.41" y2="427.30" stroke="#555" stroke-width="0.8" />
<line x1="515.68" y1="424.50" x2="515.68" y2="427.30" stroke="#555" stroke-width="0.8" />
<line x1="530.95" y1="424.50" x2="530.95" y2="427.30" stroke="#555" stroke-width="0.8" />
<line x1="546.22" y1="424.50" x2="546.22" y2="427.30" stroke="#555" stroke-width="0.8" />
<line x1="561.49" y1="424.50" x2="561.49" y2="427.30" stroke="#555" stroke-width="0.8" />
<line x1="576.76" y1="424.50" x2="576.76" y2="427.30" stroke="#555" stroke-width="0.8" />
<line x1="592.03" y1="424.50" x2="592.03" y2="427.30" stroke="#555" stroke-width="0.8" />
<line x1="607.30" y1="424.50" x2="607.30" y2="427.30" stroke="#555" stroke-width="0.8" />
<line x1="622.57" y1="424.50" x2="622.57" y2="427.30" stroke="#555" stroke-width="0.8" />
<line x1="637.84" y1="424.50" x2="637.84" y2="427.30" stroke="#555" stroke-width="0.8" />
<line x1="653.11" y1="424.50" x2="653.11" y2="427.30" stroke="#555" stroke-width="0.8" />
<line x1="668.38" y1="424.50" x2="668.38" y2="427.30" stroke="#555" stroke-width="0.8" />
<line x1="683.65" y1="424.50" x2="683.65" y2="427.30" stroke="#555" stroke-width="0.8" />
<text x="454.60" y="437.80" font-size="7.8" text-anchor="middle" textLength="4.40" lengthAdjust="spacingAndGlyphs">0</text>
<text x="515.68" y="437.80" font-size="7.8" text-anchor="middle" textLength="4.40" lengthAdjust="spacingAndGlyphs">4</text>
<text x="576.76" y="437.80" font-size="7.8" text-anchor="middle" textLength="4.40" lengthAdjust="spacingAndGlyphs">8</text>
<text x="637.84" y="437.80" font-size="7.8" text-anchor="middle" textLength="7.80" lengthAdjust="spacingAndGlyphs">12</text>
<text x="490.85" y="449.70" font-size="9.0" textLength="157.30" lengthAdjust="spacingAndGlyphs">Mean off-target editing activity (3 sites)</text>
<text x="421.80" y="353.30" font-size="9.0" text-anchor="middle" textLength="123.20" lengthAdjust="spacingAndGlyphs" transform="rotate(-90 421.80 353.30)">Mean on-target editing activity</text>
<text x="430.90" y="353.60" font-size="9.0" text-anchor="middle" textLength="31.60" lengthAdjust="spacingAndGlyphs" transform="rotate(-90 430.90 353.60)">(2 sites)</text>
<line x1="600.30" y1="322.60" x2="646.60" y2="322.60" stroke="#555" stroke-width="0.8" />
<line x1="600.30" y1="320.10" x2="600.30" y2="325.10" stroke="#555" stroke-width="0.8" />
<line x1="646.60" y1="320.10" x2="646.60" y2="325.10" stroke="#555" stroke-width="0.8" />
<line x1="623.60" y1="319.60" x2="623.60" y2="325.80" stroke="#555" stroke-width="0.8" />
<line x1="621.60" y1="319.60" x2="625.60" y2="319.60" stroke="#555" stroke-width="0.8" />
<line x1="621.60" y1="325.80" x2="625.60" y2="325.80" stroke="#555" stroke-width="0.8" />
<circle cx="623.60" cy="322.60" r="2.6" fill="#f08ef0" stroke="#333" stroke-width="0.6"/>
<text x="630.00" y="332.80" font-size="7.6" textLength="22.00" lengthAdjust="spacingAndGlyphs">ABE8e</text>
<line x1="520.30" y1="319.60" x2="535.40" y2="319.60" stroke="#555" stroke-width="0.8" />
<line x1="520.30" y1="317.10" x2="520.30" y2="322.10" stroke="#555" stroke-width="0.8" />
<line x1="535.40" y1="317.10" x2="535.40" y2="322.10" stroke="#555" stroke-width="0.8" />
<line x1="528.10" y1="315.90" x2="528.10" y2="323.40" stroke="#555" stroke-width="0.8" />
<line x1="525.80" y1="315.90" x2="530.40" y2="315.90" stroke="#555" stroke-width="0.8" />
<line x1="525.80" y1="323.40" x2="530.40" y2="323.40" stroke="#555" stroke-width="0.8" />
<circle cx="528.10" cy="319.60" r="2.5" fill="#ad92f0" stroke="#333" stroke-width="0.6"/>
<text x="530.50" y="331.60" font-size="7.6" textLength="53.50" lengthAdjust="spacingAndGlyphs">ABE8e + V106W</text>
<line x1="472.20" y1="313.80" x2="472.20" y2="327.40" stroke="#555" stroke-width="0.8" />
<line x1="469.70" y1="313.80" x2="474.70" y2="313.80" stroke="#555" stroke-width="0.8" />
<line x1="469.70" y1="327.40" x2="474.70" y2="327.40" stroke="#555" stroke-width="0.8" />
<line x1="469.20" y1="320.70" x2="475.20" y2="320.70" stroke="#555" stroke-width="0.8" />
<line x1="469.20" y1="318.70" x2="469.20" y2="322.70" stroke="#555" stroke-width="0.8" />
<line x1="475.20" y1="318.70" x2="475.20" y2="322.70" stroke="#555" stroke-width="0.8" />
<rect x="469.60" y="318.10" width="5.20" height="5.20" fill="#4fc3a0" rx="1.6" stroke="#333" stroke-width="0.6"/>
<text x="464.60" y="311.70" font-size="7.6" textLength="53.80" lengthAdjust="spacingAndGlyphs">ABE7.10-HRHSK</text>
<line x1="474.40" y1="355.30" x2="474.40" y2="360.30" stroke="#555" stroke-width="0.8" />
<line x1="472.40" y1="355.30" x2="476.40" y2="355.30" stroke="#555" stroke-width="0.8" />
<line x1="472.40" y1="360.30" x2="476.40" y2="360.30" stroke="#555" stroke-width="0.8" />
<rect x="472.00" y="355.10" width="4.80" height="5.40" fill="#7098d4" rx="1.3" stroke="#333" stroke-width="0.6"/>
<text x="479.90" y="360.50" font-size="7.6" textLength="27.20" lengthAdjust="spacingAndGlyphs">ABE7.10</text>
<line x1="455.20" y1="358.30" x2="455.20" y2="370.00" stroke="#555" stroke-width="0.8" />
<line x1="452.40" y1="358.30" x2="458.00" y2="358.30" stroke="#555" stroke-width="0.8" />
<line x1="452.40" y1="370.00" x2="458.00" y2="370.00" stroke="#555" stroke-width="0.8" />
<circle cx="455.20" cy="364.20" r="2.7" fill="#4b2ff2" stroke="#222" stroke-width="0.5"/>
<text x="459.80" y="370.50" font-size="7.6" textLength="18.10" lengthAdjust="spacingAndGlyphs">ABE9</text>
<circle cx="454.60" cy="424.50" r="3.0" fill="#000" />
<text x="458.70" y="421.90" font-size="7.6" textLength="21.70" lengthAdjust="spacingAndGlyphs">nCas9</text>
</svg></body></html>
